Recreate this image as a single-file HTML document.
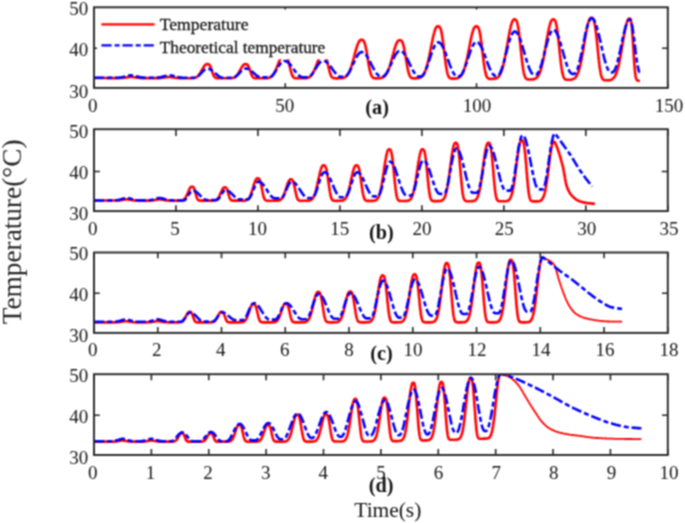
<!DOCTYPE html>
<html><head><meta charset="utf-8"><title>Temperature</title>
<style>html,body{margin:0;padding:0;background:#fff;}svg{display:block;will-change:transform;}text.lg{stroke:#151515;stroke-width:0.3px;}</style>
</head><body>
<svg width="685" height="523" viewBox="0 0 685 523">
<defs><filter id="soft" x="0" y="0" width="685" height="523" filterUnits="userSpaceOnUse" color-interpolation-filters="sRGB"><feConvolveMatrix order="3" kernelMatrix="1 2 1 2 4 2 1 2 1" edgeMode="duplicate"/></filter></defs>
<g filter="url(#soft)">
<rect width="685" height="523" fill="#fff"/>
<clipPath id="clipa"><rect x="94.0" y="7.3" width="573.8" height="80.60000000000001"/></clipPath>
<g clip-path="url(#clipa)" fill="none" stroke-linejoin="round">
<path d="M94.0 78.0 L94.7 78.0 L95.4 78.0 L96.0 78.0 L96.7 78.0 L97.4 78.0 L98.1 78.0 L98.8 78.0 L99.5 78.0 L100.1 78.0 L100.8 78.0 L101.5 78.0 L102.2 78.0 L102.9 78.0 L103.6 78.0 L104.2 78.0 L104.9 78.0 L105.6 78.0 L106.3 78.0 L107.0 78.1 L107.7 78.1 L108.3 78.1 L109.0 78.1 L109.7 78.1 L110.4 78.1 L111.1 78.1 L111.7 78.1 L112.4 78.1 L113.1 78.1 L113.8 78.1 L114.5 78.1 L115.2 78.1 L115.8 78.1 L116.5 78.1 L117.2 78.1 L117.9 78.1 L118.6 78.1 L119.3 78.0 L119.9 78.0 L120.6 78.0 L121.3 78.0 L122.0 77.9 L122.7 77.9 L123.3 77.8 L124.0 77.8 L124.7 77.7 L125.4 77.6 L126.1 77.5 L126.8 77.4 L127.4 77.2 L128.1 77.1 L128.8 77.0 L129.5 77.0 L130.2 76.9 L130.9 76.9 L131.5 76.9 L132.2 76.9 L132.9 77.0 L133.6 77.1 L134.3 77.2 L135.0 77.3 L135.6 77.4 L136.3 77.5 L137.0 77.6 L137.7 77.7 L138.4 77.8 L139.0 77.9 L139.7 77.9 L140.4 78.0 L141.1 78.0 L141.8 78.1 L142.5 78.1 L143.1 78.1 L143.8 78.1 L144.5 78.1 L145.2 78.1 L145.9 78.1 L146.6 78.1 L147.2 78.1 L147.9 78.1 L148.6 78.1 L149.3 78.1 L150.0 78.1 L150.6 78.1 L151.3 78.1 L152.0 78.1 L152.7 78.1 L153.4 78.1 L154.1 78.1 L154.7 78.1 L155.4 78.1 L156.1 78.1 L156.8 78.1 L157.5 78.1 L158.2 78.1 L158.8 78.1 L159.5 78.1 L160.2 78.0 L160.9 78.0 L161.6 77.9 L162.3 77.8 L162.9 77.8 L163.6 77.7 L164.3 77.5 L165.0 77.4 L165.7 77.3 L166.3 77.2 L167.0 77.1 L167.7 77.0 L168.4 77.0 L169.1 77.0 L169.8 77.0 L170.4 77.0 L171.1 77.1 L171.8 77.1 L172.5 77.2 L173.2 77.4 L173.9 77.5 L174.5 77.6 L175.2 77.7 L175.9 77.8 L176.6 77.9 L177.3 78.0 L177.9 78.0 L178.6 78.1 L179.3 78.1 L180.0 78.1 L180.7 78.1 L181.4 78.2 L182.0 78.2 L182.7 78.2 L183.4 78.2 L184.1 78.2 L184.8 78.2 L185.5 78.2 L186.1 78.2 L186.8 78.2 L187.5 78.2 L188.2 78.2 L188.9 78.2 L189.6 78.2 L190.2 78.2 L190.9 78.2 L191.6 78.2 L192.3 78.1 L193.0 78.1 L193.6 78.0 L194.3 77.9 L195.0 77.7 L195.7 77.5 L196.4 77.2 L196.9 76.9 L197.5 76.5 L198.0 76.0 L198.6 75.4 L199.0 74.9 L199.4 74.3 L199.8 73.7 L200.2 73.1 L200.6 72.4 L201.0 71.7 L201.4 70.9 L201.8 70.2 L202.2 69.4 L202.7 68.7 L203.1 68.0 L203.5 67.3 L203.9 66.6 L204.3 66.1 L204.7 65.5 L205.1 65.1 L205.7 64.6 L206.2 64.3 L206.9 64.1 L207.6 64.1 L208.3 64.2 L208.9 64.6 L209.5 65.1 L209.9 65.7 L210.3 66.4 L210.6 67.0 L210.8 67.7 L211.1 68.4 L211.4 69.2 L211.7 70.0 L211.9 70.8 L212.2 71.7 L212.5 72.5 L212.8 73.3 L213.0 74.0 L213.3 74.7 L213.6 75.3 L213.8 75.9 L214.3 76.6 L214.7 77.1 L215.2 77.6 L215.8 77.9 L216.4 78.1 L217.1 78.2 L217.8 78.2 L218.5 78.3 L219.2 78.3 L219.9 78.3 L220.5 78.3 L221.2 78.3 L221.9 78.3 L222.6 78.3 L223.3 78.3 L224.0 78.3 L224.6 78.3 L225.3 78.3 L226.0 78.3 L226.7 78.3 L227.4 78.3 L228.0 78.3 L228.7 78.3 L229.4 78.2 L230.1 78.2 L230.8 78.2 L231.5 78.1 L232.1 78.1 L232.8 77.9 L233.5 77.7 L234.2 77.5 L234.7 77.2 L235.3 76.9 L235.8 76.4 L236.4 75.9 L236.8 75.5 L237.2 75.0 L237.6 74.4 L238.0 73.8 L238.4 73.2 L238.8 72.5 L239.2 71.8 L239.6 71.0 L240.1 70.3 L240.5 69.5 L240.9 68.8 L241.3 68.0 L241.7 67.4 L242.1 66.7 L242.5 66.1 L242.9 65.6 L243.3 65.1 L243.9 64.7 L244.4 64.3 L245.1 64.1 L245.8 64.1 L246.5 64.2 L247.2 64.5 L247.7 65.1 L248.1 65.6 L248.5 66.4 L248.8 67.0 L249.1 67.6 L249.3 68.4 L249.6 69.1 L249.9 69.9 L250.2 70.8 L250.4 71.6 L250.7 72.4 L251.0 73.2 L251.3 74.0 L251.5 74.7 L251.8 75.3 L252.1 75.9 L252.5 76.6 L252.9 77.2 L253.4 77.7 L254.0 78.0 L254.7 78.2 L255.3 78.3 L256.0 78.3 L256.7 78.3 L257.4 78.3 L258.1 78.3 L258.8 78.3 L259.4 78.3 L260.1 78.3 L260.8 78.3 L261.5 78.3 L262.2 78.3 L262.9 78.3 L263.5 78.3 L264.2 78.3 L264.9 78.3 L265.6 78.3 L266.3 78.2 L266.9 78.2 L267.6 78.1 L268.3 78.0 L269.0 77.8 L269.7 77.6 L270.4 77.3 L270.9 77.0 L271.5 76.6 L272.0 76.1 L272.5 75.5 L273.0 75.0 L273.4 74.5 L273.8 73.9 L274.2 73.2 L274.6 72.5 L275.0 71.7 L275.3 71.1 L275.5 70.5 L275.8 69.9 L276.1 69.2 L276.4 68.6 L276.6 67.9 L276.9 67.2 L277.2 66.5 L277.5 65.8 L277.7 65.1 L278.0 64.4 L278.3 63.7 L278.6 63.0 L278.8 62.3 L279.1 61.6 L279.4 60.9 L279.6 60.3 L279.9 59.7 L280.2 59.1 L280.5 58.5 L280.9 57.7 L281.3 57.0 L281.7 56.4 L282.1 55.9 L282.6 55.4 L283.2 55.0 L283.9 54.9 L284.6 54.9 L285.2 55.0 L285.8 55.3 L286.3 55.8 L286.7 56.4 L287.2 57.2 L287.4 57.9 L287.7 58.6 L288.0 59.5 L288.2 60.4 L288.5 61.4 L288.8 62.4 L289.1 63.5 L289.3 64.7 L289.6 65.9 L289.7 66.5 L289.9 67.0 L290.0 67.6 L290.3 68.8 L290.6 69.9 L290.8 71.0 L291.1 72.0 L291.4 72.9 L291.7 73.8 L291.9 74.5 L292.2 75.2 L292.5 75.8 L292.9 76.6 L293.3 77.1 L293.8 77.6 L294.4 78.0 L295.1 78.2 L295.8 78.3 L296.4 78.3 L297.1 78.3 L297.8 78.3 L298.5 78.3 L299.2 78.3 L299.8 78.3 L300.5 78.3 L301.2 78.3 L301.9 78.3 L302.6 78.3 L303.3 78.3 L303.9 78.3 L304.6 78.3 L305.3 78.2 L306.0 78.2 L306.7 78.1 L307.4 77.9 L308.0 77.7 L308.7 77.4 L309.3 77.2 L309.8 76.8 L310.4 76.4 L310.9 75.9 L311.3 75.4 L311.7 74.9 L312.1 74.3 L312.5 73.7 L313.0 73.0 L313.4 72.2 L313.6 71.7 L313.9 71.1 L314.2 70.5 L314.5 69.9 L314.7 69.3 L315.0 68.6 L315.3 67.9 L315.5 67.3 L315.8 66.6 L316.1 65.9 L316.4 65.1 L316.6 64.4 L316.9 63.7 L317.2 63.0 L317.5 62.3 L317.7 61.6 L318.0 60.9 L318.3 60.3 L318.5 59.7 L318.8 59.1 L319.1 58.5 L319.5 57.7 L319.9 57.0 L320.3 56.4 L320.7 55.9 L321.3 55.4 L321.8 55.0 L322.5 54.9 L323.2 54.9 L323.9 55.0 L324.4 55.3 L325.0 55.8 L325.4 56.4 L325.8 57.2 L326.1 57.9 L326.3 58.6 L326.6 59.5 L326.9 60.4 L327.1 61.4 L327.4 62.4 L327.7 63.5 L328.0 64.7 L328.1 65.3 L328.2 65.8 L328.4 66.4 L328.5 67.0 L328.6 67.6 L328.9 68.8 L329.2 69.9 L329.5 71.0 L329.7 72.0 L330.0 72.9 L330.3 73.8 L330.6 74.5 L330.8 75.2 L331.1 75.8 L331.5 76.6 L331.9 77.1 L332.5 77.7 L333.0 78.0 L333.7 78.2 L334.4 78.3 L335.1 78.3 L335.7 78.4 L336.4 78.4 L337.1 78.4 L337.8 78.4 L338.5 78.3 L339.2 78.3 L339.8 78.3 L340.5 78.3 L341.2 78.2 L341.9 78.1 L342.6 78.0 L343.3 77.9 L343.9 77.6 L344.6 77.4 L345.2 77.1 L345.7 76.7 L346.3 76.2 L346.8 75.7 L347.2 75.2 L347.6 74.7 L348.0 74.1 L348.4 73.4 L348.9 72.7 L349.1 72.1 L349.4 71.6 L349.7 71.0 L349.9 70.3 L350.2 69.6 L350.5 68.9 L350.8 68.2 L351.0 67.4 L351.3 66.6 L351.6 65.7 L351.9 64.8 L352.1 63.9 L352.4 63.0 L352.7 62.0 L352.9 61.1 L353.2 60.1 L353.5 59.0 L353.8 58.0 L354.0 57.0 L354.3 56.0 L354.6 54.9 L354.9 53.9 L355.1 52.9 L355.4 51.9 L355.7 50.9 L355.9 49.9 L356.2 49.0 L356.5 48.0 L356.8 47.2 L357.0 46.3 L357.3 45.5 L357.6 44.7 L357.9 44.0 L358.1 43.4 L358.4 42.8 L358.7 42.2 L359.1 41.5 L359.5 40.9 L359.9 40.4 L360.5 40.0 L361.1 39.8 L361.8 39.7 L362.5 39.9 L363.0 40.2 L363.6 40.8 L364.0 41.5 L364.3 42.1 L364.5 42.8 L364.8 43.6 L365.1 44.5 L365.4 45.6 L365.6 46.7 L365.8 47.4 L365.9 48.0 L366.1 48.7 L366.2 49.4 L366.3 50.1 L366.5 50.9 L366.6 51.6 L366.7 52.4 L366.9 53.2 L367.0 54.0 L367.1 54.8 L367.3 55.7 L367.4 56.5 L367.6 57.4 L367.7 58.2 L367.8 59.1 L368.0 59.9 L368.1 60.8 L368.2 61.6 L368.4 62.5 L368.5 63.3 L368.6 64.1 L368.8 64.9 L368.9 65.7 L369.1 66.4 L369.2 67.2 L369.3 67.9 L369.5 68.6 L369.6 69.2 L369.7 69.9 L369.9 70.5 L370.0 71.1 L370.3 72.2 L370.6 73.2 L370.8 74.1 L371.1 74.8 L371.4 75.5 L371.6 76.1 L372.1 76.8 L372.5 77.3 L373.0 77.7 L373.6 78.0 L374.2 78.2 L374.9 78.3 L375.6 78.4 L376.3 78.4 L377.0 78.4 L377.7 78.3 L378.3 78.3 L379.0 78.3 L379.7 78.2 L380.4 78.1 L381.1 78.0 L381.7 77.8 L382.4 77.6 L383.1 77.3 L383.7 76.9 L384.2 76.5 L384.8 76.1 L385.3 75.5 L385.7 75.0 L386.1 74.4 L386.5 73.8 L386.9 73.1 L387.3 72.3 L387.6 71.7 L387.9 71.1 L388.2 70.5 L388.4 69.8 L388.7 69.1 L389.0 68.4 L389.3 67.6 L389.5 66.8 L389.8 66.0 L390.1 65.1 L390.3 64.2 L390.6 63.3 L390.9 62.3 L391.2 61.4 L391.4 60.4 L391.7 59.4 L392.0 58.4 L392.3 57.4 L392.5 56.3 L392.8 55.3 L393.1 54.3 L393.4 53.3 L393.6 52.3 L393.9 51.3 L394.2 50.3 L394.4 49.4 L394.7 48.5 L395.0 47.6 L395.3 46.7 L395.5 45.9 L395.8 45.2 L396.1 44.5 L396.4 43.8 L396.6 43.2 L396.9 42.6 L397.3 41.9 L397.7 41.3 L398.1 40.8 L398.7 40.4 L399.4 40.2 L400.0 40.2 L400.7 40.3 L401.3 40.6 L401.8 41.2 L402.2 41.8 L402.5 42.4 L402.8 43.1 L403.0 43.9 L403.3 44.8 L403.6 45.8 L403.9 46.9 L404.0 47.6 L404.1 48.2 L404.3 48.9 L404.4 49.5 L404.5 50.2 L404.7 51.0 L404.8 51.7 L405.0 52.5 L405.1 53.3 L405.2 54.1 L405.4 54.9 L405.5 55.7 L405.6 56.6 L405.8 57.4 L405.9 58.2 L406.0 59.1 L406.2 59.9 L406.3 60.8 L406.5 61.6 L406.6 62.4 L406.7 63.3 L406.9 64.1 L407.0 64.9 L407.1 65.6 L407.3 66.4 L407.4 67.1 L407.5 67.8 L407.7 68.5 L407.8 69.2 L408.0 69.8 L408.1 70.5 L408.2 71.1 L408.5 72.2 L408.8 73.2 L409.0 74.0 L409.3 74.8 L409.6 75.5 L409.9 76.1 L410.3 76.8 L410.7 77.3 L411.2 77.8 L411.8 78.1 L412.5 78.3 L413.1 78.4 L413.8 78.4 L414.5 78.4 L415.2 78.4 L415.9 78.4 L416.6 78.3 L417.2 78.3 L417.9 78.2 L418.6 78.1 L419.3 77.9 L420.0 77.7 L420.7 77.3 L421.2 77.0 L421.7 76.6 L422.3 76.1 L422.7 75.6 L423.1 75.1 L423.5 74.5 L423.9 73.9 L424.3 73.1 L424.6 72.5 L424.9 71.9 L425.2 71.3 L425.4 70.6 L425.7 69.8 L426.0 69.0 L426.2 68.2 L426.5 67.3 L426.8 66.4 L427.1 65.4 L427.3 64.4 L427.6 63.3 L427.9 62.2 L428.2 61.0 L428.3 60.4 L428.4 59.8 L428.6 59.2 L428.7 58.6 L428.8 58.0 L429.0 57.3 L429.1 56.7 L429.3 56.0 L429.4 55.4 L429.5 54.7 L429.7 54.0 L429.8 53.3 L429.9 52.7 L430.1 52.0 L430.2 51.3 L430.3 50.6 L430.5 49.9 L430.6 49.2 L430.8 48.5 L430.9 47.8 L431.0 47.1 L431.2 46.4 L431.3 45.7 L431.4 45.0 L431.6 44.3 L431.7 43.6 L431.8 42.9 L432.0 42.3 L432.1 41.6 L432.3 40.9 L432.4 40.3 L432.5 39.6 L432.7 39.0 L432.8 38.4 L432.9 37.7 L433.1 37.1 L433.2 36.5 L433.5 35.4 L433.8 34.3 L434.0 33.2 L434.3 32.3 L434.6 31.3 L434.8 30.5 L435.1 29.7 L435.4 29.0 L435.7 28.4 L435.9 27.9 L436.3 27.2 L436.8 26.7 L437.3 26.4 L438.0 26.2 L438.7 26.3 L439.2 26.6 L439.8 27.1 L440.2 27.8 L440.4 28.5 L440.7 29.2 L441.0 30.1 L441.3 31.2 L441.4 31.8 L441.5 32.4 L441.7 33.1 L441.8 33.8 L441.9 34.6 L442.1 35.4 L442.2 36.2 L442.4 37.1 L442.5 38.0 L442.6 38.9 L442.8 39.9 L442.9 40.8 L443.0 41.9 L443.2 42.9 L443.3 44.0 L443.4 45.1 L443.6 46.2 L443.7 47.3 L443.9 48.5 L444.0 49.6 L444.1 50.8 L444.3 51.9 L444.4 53.1 L444.5 54.2 L444.7 55.4 L444.8 56.5 L444.9 57.6 L445.1 58.7 L445.2 59.8 L445.4 60.9 L445.5 61.9 L445.6 62.9 L445.8 63.9 L445.9 64.9 L446.0 65.8 L446.2 66.7 L446.3 67.6 L446.5 68.4 L446.6 69.2 L446.7 69.9 L446.9 70.6 L447.0 71.3 L447.1 71.9 L447.3 72.5 L447.5 73.6 L447.8 74.5 L448.1 75.3 L448.4 76.0 L448.6 76.6 L449.0 77.2 L449.5 77.7 L450.0 78.1 L450.5 78.4 L451.2 78.5 L451.9 78.6 L452.6 78.6 L453.3 78.6 L454.0 78.6 L454.6 78.6 L455.3 78.5 L456.0 78.5 L456.7 78.4 L457.4 78.2 L458.1 78.0 L458.7 77.7 L459.3 77.4 L459.8 77.0 L460.4 76.5 L460.9 76.0 L461.3 75.4 L461.7 74.8 L462.1 74.2 L462.6 73.4 L462.8 72.8 L463.1 72.2 L463.4 71.6 L463.6 70.9 L463.9 70.2 L464.2 69.4 L464.5 68.5 L464.7 67.7 L465.0 66.7 L465.3 65.8 L465.6 64.7 L465.8 63.7 L466.1 62.5 L466.4 61.4 L466.5 60.8 L466.7 60.2 L466.8 59.6 L466.9 58.9 L467.1 58.3 L467.2 57.7 L467.3 57.0 L467.5 56.3 L467.6 55.7 L467.7 55.0 L467.9 54.3 L468.0 53.7 L468.2 53.0 L468.3 52.3 L468.4 51.6 L468.6 50.9 L468.7 50.2 L468.8 49.5 L469.0 48.8 L469.1 48.1 L469.2 47.4 L469.4 46.7 L469.5 46.0 L469.7 45.3 L469.8 44.6 L469.9 43.9 L470.1 43.2 L470.2 42.5 L470.3 41.8 L470.5 41.2 L470.6 40.5 L470.7 39.8 L470.9 39.2 L471.0 38.6 L471.2 37.9 L471.3 37.3 L471.4 36.7 L471.6 36.1 L471.8 35.0 L472.1 33.9 L472.4 32.9 L472.7 31.9 L472.9 31.0 L473.2 30.2 L473.5 29.5 L473.8 28.8 L474.0 28.2 L474.4 27.5 L474.8 26.9 L475.4 26.4 L476.1 26.2 L476.8 26.3 L477.4 26.5 L478.0 27.1 L478.4 27.8 L478.7 28.4 L478.9 29.2 L479.2 30.1 L479.5 31.1 L479.6 31.7 L479.8 32.3 L479.9 33.0 L480.0 33.7 L480.2 34.4 L480.3 35.2 L480.4 36.1 L480.6 36.9 L480.7 37.8 L480.8 38.7 L481.0 39.7 L481.1 40.7 L481.3 41.7 L481.4 42.8 L481.5 43.8 L481.7 44.9 L481.8 46.0 L481.9 47.2 L482.1 48.3 L482.2 49.5 L482.4 50.6 L482.5 51.8 L482.6 53.0 L482.8 54.1 L482.9 55.3 L483.0 56.4 L483.2 57.5 L483.3 58.7 L483.4 59.8 L483.6 60.8 L483.7 61.9 L483.9 62.9 L484.0 63.9 L484.1 64.9 L484.3 65.8 L484.4 66.7 L484.5 67.6 L484.7 68.4 L484.8 69.2 L484.9 70.0 L485.1 70.7 L485.2 71.4 L485.4 72.0 L485.5 72.6 L485.8 73.7 L486.0 74.7 L486.3 75.5 L486.6 76.2 L486.9 76.8 L487.3 77.5 L487.7 78.0 L488.2 78.4 L488.8 78.7 L489.4 78.9 L490.1 78.9 L490.8 79.0 L491.5 79.0 L492.2 78.9 L492.9 78.9 L493.5 78.8 L494.2 78.8 L494.9 78.6 L495.6 78.5 L496.3 78.2 L496.8 78.0 L497.4 77.7 L497.9 77.3 L498.5 76.8 L498.9 76.3 L499.3 75.8 L499.7 75.2 L500.1 74.5 L500.5 73.7 L500.8 73.1 L501.1 72.5 L501.3 71.8 L501.6 71.1 L501.9 70.3 L502.1 69.4 L502.4 68.6 L502.7 67.6 L503.0 66.6 L503.2 65.6 L503.5 64.5 L503.8 63.3 L503.9 62.7 L504.1 62.1 L504.2 61.5 L504.3 60.8 L504.5 60.2 L504.6 59.5 L504.7 58.8 L504.9 58.1 L505.0 57.4 L505.1 56.7 L505.3 56.0 L505.4 55.3 L505.6 54.6 L505.7 53.8 L505.8 53.1 L506.0 52.3 L506.1 51.5 L506.2 50.7 L506.4 50.0 L506.5 49.2 L506.6 48.4 L506.8 47.6 L506.9 46.8 L507.1 46.0 L507.2 45.2 L507.3 44.4 L507.5 43.6 L507.6 42.8 L507.7 42.0 L507.9 41.2 L508.0 40.4 L508.1 39.6 L508.3 38.8 L508.4 38.1 L508.6 37.3 L508.7 36.5 L508.8 35.8 L509.0 35.0 L509.1 34.3 L509.2 33.6 L509.4 32.9 L509.5 32.2 L509.7 31.5 L509.8 30.8 L509.9 30.1 L510.1 29.5 L510.2 28.9 L510.3 28.2 L510.5 27.6 L510.7 26.5 L511.0 25.4 L511.3 24.5 L511.6 23.6 L511.8 22.8 L512.1 22.0 L512.4 21.4 L512.7 20.9 L513.1 20.2 L513.5 19.7 L514.0 19.4 L514.7 19.4 L515.4 19.6 L515.9 20.0 L516.3 20.5 L516.6 21.1 L516.9 21.8 L517.2 22.6 L517.4 23.6 L517.7 24.8 L517.8 25.5 L518.0 26.2 L518.1 26.9 L518.3 27.7 L518.4 28.6 L518.5 29.4 L518.7 30.4 L518.8 31.3 L518.9 32.3 L519.1 33.4 L519.2 34.5 L519.3 35.6 L519.5 36.8 L519.6 38.0 L519.8 39.2 L519.9 40.4 L520.0 41.7 L520.2 43.0 L520.3 44.3 L520.4 45.6 L520.6 46.9 L520.7 48.2 L520.8 49.5 L521.0 50.9 L521.1 52.2 L521.3 53.5 L521.4 54.8 L521.5 56.1 L521.7 57.3 L521.8 58.5 L521.9 59.8 L522.1 60.9 L522.2 62.1 L522.3 63.2 L522.5 64.3 L522.6 65.3 L522.8 66.3 L522.9 67.3 L523.0 68.2 L523.2 69.1 L523.3 69.9 L523.4 70.7 L523.6 71.4 L523.7 72.1 L523.8 72.8 L524.0 73.4 L524.3 74.5 L524.5 75.5 L524.8 76.3 L525.1 77.0 L525.3 77.5 L525.8 78.2 L526.2 78.7 L526.7 79.1 L527.4 79.3 L528.1 79.5 L528.8 79.5 L529.4 79.5 L530.1 79.5 L530.8 79.5 L531.5 79.5 L532.2 79.4 L532.9 79.4 L533.5 79.2 L534.2 79.1 L534.9 78.8 L535.5 78.6 L536.0 78.2 L536.5 77.8 L537.1 77.3 L537.5 76.9 L537.9 76.3 L538.3 75.7 L538.7 75.0 L539.1 74.2 L539.4 73.6 L539.7 73.0 L540.0 72.3 L540.2 71.6 L540.5 70.8 L540.8 69.9 L541.0 69.0 L541.3 68.1 L541.6 67.1 L541.9 66.0 L542.1 64.9 L542.4 63.7 L542.5 63.1 L542.7 62.5 L542.8 61.9 L543.0 61.2 L543.1 60.6 L543.2 59.9 L543.4 59.2 L543.5 58.5 L543.6 57.8 L543.8 57.1 L543.9 56.4 L544.1 55.7 L544.2 54.9 L544.3 54.2 L544.5 53.4 L544.6 52.6 L544.7 51.9 L544.9 51.1 L545.0 50.3 L545.1 49.5 L545.3 48.7 L545.4 47.9 L545.6 47.1 L545.7 46.3 L545.8 45.5 L546.0 44.7 L546.1 43.9 L546.2 43.1 L546.4 42.3 L546.5 41.5 L546.6 40.7 L546.8 39.9 L546.9 39.1 L547.1 38.3 L547.2 37.5 L547.3 36.7 L547.5 36.0 L547.6 35.2 L547.7 34.5 L547.9 33.8 L548.0 33.0 L548.1 32.3 L548.3 31.6 L548.4 30.9 L548.6 30.3 L548.7 29.6 L548.8 29.0 L549.0 28.4 L549.1 27.8 L549.4 26.6 L549.6 25.5 L549.9 24.6 L550.2 23.6 L550.5 22.8 L550.7 22.1 L551.0 21.4 L551.3 20.9 L551.7 20.2 L552.1 19.8 L552.6 19.4 L553.3 19.4 L554.0 19.5 L554.6 20.0 L555.0 20.5 L555.2 21.1 L555.5 21.7 L555.8 22.6 L556.1 23.6 L556.3 24.8 L556.5 25.4 L556.6 26.2 L556.7 26.9 L556.9 27.7 L557.0 28.6 L557.2 29.4 L557.3 30.4 L557.4 31.3 L557.6 32.4 L557.7 33.4 L557.8 34.5 L558.0 35.6 L558.1 36.8 L558.2 38.0 L558.4 39.2 L558.5 40.5 L558.7 41.7 L558.8 43.0 L558.9 44.3 L559.1 45.7 L559.2 47.0 L559.3 48.3 L559.5 49.7 L559.6 51.0 L559.7 52.3 L559.9 53.6 L560.0 54.9 L560.2 56.2 L560.3 57.5 L560.4 58.7 L560.6 59.9 L560.7 61.1 L560.8 62.3 L561.0 63.4 L561.1 64.5 L561.2 65.5 L561.4 66.6 L561.5 67.5 L561.7 68.4 L561.8 69.3 L561.9 70.2 L562.1 71.0 L562.2 71.7 L562.3 72.4 L562.5 73.1 L562.6 73.7 L562.9 74.8 L563.2 75.8 L563.4 76.6 L563.7 77.3 L564.0 77.9 L564.4 78.5 L564.8 79.0 L565.3 79.4 L566.0 79.7 L566.7 79.8 L567.4 79.8 L568.1 79.8 L568.8 79.8 L569.4 79.8 L570.1 79.8 L570.8 79.7 L571.5 79.6 L572.2 79.4 L572.9 79.2 L573.5 78.9 L574.1 78.6 L574.6 78.2 L575.2 77.7 L575.6 77.3 L576.0 76.8 L576.4 76.2 L576.8 75.5 L577.2 74.7 L577.5 74.1 L577.8 73.5 L578.0 72.8 L578.3 72.1 L578.6 71.3 L578.9 70.5 L579.1 69.6 L579.4 68.7 L579.7 67.6 L580.0 66.6 L580.2 65.5 L580.5 64.3 L580.6 63.7 L580.8 63.1 L580.9 62.4 L581.0 61.8 L581.2 61.1 L581.3 60.4 L581.5 59.8 L581.6 59.1 L581.7 58.3 L581.9 57.6 L582.0 56.9 L582.1 56.1 L582.3 55.4 L582.4 54.6 L582.5 53.9 L582.7 53.1 L582.8 52.3 L583.0 51.5 L583.1 50.7 L583.2 49.9 L583.4 49.0 L583.5 48.2 L583.6 47.4 L583.8 46.6 L583.9 45.7 L584.0 44.9 L584.2 44.1 L584.3 43.2 L584.5 42.4 L584.6 41.6 L584.7 40.7 L584.9 39.9 L585.0 39.1 L585.1 38.3 L585.3 37.5 L585.4 36.7 L585.5 35.9 L585.7 35.1 L585.8 34.3 L586.0 33.5 L586.1 32.8 L586.2 32.0 L586.4 31.3 L586.5 30.6 L586.6 29.9 L586.8 29.2 L586.9 28.5 L587.0 27.8 L587.2 27.2 L587.3 26.6 L587.5 26.0 L587.6 25.4 L587.9 24.2 L588.1 23.2 L588.4 22.3 L588.7 21.4 L589.0 20.6 L589.2 20.0 L589.5 19.4 L589.9 18.7 L590.3 18.2 L590.9 17.8 L591.6 17.8 L592.2 17.9 L592.8 18.3 L593.2 18.9 L593.5 19.4 L593.7 20.1 L594.0 21.0 L594.3 22.0 L594.6 23.2 L594.7 23.9 L594.8 24.6 L595.0 25.4 L595.1 26.2 L595.2 27.1 L595.4 28.0 L595.5 28.9 L595.6 29.9 L595.8 31.0 L595.9 32.0 L596.1 33.2 L596.2 34.3 L596.3 35.5 L596.5 36.7 L596.6 38.0 L596.7 39.3 L596.9 40.6 L597.0 41.9 L597.1 43.3 L597.3 44.6 L597.4 46.0 L597.6 47.4 L597.7 48.8 L597.8 50.1 L598.0 51.5 L598.1 52.9 L598.2 54.2 L598.4 55.6 L598.5 56.9 L598.7 58.2 L598.8 59.4 L598.9 60.7 L599.1 61.9 L599.2 63.0 L599.3 64.2 L599.5 65.3 L599.6 66.3 L599.7 67.3 L599.9 68.3 L600.0 69.2 L600.2 70.1 L600.3 70.9 L600.4 71.7 L600.6 72.5 L600.7 73.2 L600.8 73.8 L601.0 74.4 L601.2 75.5 L601.5 76.5 L601.8 77.3 L602.1 77.9 L602.3 78.5 L602.7 79.1 L603.2 79.5 L603.7 79.9 L604.4 80.2 L605.1 80.3 L605.7 80.3 L606.4 80.3 L607.1 80.3 L607.8 80.3 L608.5 80.3 L609.2 80.2 L609.8 80.1 L610.5 79.9 L611.2 79.7 L611.9 79.4 L612.4 79.1 L613.0 78.6 L613.5 78.1 L613.9 77.7 L614.3 77.1 L614.8 76.5 L615.2 75.8 L615.6 75.0 L615.9 74.4 L616.1 73.8 L616.4 73.1 L616.7 72.3 L616.9 71.5 L617.2 70.7 L617.5 69.8 L617.8 68.8 L618.0 67.8 L618.3 66.7 L618.6 65.6 L618.7 65.0 L618.9 64.4 L619.0 63.8 L619.1 63.2 L619.3 62.5 L619.4 61.9 L619.5 61.2 L619.7 60.5 L619.8 59.8 L619.9 59.1 L620.1 58.4 L620.2 57.7 L620.4 56.9 L620.5 56.2 L620.6 55.4 L620.8 54.7 L620.9 53.9 L621.0 53.1 L621.2 52.3 L621.3 51.5 L621.4 50.7 L621.6 49.9 L621.7 49.1 L621.9 48.3 L622.0 47.4 L622.1 46.6 L622.3 45.8 L622.4 44.9 L622.5 44.1 L622.7 43.3 L622.8 42.5 L622.9 41.6 L623.1 40.8 L623.2 40.0 L623.4 39.2 L623.5 38.4 L623.6 37.6 L623.8 36.8 L623.9 36.0 L624.0 35.2 L624.2 34.4 L624.3 33.7 L624.5 32.9 L624.6 32.2 L624.7 31.5 L624.9 30.8 L625.0 30.1 L625.1 29.4 L625.3 28.7 L625.4 28.1 L625.5 27.5 L625.7 26.9 L625.8 26.3 L626.1 25.2 L626.4 24.1 L626.6 23.2 L626.9 22.3 L627.2 21.5 L627.5 20.8 L627.7 20.2 L628.1 19.5 L628.5 19.0 L629.1 18.7 L629.8 18.6 L630.3 18.9 L630.7 19.8 L631.0 20.8 L631.1 21.5 L631.3 22.2 L631.4 23.1 L631.5 24.2 L631.7 25.3 L631.8 26.6 L632.0 28.0 L632.1 29.5 L632.2 31.2 L632.4 33.0 L632.5 34.8 L632.6 36.8 L632.8 38.9 L632.9 41.0 L633.0 43.2 L633.2 45.4 L633.3 47.7 L633.5 49.9 L633.6 52.2 L633.7 54.4 L633.9 56.6 L634.0 58.7 L634.1 60.8 L634.3 62.7 L634.4 64.6 L634.6 66.4 L634.7 68.0 L634.8 69.6 L635.0 71.0 L635.1 72.3 L635.2 73.5 L635.4 74.5 L635.5 75.5 L635.6 76.3 L635.8 77.0 L635.9 77.6 L636.2 78.6 L636.5 79.4 L636.9 80.0 L637.4 80.4 L638.1 80.6 L638.8 80.7 L639.5 80.7 L639.9 80.7" stroke="#ff0000" stroke-width="2.6"/>
<path d="M94.0 77.8 L94.7 77.8 L95.4 77.8 L96.0 77.8 L96.7 77.8 L97.4 77.8 L98.1 77.8 L98.8 77.8 L99.5 77.8 L100.1 77.8 L100.8 77.8 L101.5 77.8 L102.2 77.8 L102.9 77.8 L103.6 77.8 L104.2 77.8 L104.9 77.8 L105.6 77.8 L106.3 77.8 L107.0 77.8 L107.7 77.8 L108.3 77.8 L109.0 77.8 L109.7 77.8 L110.4 77.8 L111.1 77.8 L111.7 77.8 L112.4 77.8 L113.1 77.8 L113.8 77.8 L114.5 77.8 L115.2 77.8 L115.8 77.8 L116.5 77.8 L117.2 77.7 L117.9 77.7 L118.6 77.7 L119.3 77.6 L119.9 77.5 L120.6 77.5 L121.3 77.4 L122.0 77.2 L122.7 77.1 L123.3 77.0 L124.0 76.8 L124.7 76.6 L125.4 76.4 L126.1 76.3 L126.8 76.1 L127.4 75.9 L128.1 75.7 L128.8 75.6 L129.5 75.5 L130.2 75.4 L130.9 75.4 L131.5 75.4 L132.2 75.5 L132.9 75.5 L133.6 75.6 L134.3 75.8 L135.0 75.9 L135.6 76.1 L136.3 76.3 L137.0 76.5 L137.7 76.7 L138.4 76.8 L139.0 77.0 L139.7 77.1 L140.4 77.3 L141.1 77.4 L141.8 77.5 L142.5 77.6 L143.1 77.6 L143.8 77.7 L144.5 77.7 L145.2 77.7 L145.9 77.8 L146.6 77.8 L147.2 77.8 L147.9 77.8 L148.6 77.8 L149.3 77.8 L150.0 77.8 L150.6 77.8 L151.3 77.8 L152.0 77.8 L152.7 77.8 L153.4 77.8 L154.1 77.8 L154.7 77.8 L155.4 77.7 L156.1 77.7 L156.8 77.7 L157.5 77.6 L158.2 77.5 L158.8 77.5 L159.5 77.4 L160.2 77.2 L160.9 77.1 L161.6 77.0 L162.3 76.8 L162.9 76.6 L163.6 76.4 L164.3 76.3 L165.0 76.1 L165.7 75.9 L166.3 75.8 L167.0 75.6 L167.7 75.5 L168.4 75.4 L169.1 75.4 L169.8 75.4 L170.4 75.5 L171.1 75.5 L171.8 75.6 L172.5 75.8 L173.2 75.9 L173.9 76.1 L174.5 76.3 L175.2 76.5 L175.9 76.7 L176.6 76.8 L177.3 77.0 L177.9 77.1 L178.6 77.3 L179.3 77.4 L180.0 77.5 L180.7 77.6 L181.4 77.6 L182.0 77.7 L182.7 77.7 L183.4 77.7 L184.1 77.8 L184.8 77.8 L185.5 77.8 L186.1 77.8 L186.8 77.8 L187.5 77.8 L188.2 77.8 L188.9 77.8 L189.6 77.8 L190.2 77.8 L190.9 77.8 L191.6 77.8 L192.3 77.8 L193.0 77.8 L193.6 77.8 L194.3 77.8 L195.0 77.8 L195.7 77.6 L196.4 77.3 L196.9 77.0 L197.5 76.7 L198.0 76.3 L198.6 75.8 L199.1 75.3 L199.7 74.7 L200.2 74.2 L200.7 73.6 L201.2 73.1 L201.6 72.7 L202.1 72.1 L202.7 71.6 L203.2 71.0 L203.7 70.5 L204.3 70.1 L204.8 69.7 L205.4 69.4 L205.9 69.1 L206.6 68.9 L207.3 68.8 L208.0 68.8 L208.7 68.9 L209.3 69.0 L210.0 69.3 L210.6 69.6 L211.1 69.9 L211.7 70.2 L212.2 70.6 L212.8 71.0 L213.3 71.5 L213.8 71.9 L214.4 72.4 L214.9 72.9 L215.5 73.4 L216.0 73.9 L216.6 74.4 L217.1 74.9 L217.7 75.3 L218.2 75.8 L218.8 76.2 L219.3 76.5 L219.9 76.9 L220.4 77.2 L221.1 77.4 L221.8 77.7 L222.4 77.8 L223.1 77.8 L223.8 77.8 L224.5 77.8 L225.2 77.8 L225.9 77.8 L226.5 77.8 L227.2 77.8 L227.9 77.8 L228.6 77.8 L229.3 77.8 L230.0 77.8 L230.6 77.8 L231.3 77.8 L232.0 77.8 L232.7 77.8 L233.4 77.8 L234.1 77.6 L234.7 77.3 L235.3 77.0 L235.8 76.6 L236.4 76.1 L236.9 75.6 L237.5 75.1 L238.0 74.6 L238.6 74.0 L239.0 73.5 L239.4 73.1 L239.8 72.6 L240.2 72.2 L240.7 71.6 L241.3 71.0 L241.8 70.5 L242.4 70.1 L242.9 69.6 L243.5 69.3 L244.0 69.0 L244.7 68.7 L245.4 68.6 L246.1 68.6 L246.7 68.6 L247.4 68.8 L248.1 69.0 L248.8 69.3 L249.3 69.6 L249.9 69.9 L250.4 70.3 L251.0 70.7 L251.5 71.2 L252.1 71.6 L252.6 72.1 L253.2 72.6 L253.7 73.1 L254.3 73.6 L254.8 74.0 L255.3 74.5 L255.9 75.0 L256.4 75.4 L257.0 75.8 L257.5 76.2 L258.1 76.5 L258.6 76.8 L259.3 77.0 L260.0 77.3 L260.7 77.4 L261.4 77.4 L262.0 77.4 L262.7 77.4 L263.4 77.4 L264.1 77.4 L264.8 77.4 L265.4 77.4 L266.1 77.4 L266.8 77.4 L267.5 77.4 L268.2 77.4 L268.9 77.4 L269.5 77.4 L270.2 77.2 L270.8 76.9 L271.3 76.5 L271.9 76.1 L272.4 75.6 L272.8 75.1 L273.2 74.6 L273.6 74.1 L274.0 73.5 L274.5 72.9 L274.9 72.3 L275.3 71.6 L275.7 71.0 L276.1 70.3 L276.5 69.6 L276.9 68.9 L277.3 68.3 L277.7 67.6 L278.1 66.9 L278.6 66.3 L279.0 65.6 L279.4 65.0 L279.8 64.5 L280.2 63.9 L280.6 63.4 L281.0 63.0 L281.6 62.4 L282.1 61.9 L282.6 61.6 L283.2 61.3 L283.9 61.0 L284.6 61.0 L285.2 61.0 L285.9 61.2 L286.6 61.5 L287.2 61.8 L287.7 62.2 L288.2 62.6 L288.8 63.1 L289.3 63.7 L289.7 64.1 L290.2 64.6 L290.6 65.0 L291.0 65.6 L291.4 66.1 L291.8 66.6 L292.2 67.2 L292.6 67.7 L293.0 68.3 L293.4 68.9 L293.8 69.5 L294.2 70.0 L294.7 70.6 L295.1 71.2 L295.5 71.7 L295.9 72.2 L296.3 72.8 L296.7 73.3 L297.1 73.7 L297.5 74.2 L298.1 74.8 L298.6 75.3 L299.2 75.8 L299.7 76.2 L300.3 76.5 L300.8 76.8 L301.5 77.0 L302.2 77.2 L302.8 77.2 L303.5 77.2 L304.2 77.2 L304.9 77.2 L305.6 77.2 L306.3 77.2 L306.9 77.2 L307.6 77.2 L308.3 77.1 L309.0 76.9 L309.5 76.6 L310.1 76.2 L310.6 75.8 L311.2 75.2 L311.6 74.7 L312.0 74.2 L312.4 73.7 L312.8 73.1 L313.2 72.5 L313.6 71.9 L314.0 71.2 L314.5 70.6 L314.9 69.9 L315.3 69.2 L315.7 68.5 L316.1 67.9 L316.5 67.2 L316.9 66.5 L317.3 65.9 L317.7 65.3 L318.1 64.7 L318.5 64.1 L319.0 63.6 L319.4 63.1 L319.8 62.7 L320.3 62.1 L320.9 61.7 L321.4 61.3 L322.0 61.1 L322.6 60.9 L323.3 60.8 L324.0 60.9 L324.7 61.1 L325.4 61.4 L325.9 61.7 L326.5 62.1 L327.0 62.5 L327.6 63.0 L328.1 63.6 L328.5 64.0 L328.9 64.5 L329.3 65.0 L329.7 65.5 L330.2 66.0 L330.6 66.5 L331.0 67.1 L331.4 67.6 L331.8 68.2 L332.2 68.8 L332.6 69.3 L333.0 69.9 L333.4 70.5 L333.8 71.0 L334.2 71.6 L334.7 72.1 L335.1 72.6 L335.5 73.1 L335.9 73.5 L336.3 74.0 L336.8 74.5 L337.4 75.0 L337.9 75.5 L338.5 75.9 L339.0 76.2 L339.6 76.5 L340.3 76.7 L340.9 76.8 L341.6 76.8 L342.3 76.8 L343.0 76.8 L343.7 76.8 L344.3 76.8 L345.0 76.7 L345.7 76.4 L346.3 76.0 L346.8 75.5 L347.2 75.0 L347.6 74.5 L348.0 74.0 L348.4 73.4 L348.9 72.7 L349.3 72.1 L349.7 71.3 L350.1 70.6 L350.5 69.7 L350.8 69.2 L351.0 68.6 L351.3 68.1 L351.6 67.5 L351.9 66.9 L352.1 66.3 L352.4 65.7 L352.7 65.1 L352.9 64.5 L353.2 63.9 L353.5 63.3 L353.8 62.7 L354.0 62.1 L354.3 61.5 L354.6 60.9 L354.9 60.3 L355.1 59.8 L355.4 59.2 L355.7 58.7 L356.1 57.9 L356.5 57.1 L356.9 56.4 L357.3 55.8 L357.7 55.1 L358.1 54.6 L358.5 54.0 L359.0 53.6 L359.5 53.0 L360.0 52.6 L360.6 52.3 L361.3 52.1 L362.0 52.0 L362.6 52.2 L363.3 52.4 L363.9 52.7 L364.4 53.2 L365.0 53.7 L365.5 54.3 L365.9 54.7 L366.3 55.3 L366.7 55.9 L367.1 56.5 L367.6 57.1 L368.0 57.8 L368.4 58.5 L368.8 59.3 L369.2 60.0 L369.6 60.8 L370.0 61.6 L370.3 62.1 L370.6 62.7 L370.8 63.2 L371.1 63.8 L371.4 64.3 L371.6 64.8 L371.9 65.4 L372.2 65.9 L372.5 66.5 L372.7 67.0 L373.1 67.8 L373.6 68.6 L374.0 69.3 L374.4 70.1 L374.8 70.8 L375.2 71.4 L375.6 72.1 L376.0 72.7 L376.4 73.3 L376.8 73.8 L377.2 74.3 L377.7 74.7 L378.2 75.2 L378.7 75.7 L379.3 76.0 L380.0 76.3 L380.7 76.4 L381.3 76.4 L382.0 76.4 L382.7 76.4 L383.4 76.2 L383.9 76.0 L384.5 75.6 L385.0 75.1 L385.4 74.6 L385.8 74.1 L386.3 73.5 L386.7 72.9 L387.1 72.3 L387.5 71.6 L387.9 70.8 L388.3 70.0 L388.6 69.5 L388.8 68.9 L389.1 68.3 L389.4 67.7 L389.7 67.1 L389.9 66.5 L390.2 65.9 L390.5 65.3 L390.8 64.7 L391.0 64.1 L391.3 63.4 L391.6 62.8 L391.8 62.2 L392.1 61.6 L392.4 61.0 L392.7 60.4 L392.9 59.8 L393.2 59.2 L393.5 58.6 L393.8 58.0 L394.0 57.5 L394.3 56.9 L394.7 56.2 L395.1 55.4 L395.5 54.7 L395.9 54.1 L396.4 53.5 L396.8 52.9 L397.2 52.4 L397.7 51.9 L398.3 51.5 L398.8 51.1 L399.5 50.9 L400.2 50.8 L400.9 50.9 L401.5 51.2 L402.1 51.6 L402.6 52.0 L403.2 52.5 L403.6 53.0 L404.0 53.5 L404.4 54.0 L404.8 54.6 L405.2 55.2 L405.6 55.9 L406.0 56.6 L406.5 57.4 L406.9 58.1 L407.3 58.9 L407.5 59.5 L407.8 60.0 L408.1 60.6 L408.4 61.1 L408.6 61.7 L408.9 62.3 L409.2 62.9 L409.5 63.4 L409.7 64.0 L410.0 64.6 L410.3 65.2 L410.6 65.7 L410.8 66.3 L411.1 66.9 L411.4 67.4 L411.6 68.0 L411.9 68.5 L412.3 69.3 L412.7 70.1 L413.1 70.8 L413.6 71.5 L414.0 72.2 L414.4 72.8 L414.8 73.4 L415.2 74.0 L415.6 74.5 L416.0 74.9 L416.6 75.5 L417.1 75.9 L417.6 76.2 L418.3 76.5 L419.0 76.6 L419.7 76.6 L420.4 76.6 L421.1 76.6 L421.7 76.3 L422.3 75.9 L422.8 75.4 L423.2 74.9 L423.7 74.3 L424.1 73.6 L424.5 72.8 L424.7 72.3 L425.0 71.7 L425.3 71.1 L425.6 70.5 L425.8 69.9 L426.1 69.2 L426.4 68.5 L426.7 67.8 L426.9 67.0 L427.2 66.3 L427.5 65.5 L427.7 64.7 L428.0 63.9 L428.3 63.1 L428.6 62.3 L428.8 61.4 L429.1 60.6 L429.4 59.8 L429.7 58.9 L429.9 58.1 L430.2 57.3 L430.5 56.5 L430.8 55.6 L431.0 54.8 L431.3 54.0 L431.6 53.2 L431.8 52.5 L432.1 51.7 L432.4 51.0 L432.7 50.3 L432.9 49.6 L433.2 48.9 L433.5 48.3 L433.8 47.7 L434.0 47.1 L434.3 46.5 L434.7 45.7 L435.1 45.0 L435.5 44.4 L435.9 43.8 L436.3 43.4 L436.9 42.9 L437.4 42.6 L438.1 42.4 L438.8 42.4 L439.5 42.7 L440.0 43.1 L440.6 43.6 L441.0 44.0 L441.4 44.5 L441.8 45.1 L442.2 45.8 L442.6 46.5 L443.0 47.3 L443.3 47.9 L443.6 48.4 L443.9 49.0 L444.1 49.6 L444.4 50.3 L444.7 50.9 L444.9 51.6 L445.2 52.3 L445.5 53.0 L445.8 53.7 L446.0 54.4 L446.3 55.2 L446.6 55.9 L446.9 56.6 L447.1 57.4 L447.4 58.2 L447.7 58.9 L448.0 59.7 L448.2 60.5 L448.5 61.2 L448.8 62.0 L449.0 62.7 L449.3 63.5 L449.6 64.2 L449.9 64.9 L450.1 65.6 L450.4 66.4 L450.7 67.0 L451.0 67.7 L451.2 68.4 L451.5 69.0 L451.8 69.6 L452.0 70.2 L452.3 70.8 L452.6 71.4 L453.0 72.2 L453.4 72.9 L453.8 73.5 L454.2 74.2 L454.6 74.7 L455.1 75.2 L455.6 75.7 L456.1 76.0 L456.7 76.3 L457.4 76.4 L458.1 76.4 L458.7 76.4 L459.4 76.4 L460.1 76.0 L460.6 75.6 L461.2 75.0 L461.6 74.5 L462.0 73.9 L462.4 73.2 L462.8 72.4 L463.1 71.9 L463.4 71.3 L463.6 70.7 L463.9 70.0 L464.2 69.4 L464.5 68.7 L464.7 68.0 L465.0 67.2 L465.3 66.5 L465.6 65.7 L465.8 64.9 L466.1 64.1 L466.4 63.3 L466.7 62.5 L466.9 61.7 L467.2 60.8 L467.5 60.0 L467.7 59.2 L468.0 58.3 L468.3 57.5 L468.6 56.6 L468.8 55.8 L469.1 55.0 L469.4 54.2 L469.7 53.4 L469.9 52.6 L470.2 51.8 L470.5 51.1 L470.7 50.4 L471.0 49.6 L471.3 49.0 L471.6 48.3 L471.8 47.7 L472.1 47.1 L472.4 46.5 L472.7 45.9 L473.1 45.2 L473.5 44.5 L473.9 43.8 L474.3 43.3 L474.7 42.9 L475.3 42.4 L475.8 42.1 L476.5 42.0 L477.2 42.0 L477.8 42.3 L478.4 42.7 L478.9 43.3 L479.3 43.7 L479.8 44.3 L480.2 44.9 L480.6 45.6 L481.0 46.3 L481.4 47.1 L481.7 47.6 L481.9 48.2 L482.2 48.8 L482.5 49.4 L482.8 50.1 L483.0 50.7 L483.3 51.4 L483.6 52.1 L483.9 52.8 L484.1 53.5 L484.4 54.2 L484.7 55.0 L484.9 55.7 L485.2 56.4 L485.5 57.2 L485.8 58.0 L486.0 58.7 L486.3 59.5 L486.6 60.2 L486.9 61.0 L487.1 61.7 L487.4 62.5 L487.7 63.2 L487.9 64.0 L488.2 64.7 L488.5 65.4 L488.8 66.1 L489.0 66.8 L489.3 67.4 L489.6 68.1 L489.9 68.7 L490.1 69.3 L490.4 69.9 L490.7 70.5 L491.0 71.0 L491.4 71.8 L491.8 72.5 L492.2 73.1 L492.6 73.7 L493.0 74.2 L493.4 74.7 L494.0 75.1 L494.5 75.5 L495.2 75.8 L495.9 75.8 L496.5 75.8 L497.2 75.8 L497.9 75.6 L498.5 75.2 L499.0 74.7 L499.4 74.1 L499.8 73.4 L500.2 72.6 L500.5 72.0 L500.8 71.4 L501.1 70.7 L501.3 70.0 L501.6 69.3 L501.9 68.5 L502.1 67.7 L502.4 66.8 L502.7 66.0 L503.0 65.0 L503.2 64.1 L503.5 63.1 L503.8 62.2 L504.1 61.1 L504.3 60.1 L504.6 59.1 L504.9 58.0 L505.1 57.0 L505.4 55.9 L505.7 54.8 L506.0 53.7 L506.2 52.7 L506.5 51.6 L506.8 50.5 L507.1 49.4 L507.3 48.4 L507.6 47.3 L507.9 46.3 L508.1 45.3 L508.4 44.3 L508.7 43.3 L509.0 42.4 L509.2 41.5 L509.5 40.6 L509.8 39.7 L510.1 38.9 L510.3 38.1 L510.6 37.4 L510.9 36.7 L511.2 36.0 L511.4 35.4 L511.7 34.8 L512.0 34.2 L512.4 33.5 L512.8 32.9 L513.2 32.4 L513.7 31.9 L514.3 31.6 L515.0 31.5 L515.7 31.7 L516.2 32.0 L516.7 32.6 L517.2 33.1 L517.6 33.6 L518.0 34.3 L518.4 35.1 L518.7 35.6 L518.9 36.2 L519.2 36.8 L519.5 37.5 L519.8 38.1 L520.0 38.8 L520.3 39.6 L520.6 40.3 L520.8 41.1 L521.1 41.9 L521.4 42.8 L521.7 43.6 L521.9 44.5 L522.2 45.4 L522.5 46.3 L522.8 47.2 L523.0 48.1 L523.3 49.1 L523.6 50.0 L523.8 50.9 L524.1 51.9 L524.4 52.9 L524.7 53.8 L524.9 54.8 L525.2 55.7 L525.5 56.7 L525.8 57.6 L526.0 58.5 L526.3 59.5 L526.6 60.4 L526.9 61.3 L527.1 62.1 L527.4 63.0 L527.7 63.8 L527.9 64.7 L528.2 65.4 L528.5 66.2 L528.8 67.0 L529.0 67.7 L529.3 68.4 L529.6 69.0 L529.9 69.7 L530.1 70.2 L530.4 70.8 L530.8 71.6 L531.2 72.3 L531.6 72.9 L532.0 73.4 L532.6 73.9 L533.1 74.3 L533.8 74.6 L534.5 74.6 L535.2 74.6 L535.9 74.6 L536.5 74.4 L537.1 74.0 L537.6 73.4 L538.0 72.9 L538.5 72.2 L538.9 71.4 L539.1 70.8 L539.4 70.2 L539.7 69.5 L540.0 68.8 L540.2 68.0 L540.5 67.3 L540.8 66.4 L541.0 65.6 L541.3 64.7 L541.6 63.8 L541.9 62.8 L542.1 61.8 L542.4 60.8 L542.7 59.8 L543.0 58.8 L543.2 57.7 L543.5 56.7 L543.8 55.6 L544.1 54.5 L544.3 53.4 L544.6 52.3 L544.9 51.3 L545.1 50.2 L545.4 49.1 L545.7 48.0 L546.0 46.9 L546.2 45.9 L546.5 44.9 L546.8 43.8 L547.1 42.8 L547.3 41.9 L547.6 40.9 L547.9 40.0 L548.1 39.1 L548.4 38.2 L548.7 37.4 L549.0 36.6 L549.2 35.8 L549.5 35.1 L549.8 34.4 L550.1 33.8 L550.3 33.2 L550.6 32.6 L551.0 31.9 L551.4 31.3 L551.8 30.8 L552.4 30.3 L552.9 30.0 L553.6 29.9 L554.3 30.1 L554.8 30.5 L555.4 31.0 L555.8 31.5 L556.2 32.1 L556.6 32.8 L557.0 33.6 L557.3 34.2 L557.6 34.8 L557.8 35.4 L558.1 36.1 L558.4 36.8 L558.7 37.5 L558.9 38.3 L559.2 39.1 L559.5 39.9 L559.7 40.7 L560.0 41.6 L560.3 42.5 L560.6 43.4 L560.8 44.3 L561.1 45.2 L561.4 46.2 L561.7 47.1 L561.9 48.1 L562.2 49.1 L562.5 50.1 L562.8 51.0 L563.0 52.0 L563.3 53.0 L563.6 54.0 L563.8 55.0 L564.1 56.0 L564.4 56.9 L564.7 57.9 L564.9 58.8 L565.2 59.8 L565.5 60.7 L565.8 61.6 L566.0 62.4 L566.3 63.3 L566.6 64.1 L566.8 64.9 L567.1 65.7 L567.4 66.5 L567.7 67.2 L567.9 67.9 L568.2 68.6 L568.5 69.2 L568.8 69.8 L569.0 70.3 L569.4 71.1 L569.8 71.8 L570.3 72.4 L570.7 72.9 L571.2 73.4 L571.8 73.7 L572.4 73.9 L573.1 73.9 L573.8 73.9 L574.5 73.8 L575.0 73.5 L575.6 72.9 L576.0 72.3 L576.4 71.6 L576.7 71.0 L576.9 70.3 L577.2 69.6 L577.5 68.9 L577.8 68.1 L578.0 67.2 L578.3 66.3 L578.6 65.4 L578.9 64.4 L579.1 63.3 L579.4 62.2 L579.7 61.1 L580.0 60.0 L580.1 59.4 L580.2 58.8 L580.4 58.2 L580.5 57.5 L580.6 56.9 L580.8 56.3 L580.9 55.7 L581.0 55.0 L581.2 54.4 L581.3 53.7 L581.5 53.1 L581.6 52.4 L581.7 51.7 L581.9 51.1 L582.0 50.4 L582.1 49.7 L582.3 49.1 L582.4 48.4 L582.5 47.7 L582.7 47.0 L582.8 46.4 L583.0 45.7 L583.1 45.0 L583.2 44.3 L583.4 43.6 L583.5 43.0 L583.6 42.3 L583.8 41.6 L583.9 40.9 L584.0 40.3 L584.2 39.6 L584.3 39.0 L584.5 38.3 L584.6 37.7 L584.7 37.0 L584.9 36.4 L585.0 35.7 L585.1 35.1 L585.3 34.5 L585.4 33.9 L585.5 33.3 L585.7 32.7 L585.8 32.1 L586.1 30.9 L586.4 29.8 L586.6 28.7 L586.9 27.7 L587.2 26.7 L587.5 25.7 L587.7 24.8 L588.0 24.0 L588.3 23.2 L588.5 22.4 L588.8 21.7 L589.1 21.1 L589.4 20.5 L589.8 19.8 L590.2 19.2 L590.6 18.7 L591.1 18.3 L591.8 18.2 L592.5 18.4 L593.1 18.9 L593.5 19.3 L593.9 19.9 L594.3 20.6 L594.7 21.4 L595.0 22.0 L595.2 22.7 L595.5 23.4 L595.8 24.1 L596.1 24.9 L596.3 25.7 L596.6 26.6 L596.9 27.5 L597.1 28.4 L597.4 29.4 L597.7 30.4 L598.0 31.4 L598.2 32.5 L598.5 33.6 L598.8 34.7 L599.1 35.8 L599.3 36.9 L599.6 38.1 L599.7 38.7 L599.9 39.3 L600.0 39.9 L600.2 40.5 L600.3 41.1 L600.4 41.7 L600.6 42.3 L600.7 42.9 L600.8 43.5 L601.0 44.1 L601.1 44.7 L601.2 45.3 L601.4 45.9 L601.5 46.5 L601.7 47.1 L601.8 47.7 L601.9 48.3 L602.1 48.9 L602.2 49.5 L602.3 50.1 L602.5 50.7 L602.6 51.3 L602.7 51.9 L602.9 52.5 L603.2 53.7 L603.4 54.8 L603.7 55.9 L604.0 57.1 L604.2 58.1 L604.5 59.2 L604.8 60.2 L605.1 61.2 L605.3 62.2 L605.6 63.1 L605.9 64.0 L606.2 64.9 L606.4 65.7 L606.7 66.5 L607.0 67.2 L607.3 67.9 L607.5 68.5 L607.8 69.1 L608.1 69.7 L608.5 70.4 L608.9 71.1 L609.3 71.6 L609.8 72.0 L610.4 72.3 L611.1 72.4 L611.8 72.4 L612.4 72.4 L613.1 72.1 L613.7 71.6 L614.1 71.1 L614.5 70.5 L614.9 69.7 L615.2 69.1 L615.4 68.4 L615.7 67.7 L616.0 66.9 L616.3 66.1 L616.5 65.3 L616.8 64.4 L617.1 63.4 L617.4 62.4 L617.6 61.4 L617.9 60.3 L618.2 59.2 L618.4 58.1 L618.7 57.0 L618.9 56.4 L619.0 55.8 L619.1 55.2 L619.3 54.6 L619.4 53.9 L619.5 53.3 L619.7 52.7 L619.8 52.1 L619.9 51.5 L620.1 50.8 L620.2 50.2 L620.4 49.5 L620.5 48.9 L620.6 48.3 L620.8 47.6 L620.9 47.0 L621.0 46.3 L621.2 45.7 L621.3 45.0 L621.4 44.4 L621.6 43.7 L621.7 43.1 L621.9 42.5 L622.0 41.8 L622.1 41.2 L622.3 40.6 L622.4 39.9 L622.5 39.3 L622.7 38.7 L622.8 38.1 L622.9 37.4 L623.1 36.8 L623.2 36.2 L623.4 35.6 L623.5 35.0 L623.6 34.4 L623.9 33.3 L624.2 32.2 L624.5 31.1 L624.7 30.0 L625.0 29.0 L625.3 28.0 L625.5 27.1 L625.8 26.2 L626.1 25.4 L626.4 24.6 L626.6 23.8 L626.9 23.2 L627.2 22.5 L627.5 21.9 L627.9 21.2 L628.3 20.5 L628.7 20.0 L629.2 19.6 L629.9 19.4 L630.5 19.8 L630.9 20.5 L631.1 21.3 L631.4 22.2 L631.7 23.3 L631.8 24.0 L632.0 24.6 L632.1 25.3 L632.2 26.1 L632.4 26.8 L632.5 27.6 L632.6 28.5 L632.8 29.4 L632.9 30.3 L633.0 31.2 L633.2 32.2 L633.3 33.2 L633.5 34.2 L633.6 35.2 L633.7 36.3 L633.9 37.3 L634.0 38.4 L634.1 39.5 L634.3 40.6 L634.4 41.7 L634.6 42.9 L634.7 44.0 L634.8 45.1 L635.0 46.3 L635.1 47.4 L635.2 48.5 L635.4 49.7 L635.5 50.8 L635.6 51.9 L635.8 53.0 L635.9 54.1 L636.1 55.2 L636.2 56.2 L636.3 57.3 L636.5 58.3 L636.6 59.3 L636.7 60.2 L636.9 61.2 L637.0 62.1 L637.1 63.0 L637.3 63.8 L637.4 64.6 L637.6 65.4 L637.7 66.1 L637.8 66.9 L638.0 67.5 L638.1 68.1 L638.4 69.3 L638.6 70.2 L638.9 71.0 L639.2 71.6 L639.6 72.1 L639.9 72.2" stroke="#0000ff" stroke-width="2.6" stroke-dasharray="10.2 3.0 5.0 2.9"/>
</g>
<rect x="97" y="10" width="243" height="49.3" fill="#fff"/>
<line x1="101.4" y1="24.3" x2="154.6" y2="24.3" stroke="#ff0000" stroke-width="2.2"/>
<line x1="101.4" y1="45.4" x2="154.6" y2="45.4" stroke="#0000ff" stroke-width="2.2" stroke-dasharray="10.2 3.0 5.0 2.9"/>
<text class="lg" x="159.8" y="30.4" font-family="'Liberation Serif', serif" font-size="17.6" fill="#151515">Temperature</text>
<text class="lg" x="159.8" y="52.6" font-family="'Liberation Serif', serif" font-size="17.6" fill="#151515" textLength="165.5" lengthAdjust="spacingAndGlyphs">Theoretical temperature</text>
<rect x="94.0" y="7.3" width="573.8" height="80.60000000000001" fill="none" stroke="#262626" stroke-width="1.9"/>
<path d="M94.00 87.9 V83.30 M94.00 7.3 V9.50 M285.27 87.9 V83.30 M285.27 7.3 V9.50 M476.53 87.9 V83.30 M476.53 7.3 V9.50 M667.80 87.9 V83.30 M667.80 7.3 V9.50 M94.0 48.20 H97.00 M667.8 48.20 H662.00" stroke="#262626" stroke-width="1.6" fill="none"/>
<text x="92.80" y="112.30" font-family="'Liberation Serif', serif" font-size="19.0" fill="#151515" text-anchor="middle">0</text>
<text x="284.87" y="112.30" font-family="'Liberation Serif', serif" font-size="19.0" fill="#151515" text-anchor="middle">50</text>
<text x="476.93" y="112.30" font-family="'Liberation Serif', serif" font-size="19.0" fill="#151515" text-anchor="middle">100</text>
<text x="669.00" y="112.30" font-family="'Liberation Serif', serif" font-size="19.0" fill="#151515" text-anchor="middle">150</text>
<text x="88.30" y="97.95" font-family="'Liberation Serif', serif" font-size="19.0" fill="#151515" text-anchor="end">30</text>
<text x="88.30" y="55.60" font-family="'Liberation Serif', serif" font-size="19.0" fill="#151515" text-anchor="end">40</text>
<text x="88.30" y="14.90" font-family="'Liberation Serif', serif" font-size="19.0" fill="#151515" text-anchor="end">50</text>
<clipPath id="clipb"><rect x="94.0" y="129.2" width="573.8" height="81.9"/></clipPath>
<g clip-path="url(#clipb)" fill="none" stroke-linejoin="round">
<path d="M94.0 200.5 L94.7 200.5 L95.4 200.5 L96.1 200.5 L96.8 200.5 L97.5 200.5 L98.1 200.5 L98.8 200.5 L99.5 200.5 L100.2 200.5 L100.9 200.5 L101.6 200.5 L102.3 200.5 L103.0 200.5 L103.7 200.5 L104.4 200.5 L105.0 200.5 L105.7 200.5 L106.4 200.5 L107.1 200.5 L107.8 200.5 L108.5 200.5 L109.2 200.5 L109.9 200.5 L110.6 200.5 L111.3 200.5 L111.9 200.5 L112.6 200.5 L113.3 200.5 L114.0 200.5 L114.7 200.5 L115.4 200.5 L116.1 200.5 L116.8 200.5 L117.5 200.5 L118.2 200.5 L118.8 200.4 L119.5 200.4 L120.2 200.3 L120.9 200.2 L121.6 200.1 L122.3 200.0 L123.0 199.8 L123.7 199.7 L124.4 199.6 L125.1 199.5 L125.7 199.4 L126.4 199.3 L127.1 199.3 L127.8 199.4 L128.5 199.5 L129.2 199.6 L129.9 199.7 L130.6 199.8 L131.3 200.0 L132.0 200.1 L132.7 200.2 L133.3 200.3 L134.0 200.4 L134.7 200.4 L135.4 200.5 L136.1 200.5 L136.8 200.5 L137.5 200.5 L138.2 200.6 L138.9 200.6 L139.6 200.6 L140.2 200.6 L140.9 200.6 L141.6 200.6 L142.3 200.6 L143.0 200.6 L143.7 200.6 L144.4 200.6 L145.1 200.6 L145.8 200.6 L146.5 200.6 L147.1 200.6 L147.8 200.6 L148.5 200.6 L149.2 200.6 L149.9 200.5 L150.6 200.5 L151.3 200.5 L152.0 200.4 L152.7 200.4 L153.4 200.3 L154.0 200.2 L154.7 200.1 L155.4 199.9 L156.1 199.8 L156.8 199.7 L157.5 199.5 L158.2 199.4 L158.9 199.4 L159.6 199.4 L160.3 199.4 L161.0 199.4 L161.6 199.5 L162.3 199.7 L163.0 199.8 L163.7 199.9 L164.4 200.1 L165.1 200.2 L165.8 200.3 L166.5 200.4 L167.2 200.4 L167.9 200.5 L168.5 200.5 L169.2 200.5 L169.9 200.6 L170.6 200.6 L171.3 200.6 L172.0 200.6 L172.7 200.6 L173.4 200.6 L174.1 200.6 L174.8 200.6 L175.4 200.6 L176.1 200.6 L176.8 200.6 L177.5 200.6 L178.2 200.6 L178.9 200.6 L179.6 200.6 L180.3 200.6 L181.0 200.5 L181.7 200.4 L182.3 200.3 L182.9 200.1 L183.5 199.8 L184.1 199.4 L184.5 199.0 L185.0 198.5 L185.5 197.8 L185.8 197.3 L186.1 196.6 L186.5 195.9 L186.8 195.2 L187.2 194.4 L187.5 193.6 L187.8 193.0 L188.0 192.4 L188.2 191.9 L188.4 191.3 L188.8 190.5 L189.1 189.7 L189.5 189.0 L189.8 188.4 L190.2 187.8 L190.6 187.2 L191.2 186.8 L191.9 186.7 L192.6 186.7 L193.2 187.0 L193.6 187.6 L194.0 188.2 L194.3 189.0 L194.5 189.6 L194.8 190.3 L195.0 191.1 L195.2 191.9 L195.5 192.8 L195.7 193.7 L195.9 194.5 L196.2 195.4 L196.4 196.2 L196.6 196.9 L196.8 197.6 L197.1 198.2 L197.4 199.0 L197.8 199.5 L198.2 200.0 L198.8 200.4 L199.5 200.6 L200.2 200.6 L200.9 200.6 L201.6 200.6 L202.2 200.6 L202.9 200.6 L203.6 200.6 L204.3 200.6 L205.0 200.6 L205.7 200.6 L206.4 200.6 L207.1 200.6 L207.8 200.6 L208.5 200.6 L209.1 200.6 L209.8 200.6 L210.5 200.6 L211.2 200.6 L211.9 200.6 L212.6 200.6 L213.3 200.6 L214.0 200.5 L214.7 200.4 L215.4 200.3 L215.9 200.1 L216.5 199.8 L217.1 199.3 L217.5 198.9 L218.0 198.3 L218.4 197.8 L218.7 197.3 L219.0 196.6 L219.4 196.0 L219.7 195.2 L220.1 194.5 L220.4 193.7 L220.8 192.9 L221.1 192.1 L221.5 191.3 L221.8 190.5 L222.1 189.8 L222.5 189.2 L222.8 188.6 L223.3 188.0 L223.8 187.6 L224.3 187.4 L225.0 187.4 L225.7 187.5 L226.3 188.0 L226.6 188.6 L227.0 189.3 L227.2 189.8 L227.4 190.5 L227.7 191.2 L227.9 192.0 L228.1 192.8 L228.4 193.6 L228.6 194.4 L228.8 195.2 L229.1 196.0 L229.3 196.8 L229.5 197.5 L229.7 198.1 L230.1 198.8 L230.4 199.4 L230.9 200.0 L231.5 200.4 L232.0 200.6 L232.7 200.6 L233.4 200.6 L234.1 200.6 L234.8 200.6 L235.5 200.6 L236.2 200.6 L236.9 200.6 L237.6 200.6 L238.3 200.6 L238.9 200.6 L239.6 200.6 L240.3 200.6 L241.0 200.6 L241.7 200.6 L242.4 200.6 L243.1 200.6 L243.8 200.6 L244.5 200.6 L245.2 200.5 L245.8 200.3 L246.4 200.2 L247.0 199.9 L247.6 199.6 L248.1 199.1 L248.6 198.6 L249.1 198.0 L249.4 197.5 L249.8 196.9 L250.1 196.2 L250.4 195.4 L250.8 194.6 L251.0 194.0 L251.3 193.3 L251.5 192.7 L251.7 192.0 L251.9 191.3 L252.2 190.5 L252.4 189.8 L252.6 189.0 L252.9 188.2 L253.1 187.5 L253.3 186.7 L253.6 185.9 L253.8 185.2 L254.0 184.4 L254.2 183.7 L254.5 183.0 L254.7 182.4 L254.9 181.8 L255.2 181.2 L255.5 180.4 L255.9 179.8 L256.2 179.2 L256.7 178.7 L257.2 178.4 L257.9 178.3 L258.6 178.5 L259.2 179.0 L259.5 179.5 L259.9 180.3 L260.1 180.9 L260.3 181.6 L260.6 182.4 L260.8 183.3 L261.0 184.3 L261.3 185.3 L261.5 186.5 L261.7 187.6 L261.8 188.2 L262.0 188.8 L262.1 189.4 L262.2 190.0 L262.3 190.6 L262.5 191.8 L262.8 192.9 L263.0 194.0 L263.2 195.0 L263.4 195.9 L263.7 196.7 L263.9 197.4 L264.1 198.1 L264.5 198.9 L264.8 199.5 L265.3 200.0 L265.9 200.4 L266.4 200.6 L267.1 200.7 L267.8 200.7 L268.5 200.7 L269.2 200.7 L269.9 200.7 L270.6 200.7 L271.3 200.7 L272.0 200.7 L272.6 200.7 L273.3 200.7 L274.0 200.7 L274.7 200.7 L275.4 200.7 L276.1 200.7 L276.8 200.7 L277.5 200.6 L278.2 200.6 L278.9 200.4 L279.6 200.3 L280.1 200.0 L280.7 199.7 L281.3 199.2 L281.7 198.7 L282.2 198.2 L282.5 197.6 L282.9 197.1 L283.2 196.4 L283.6 195.7 L283.9 194.9 L284.2 194.3 L284.4 193.7 L284.6 193.0 L284.8 192.4 L285.1 191.7 L285.3 191.0 L285.5 190.3 L285.8 189.5 L286.0 188.8 L286.2 188.0 L286.5 187.3 L286.7 186.6 L286.9 185.8 L287.1 185.1 L287.4 184.5 L287.6 183.8 L287.8 183.2 L288.1 182.6 L288.4 181.8 L288.8 181.1 L289.1 180.5 L289.6 179.9 L290.1 179.5 L290.8 179.4 L291.5 179.4 L292.1 179.8 L292.5 180.3 L292.9 181.0 L293.2 181.8 L293.5 182.5 L293.7 183.3 L293.9 184.2 L294.2 185.1 L294.4 186.1 L294.6 187.2 L294.9 188.3 L295.1 189.5 L295.3 190.6 L295.5 191.7 L295.8 192.8 L296.0 193.9 L296.2 194.9 L296.5 195.8 L296.7 196.6 L296.9 197.4 L297.2 198.0 L297.4 198.6 L297.7 199.3 L298.1 199.8 L298.5 200.2 L299.1 200.5 L299.8 200.7 L300.5 200.7 L301.2 200.8 L301.9 200.8 L302.6 200.8 L303.2 200.8 L303.9 200.8 L304.6 200.8 L305.3 200.8 L306.0 200.8 L306.7 200.8 L307.4 200.7 L308.1 200.7 L308.8 200.6 L309.5 200.5 L310.2 200.3 L310.7 200.1 L311.3 199.8 L311.9 199.3 L312.3 198.8 L312.8 198.3 L313.1 197.8 L313.5 197.2 L313.8 196.5 L314.2 195.8 L314.5 194.9 L314.8 194.3 L315.0 193.7 L315.2 193.0 L315.4 192.2 L315.7 191.4 L315.9 190.6 L316.1 189.7 L316.4 188.8 L316.6 187.9 L316.8 186.9 L317.1 185.9 L317.3 184.9 L317.5 183.8 L317.7 182.8 L318.0 181.7 L318.2 180.6 L318.4 179.5 L318.7 178.4 L318.9 177.4 L319.1 176.3 L319.4 175.3 L319.6 174.2 L319.8 173.3 L320.0 172.3 L320.3 171.4 L320.5 170.6 L320.7 169.8 L321.0 169.0 L321.2 168.4 L321.4 167.7 L321.8 166.9 L322.1 166.3 L322.6 165.7 L323.1 165.3 L323.8 165.2 L324.5 165.4 L325.0 165.8 L325.3 166.3 L325.7 167.1 L325.9 167.7 L326.1 168.5 L326.4 169.3 L326.6 170.3 L326.8 171.5 L326.9 172.1 L327.1 172.7 L327.2 173.4 L327.3 174.0 L327.4 174.7 L327.5 175.5 L327.6 176.2 L327.8 177.0 L327.9 177.8 L328.0 178.6 L328.1 179.4 L328.2 180.2 L328.3 181.1 L328.4 181.9 L328.6 182.7 L328.7 183.6 L328.8 184.4 L328.9 185.2 L329.0 186.1 L329.1 186.9 L329.2 187.7 L329.4 188.4 L329.5 189.2 L329.6 190.0 L329.7 190.7 L329.8 191.4 L329.9 192.0 L330.1 192.7 L330.2 193.3 L330.3 193.9 L330.5 195.0 L330.7 196.0 L331.0 196.9 L331.2 197.6 L331.4 198.3 L331.8 199.0 L332.1 199.6 L332.6 200.2 L333.2 200.5 L333.7 200.7 L334.4 200.8 L335.1 200.8 L335.8 200.8 L336.5 200.9 L337.2 200.9 L337.9 200.9 L338.6 200.8 L339.3 200.8 L339.9 200.8 L340.6 200.8 L341.3 200.7 L342.0 200.6 L342.7 200.5 L343.3 200.3 L343.9 200.0 L344.4 199.6 L344.9 199.2 L345.4 198.7 L345.8 198.0 L346.2 197.5 L346.5 196.8 L346.8 196.1 L347.2 195.3 L347.4 194.7 L347.7 194.1 L347.9 193.4 L348.1 192.7 L348.3 191.9 L348.6 191.1 L348.8 190.2 L349.0 189.4 L349.3 188.4 L349.5 187.5 L349.7 186.5 L350.0 185.5 L350.2 184.4 L350.4 183.4 L350.6 182.3 L350.9 181.2 L351.1 180.1 L351.3 179.0 L351.6 177.9 L351.8 176.9 L352.0 175.8 L352.3 174.8 L352.5 173.8 L352.7 172.8 L352.9 171.9 L353.2 171.0 L353.4 170.2 L353.6 169.4 L353.9 168.7 L354.1 168.1 L354.3 167.5 L354.7 166.7 L355.0 166.1 L355.5 165.6 L356.0 165.3 L356.7 165.3 L357.3 165.4 L357.8 165.8 L358.1 166.3 L358.5 167.1 L358.7 167.7 L358.9 168.5 L359.2 169.3 L359.4 170.3 L359.6 171.5 L359.7 172.1 L359.8 172.7 L360.0 173.3 L360.1 174.0 L360.2 174.7 L360.3 175.5 L360.4 176.2 L360.5 177.0 L360.7 177.8 L360.8 178.6 L360.9 179.4 L361.0 180.2 L361.1 181.1 L361.2 181.9 L361.3 182.7 L361.5 183.6 L361.6 184.4 L361.7 185.3 L361.8 186.1 L361.9 186.9 L362.0 187.7 L362.1 188.5 L362.3 189.2 L362.4 190.0 L362.5 190.7 L362.6 191.4 L362.7 192.1 L362.8 192.7 L363.0 193.4 L363.1 194.0 L363.3 195.1 L363.5 196.0 L363.8 196.9 L364.0 197.7 L364.2 198.3 L364.6 199.1 L364.9 199.7 L365.4 200.2 L365.9 200.6 L366.5 200.8 L367.2 200.9 L367.9 200.9 L368.6 200.9 L369.3 200.9 L370.0 200.9 L370.7 200.9 L371.3 200.9 L372.0 200.9 L372.7 200.9 L373.4 200.8 L374.1 200.7 L374.8 200.6 L375.4 200.4 L375.9 200.1 L376.5 199.8 L377.0 199.3 L377.4 198.8 L377.9 198.1 L378.3 197.5 L378.6 196.8 L378.9 196.0 L379.2 195.4 L379.4 194.8 L379.6 194.1 L379.9 193.3 L380.1 192.5 L380.3 191.6 L380.6 190.6 L380.8 189.6 L381.0 188.5 L381.2 187.4 L381.4 186.8 L381.5 186.2 L381.6 185.6 L381.7 184.9 L381.8 184.3 L381.9 183.6 L382.0 182.9 L382.2 182.2 L382.3 181.5 L382.4 180.8 L382.5 180.1 L382.6 179.4 L382.7 178.6 L382.9 177.9 L383.0 177.1 L383.1 176.4 L383.2 175.6 L383.3 174.8 L383.4 174.0 L383.5 173.2 L383.7 172.5 L383.8 171.7 L383.9 170.9 L384.0 170.1 L384.1 169.3 L384.2 168.5 L384.3 167.7 L384.5 166.9 L384.6 166.2 L384.7 165.4 L384.8 164.6 L384.9 163.9 L385.0 163.1 L385.2 162.4 L385.3 161.7 L385.4 161.0 L385.5 160.3 L385.6 159.6 L385.7 159.0 L385.8 158.3 L386.0 157.7 L386.1 157.1 L386.2 156.5 L386.4 155.4 L386.6 154.3 L386.9 153.4 L387.1 152.5 L387.3 151.8 L387.6 151.1 L387.9 150.3 L388.3 149.8 L388.7 149.4 L389.4 149.3 L390.0 149.5 L390.4 149.9 L390.8 150.6 L391.0 151.2 L391.2 151.9 L391.5 152.8 L391.7 153.9 L391.8 154.5 L391.9 155.2 L392.1 155.9 L392.2 156.6 L392.3 157.4 L392.4 158.3 L392.5 159.1 L392.6 160.0 L392.7 161.0 L392.9 162.0 L393.0 163.0 L393.1 164.1 L393.2 165.2 L393.3 166.3 L393.4 167.4 L393.6 168.6 L393.7 169.8 L393.8 171.0 L393.9 172.2 L394.0 173.4 L394.1 174.6 L394.2 175.8 L394.4 177.0 L394.5 178.2 L394.6 179.4 L394.7 180.6 L394.8 181.8 L394.9 182.9 L395.0 184.0 L395.2 185.1 L395.3 186.2 L395.4 187.2 L395.5 188.2 L395.6 189.1 L395.7 190.0 L395.9 190.9 L396.0 191.7 L396.1 192.5 L396.2 193.2 L396.3 193.9 L396.4 194.6 L396.5 195.2 L396.8 196.3 L397.0 197.2 L397.2 198.0 L397.5 198.7 L397.8 199.4 L398.2 200.0 L398.6 200.5 L399.2 200.8 L399.9 200.9 L400.6 201.0 L401.3 201.0 L401.9 201.0 L402.6 201.0 L403.3 201.0 L404.0 201.0 L404.7 201.0 L405.4 201.0 L406.1 201.0 L406.8 200.9 L407.5 200.8 L408.2 200.7 L408.7 200.5 L409.3 200.2 L409.9 199.8 L410.3 199.3 L410.8 198.8 L411.2 198.3 L411.5 197.7 L411.8 197.0 L412.2 196.2 L412.4 195.6 L412.6 195.0 L412.9 194.2 L413.1 193.5 L413.3 192.7 L413.6 191.8 L413.8 190.8 L414.0 189.8 L414.3 188.7 L414.5 187.6 L414.7 186.4 L414.8 185.8 L414.9 185.2 L415.1 184.5 L415.2 183.9 L415.3 183.2 L415.4 182.5 L415.5 181.8 L415.6 181.1 L415.8 180.4 L415.9 179.7 L416.0 178.9 L416.1 178.2 L416.2 177.4 L416.3 176.6 L416.4 175.9 L416.6 175.1 L416.7 174.3 L416.8 173.5 L416.9 172.7 L417.0 171.9 L417.1 171.2 L417.2 170.4 L417.4 169.6 L417.5 168.8 L417.6 168.0 L417.7 167.2 L417.8 166.4 L417.9 165.7 L418.1 164.9 L418.2 164.1 L418.3 163.4 L418.4 162.7 L418.5 161.9 L418.6 161.2 L418.7 160.5 L418.9 159.8 L419.0 159.2 L419.1 158.5 L419.2 157.9 L419.3 157.3 L419.4 156.7 L419.7 155.5 L419.9 154.5 L420.1 153.5 L420.4 152.6 L420.6 151.9 L420.8 151.2 L421.0 150.6 L421.4 150.0 L421.8 149.4 L422.4 149.3 L423.1 149.4 L423.7 149.9 L424.0 150.5 L424.3 151.1 L424.5 151.8 L424.7 152.7 L425.0 153.8 L425.1 154.4 L425.2 155.0 L425.3 155.7 L425.4 156.4 L425.5 157.2 L425.6 158.0 L425.8 158.9 L425.9 159.8 L426.0 160.7 L426.1 161.7 L426.2 162.7 L426.3 163.8 L426.5 164.9 L426.6 166.0 L426.7 167.1 L426.8 168.3 L426.9 169.4 L427.0 170.6 L427.1 171.8 L427.3 173.1 L427.4 174.3 L427.5 175.5 L427.6 176.7 L427.7 177.9 L427.8 179.1 L427.9 180.3 L428.1 181.5 L428.2 182.6 L428.3 183.7 L428.4 184.8 L428.5 185.9 L428.6 186.9 L428.8 187.9 L428.9 188.9 L429.0 189.8 L429.1 190.7 L429.2 191.5 L429.3 192.3 L429.4 193.1 L429.6 193.8 L429.7 194.4 L429.8 195.1 L430.0 196.2 L430.2 197.2 L430.5 198.0 L430.7 198.7 L430.9 199.2 L431.3 199.9 L431.7 200.4 L432.3 200.8 L432.9 201.0 L433.6 201.1 L434.3 201.1 L435.0 201.1 L435.7 201.1 L436.3 201.1 L437.0 201.1 L437.7 201.1 L438.4 201.1 L439.1 201.1 L439.8 201.0 L440.5 200.9 L441.2 200.7 L441.7 200.5 L442.3 200.2 L442.9 199.8 L443.4 199.3 L443.8 198.7 L444.2 198.2 L444.5 197.6 L444.9 196.8 L445.1 196.3 L445.3 195.6 L445.5 195.0 L445.8 194.2 L446.0 193.4 L446.2 192.6 L446.5 191.6 L446.7 190.6 L446.9 189.5 L447.2 188.4 L447.3 187.8 L447.4 187.2 L447.5 186.6 L447.6 185.9 L447.7 185.2 L447.8 184.6 L448.0 183.9 L448.1 183.1 L448.2 182.4 L448.3 181.7 L448.4 180.9 L448.5 180.1 L448.7 179.3 L448.8 178.5 L448.9 177.7 L449.0 176.9 L449.1 176.1 L449.2 175.2 L449.3 174.4 L449.5 173.5 L449.6 172.6 L449.7 171.8 L449.8 170.9 L449.9 170.0 L450.0 169.1 L450.1 168.2 L450.3 167.3 L450.4 166.4 L450.5 165.5 L450.6 164.6 L450.7 163.7 L450.8 162.9 L451.0 162.0 L451.1 161.1 L451.2 160.3 L451.3 159.4 L451.4 158.6 L451.5 157.7 L451.6 156.9 L451.8 156.1 L451.9 155.3 L452.0 154.6 L452.1 153.8 L452.2 153.1 L452.3 152.4 L452.4 151.7 L452.6 151.0 L452.7 150.3 L452.8 149.7 L452.9 149.1 L453.1 148.0 L453.4 146.9 L453.6 146.0 L453.8 145.2 L454.1 144.5 L454.3 144.0 L454.6 143.3 L455.1 142.8 L455.8 142.7 L456.4 142.9 L456.8 143.4 L457.2 144.1 L457.4 144.8 L457.6 145.6 L457.9 146.7 L458.1 147.9 L458.2 148.5 L458.3 149.3 L458.4 150.1 L458.5 150.9 L458.7 151.8 L458.8 152.7 L458.9 153.7 L459.0 154.7 L459.1 155.8 L459.2 156.9 L459.4 158.0 L459.5 159.2 L459.6 160.4 L459.7 161.7 L459.8 163.0 L459.9 164.3 L460.0 165.6 L460.2 167.0 L460.3 168.4 L460.4 169.7 L460.5 171.1 L460.6 172.5 L460.7 173.9 L460.8 175.2 L461.0 176.6 L461.1 177.9 L461.2 179.2 L461.3 180.5 L461.4 181.8 L461.5 183.0 L461.7 184.2 L461.8 185.4 L461.9 186.5 L462.0 187.5 L462.1 188.6 L462.2 189.6 L462.3 190.5 L462.5 191.4 L462.6 192.2 L462.7 193.0 L462.8 193.8 L462.9 194.5 L463.0 195.1 L463.1 195.7 L463.4 196.8 L463.6 197.7 L463.8 198.5 L464.1 199.1 L464.4 199.8 L464.8 200.3 L465.2 200.8 L465.8 201.0 L466.5 201.2 L467.2 201.2 L467.9 201.2 L468.6 201.2 L469.2 201.2 L469.9 201.2 L470.6 201.2 L471.3 201.2 L472.0 201.1 L472.7 201.1 L473.4 201.0 L474.1 200.8 L474.6 200.6 L475.2 200.3 L475.8 199.8 L476.3 199.3 L476.7 198.7 L477.1 198.1 L477.4 197.4 L477.8 196.6 L478.0 196.1 L478.2 195.4 L478.4 194.7 L478.7 193.9 L478.9 193.1 L479.1 192.2 L479.4 191.2 L479.6 190.2 L479.8 189.1 L480.1 187.9 L480.2 187.3 L480.3 186.7 L480.4 186.0 L480.5 185.3 L480.6 184.7 L480.7 184.0 L480.9 183.2 L481.0 182.5 L481.1 181.8 L481.2 181.0 L481.3 180.2 L481.4 179.4 L481.6 178.6 L481.7 177.8 L481.8 177.0 L481.9 176.2 L482.0 175.3 L482.1 174.5 L482.2 173.6 L482.4 172.7 L482.5 171.8 L482.6 171.0 L482.7 170.1 L482.8 169.2 L482.9 168.3 L483.0 167.4 L483.2 166.5 L483.3 165.6 L483.4 164.7 L483.5 163.8 L483.6 162.9 L483.7 162.0 L483.9 161.2 L484.0 160.3 L484.1 159.5 L484.2 158.6 L484.3 157.8 L484.4 157.0 L484.5 156.2 L484.7 155.4 L484.8 154.6 L484.9 153.8 L485.0 153.1 L485.1 152.4 L485.2 151.7 L485.3 151.0 L485.5 150.4 L485.6 149.7 L485.7 149.1 L485.9 148.0 L486.2 147.0 L486.4 146.1 L486.6 145.2 L486.8 144.6 L487.1 144.0 L487.4 143.3 L487.9 142.8 L488.6 142.7 L489.1 142.9 L489.6 143.4 L489.9 144.1 L490.2 144.8 L490.4 145.6 L490.6 146.6 L490.9 147.9 L491.0 148.5 L491.1 149.3 L491.2 150.0 L491.3 150.9 L491.4 151.7 L491.6 152.7 L491.7 153.7 L491.8 154.7 L491.9 155.8 L492.0 156.9 L492.1 158.0 L492.3 159.2 L492.4 160.4 L492.5 161.7 L492.6 163.0 L492.7 164.3 L492.8 165.6 L492.9 167.0 L493.1 168.4 L493.2 169.7 L493.3 171.1 L493.4 172.5 L493.5 173.9 L493.6 175.2 L493.7 176.6 L493.9 177.9 L494.0 179.2 L494.1 180.5 L494.2 181.8 L494.3 183.0 L494.4 184.2 L494.6 185.4 L494.7 186.5 L494.8 187.6 L494.9 188.6 L495.0 189.6 L495.1 190.6 L495.2 191.5 L495.4 192.3 L495.5 193.1 L495.6 193.8 L495.7 194.6 L495.8 195.2 L495.9 195.8 L496.2 196.9 L496.4 197.8 L496.6 198.6 L496.9 199.2 L497.2 199.9 L497.5 200.4 L498.0 200.9 L498.6 201.1 L499.3 201.3 L500.0 201.3 L500.6 201.3 L501.3 201.3 L502.0 201.3 L502.7 201.3 L503.4 201.3 L504.1 201.3 L504.8 201.3 L505.5 201.2 L506.2 201.2 L506.9 201.0 L507.5 200.8 L508.1 200.6 L508.7 200.2 L509.2 199.8 L509.6 199.2 L510.0 198.7 L510.3 198.1 L510.7 197.4 L511.0 196.6 L511.2 196.0 L511.5 195.4 L511.7 194.6 L511.9 193.8 L512.2 193.0 L512.4 192.1 L512.6 191.1 L512.8 190.0 L513.1 188.8 L513.2 188.2 L513.3 187.6 L513.4 187.0 L513.5 186.3 L513.6 185.7 L513.8 185.0 L513.9 184.3 L514.0 183.5 L514.1 182.8 L514.2 182.0 L514.3 181.3 L514.5 180.5 L514.6 179.7 L514.7 178.8 L514.8 178.0 L514.9 177.2 L515.0 176.3 L515.1 175.4 L515.3 174.5 L515.4 173.7 L515.5 172.8 L515.6 171.8 L515.7 170.9 L515.8 170.0 L515.9 169.1 L516.1 168.2 L516.2 167.2 L516.3 166.3 L516.4 165.4 L516.5 164.4 L516.6 163.5 L516.8 162.6 L516.9 161.6 L517.0 160.7 L517.1 159.8 L517.2 158.9 L517.3 158.0 L517.4 157.1 L517.6 156.2 L517.7 155.4 L517.8 154.5 L517.9 153.7 L518.0 152.9 L518.1 152.1 L518.2 151.3 L518.4 150.6 L518.5 149.9 L518.6 149.1 L518.7 148.5 L518.8 147.8 L518.9 147.2 L519.1 146.5 L519.3 145.4 L519.5 144.4 L519.7 143.4 L520.0 142.6 L520.2 142.0 L520.4 141.4 L520.8 140.8 L521.2 140.3 L521.9 140.3 L522.5 140.5 L523.0 141.1 L523.3 142.0 L523.5 142.7 L523.8 143.6 L524.0 144.8 L524.1 145.4 L524.2 146.1 L524.3 146.8 L524.5 147.6 L524.6 148.5 L524.7 149.4 L524.8 150.4 L524.9 151.4 L525.0 152.4 L525.1 153.5 L525.3 154.7 L525.4 155.9 L525.5 157.1 L525.6 158.4 L525.7 159.7 L525.8 161.0 L526.0 162.4 L526.1 163.7 L526.2 165.2 L526.3 166.6 L526.4 168.0 L526.5 169.4 L526.6 170.9 L526.8 172.3 L526.9 173.8 L527.0 175.2 L527.1 176.6 L527.2 178.0 L527.3 179.3 L527.5 180.6 L527.6 181.9 L527.7 183.2 L527.8 184.4 L527.9 185.6 L528.0 186.8 L528.1 187.8 L528.3 188.9 L528.4 189.9 L528.5 190.8 L528.6 191.7 L528.7 192.6 L528.8 193.4 L528.9 194.1 L529.1 194.8 L529.2 195.5 L529.3 196.1 L529.5 197.2 L529.8 198.1 L530.0 198.8 L530.2 199.4 L530.6 200.1 L531.0 200.7 L531.6 201.1 L532.2 201.3 L532.9 201.4 L533.5 201.4 L534.2 201.4 L534.9 201.4 L535.6 201.4 L536.3 201.4 L537.0 201.4 L537.7 201.4 L538.4 201.3 L539.1 201.2 L539.8 201.0 L540.3 200.8 L540.9 200.5 L541.5 200.0 L541.9 199.5 L542.4 198.9 L542.8 198.3 L543.1 197.6 L543.4 196.8 L543.7 196.3 L543.9 195.6 L544.1 194.9 L544.4 194.1 L544.6 193.3 L544.8 192.4 L545.1 191.4 L545.3 190.3 L545.5 189.2 L545.6 188.6 L545.7 188.0 L545.9 187.4 L546.0 186.7 L546.1 186.1 L546.2 185.4 L546.3 184.7 L546.4 184.0 L546.5 183.2 L546.7 182.5 L546.8 181.7 L546.9 181.0 L547.0 180.2 L547.1 179.4 L547.2 178.5 L547.4 177.7 L547.5 176.9 L547.6 176.0 L547.7 175.1 L547.8 174.2 L547.9 173.4 L548.0 172.5 L548.2 171.6 L548.3 170.6 L548.4 169.7 L548.5 168.8 L548.6 167.9 L548.7 167.0 L548.8 166.0 L549.0 165.1 L549.1 164.2 L549.2 163.3 L549.3 162.4 L549.4 161.5 L549.5 160.6 L549.7 159.7 L549.8 158.8 L549.9 157.9 L550.0 157.0 L550.1 156.2 L550.2 155.4 L550.3 154.5 L550.5 153.7 L550.6 152.9 L550.7 152.2 L550.8 151.4 L550.9 150.7 L551.0 150.0 L551.1 149.3 L551.3 148.6 L551.4 148.0 L551.5 147.4 L551.7 146.3 L552.0 145.2 L552.2 144.3 L552.4 143.5 L552.6 142.8 L552.9 142.2 L553.2 141.6 L553.7 141.2 L554.0 141.1" stroke="#ff0000" stroke-width="2.6"/>
<path d="M554.0 141.1 L554.4 141.7 L554.8 142.3 L555.1 142.8 L555.4 143.5 L555.7 144.2 L556.1 144.9 L556.3 145.5 L556.6 146.1 L556.8 146.7 L557.1 147.3 L557.3 148.0 L557.6 148.6 L557.8 149.3 L558.0 150.0 L558.3 150.8 L558.5 151.5 L558.8 152.3 L559.0 153.0 L559.3 153.8 L559.5 154.6 L559.8 155.4 L560.0 156.3 L560.3 157.1 L560.5 158.0 L560.8 158.8 L560.9 159.4 L561.1 160.0 L561.2 160.6 L561.4 161.2 L561.6 161.8 L561.7 162.3 L561.9 163.0 L562.1 163.6 L562.2 164.2 L562.4 164.8 L562.6 165.4 L562.7 166.0 L562.9 166.7 L563.1 167.4 L563.2 168.1 L563.4 168.9 L563.5 169.8 L563.7 170.6 L563.9 171.5 L564.0 172.5 L564.2 173.4 L564.4 174.4 L564.5 175.3 L564.7 176.3 L564.9 177.2 L565.0 178.2 L565.2 179.1 L565.4 180.0 L565.5 180.9 L565.7 181.7 L565.8 182.5 L566.0 183.3 L566.2 184.1 L566.3 184.7 L566.5 185.3 L566.8 186.2 L567.0 186.9 L567.2 187.5 L567.5 188.2 L567.7 188.8 L568.0 189.4 L568.2 189.9 L568.6 190.6 L568.9 191.3 L569.2 191.9 L569.5 192.5 L569.9 193.1 L570.3 193.7 L570.7 194.2 L571.1 194.7 L571.5 195.2 L571.9 195.7 L572.3 196.1 L572.8 196.6 L573.3 197.1 L573.8 197.6 L574.3 198.0 L574.8 198.5 L575.3 198.9 L575.8 199.2 L576.3 199.6 L576.9 199.9 L577.4 200.3 L578.0 200.6 L578.6 200.8 L579.2 201.1 L579.7 201.3 L580.3 201.5 L580.9 201.7 L581.5 201.8 L582.1 202.0 L582.8 202.2 L583.4 202.4 L584.1 202.5 L584.7 202.6 L585.4 202.8 L586.0 202.9 L586.7 203.0 L587.4 203.0 L588.0 203.1 L588.7 203.2 L589.3 203.3 L590.0 203.4 L590.6 203.4 L591.3 203.5 L592.0 203.6 L592.6 203.6 L593.3 203.6 L593.9 203.7 L594.6 203.7 L595.0 203.7" stroke="#ff0000" stroke-width="2.6"/>
<path d="M94.0 200.5 L94.7 200.5 L95.4 200.5 L96.1 200.5 L96.8 200.5 L97.5 200.5 L98.2 200.5 L98.8 200.5 L99.5 200.5 L100.2 200.5 L100.9 200.5 L101.6 200.5 L102.3 200.5 L103.0 200.5 L103.7 200.5 L104.4 200.5 L105.1 200.5 L105.8 200.5 L106.5 200.5 L107.1 200.5 L107.8 200.5 L108.5 200.5 L109.2 200.5 L109.9 200.4 L110.6 200.4 L111.3 200.4 L112.0 200.4 L112.7 200.4 L113.4 200.4 L114.1 200.4 L114.8 200.4 L115.4 200.3 L116.1 200.3 L116.8 200.2 L117.5 200.1 L118.2 200.0 L118.9 199.9 L119.6 199.7 L120.3 199.5 L121.0 199.3 L121.6 199.2 L122.1 199.0 L122.7 198.8 L123.3 198.6 L124.0 198.4 L124.7 198.2 L125.4 198.1 L126.0 198.0 L126.7 198.0 L127.4 198.0 L128.1 198.1 L128.8 198.2 L129.5 198.4 L130.2 198.6 L130.8 198.8 L131.4 198.9 L131.9 199.1 L132.5 199.3 L133.1 199.5 L133.8 199.7 L134.5 199.8 L135.2 200.0 L135.8 200.1 L136.5 200.2 L137.2 200.3 L137.9 200.3 L138.6 200.4 L139.3 200.4 L140.0 200.4 L140.7 200.4 L141.4 200.4 L142.1 200.4 L142.8 200.4 L143.5 200.4 L144.1 200.4 L144.8 200.4 L145.5 200.4 L146.2 200.4 L146.9 200.4 L147.6 200.4 L148.3 200.3 L149.0 200.3 L149.7 200.2 L150.4 200.1 L151.1 200.0 L151.8 199.9 L152.4 199.7 L153.1 199.5 L153.7 199.3 L154.3 199.2 L154.9 199.0 L155.4 198.8 L156.0 198.6 L156.6 198.5 L157.3 198.3 L158.0 198.1 L158.7 198.0 L159.4 198.0 L160.1 198.0 L160.7 198.1 L161.4 198.2 L162.1 198.3 L162.8 198.5 L163.4 198.7 L164.0 198.9 L164.6 199.1 L165.1 199.3 L165.7 199.4 L166.4 199.6 L167.1 199.8 L167.8 199.9 L168.5 200.1 L169.2 200.2 L169.9 200.2 L170.5 200.3 L171.2 200.3 L171.9 200.4 L172.6 200.4 L173.3 200.4 L174.0 200.4 L174.7 200.4 L175.4 200.4 L176.1 200.4 L176.8 200.5 L177.5 200.5 L178.2 200.5 L178.8 200.5 L179.5 200.5 L180.2 200.5 L180.9 200.5 L181.6 200.5 L182.3 200.5 L183.0 200.5 L183.7 200.4 L184.4 200.2 L185.0 199.9 L185.4 199.5 L185.9 199.0 L186.3 198.4 L186.8 197.7 L187.1 197.2 L187.5 196.7 L187.8 196.1 L188.2 195.5 L188.5 195.0 L188.9 194.4 L189.2 193.9 L189.6 193.3 L189.9 192.8 L190.4 192.2 L190.8 191.7 L191.3 191.3 L191.9 190.9 L192.4 190.7 L193.1 190.6 L193.8 190.7 L194.5 190.9 L195.1 191.2 L195.7 191.5 L196.3 191.9 L196.8 192.3 L197.4 192.8 L197.9 193.2 L198.3 193.7 L198.8 194.1 L199.3 194.6 L199.7 195.0 L200.2 195.5 L200.6 196.0 L201.1 196.5 L201.6 196.9 L202.0 197.4 L202.5 197.8 L202.9 198.2 L203.5 198.6 L204.1 199.0 L204.7 199.4 L205.2 199.6 L205.8 199.9 L206.5 200.0 L207.2 200.0 L207.9 200.0 L208.6 200.0 L209.3 200.0 L210.0 200.0 L210.7 200.0 L211.4 200.0 L212.0 200.0 L212.7 200.0 L213.4 200.0 L214.1 200.0 L214.8 200.0 L215.5 200.0 L216.2 200.0 L216.9 199.9 L217.5 199.7 L218.0 199.2 L218.5 198.8 L219.0 198.2 L219.4 197.6 L219.8 197.1 L220.1 196.5 L220.5 196.0 L220.8 195.4 L221.2 194.8 L221.5 194.3 L221.8 193.7 L222.2 193.2 L222.5 192.7 L223.0 192.0 L223.5 191.5 L223.9 191.0 L224.5 190.6 L225.1 190.3 L225.8 190.2 L226.5 190.3 L227.1 190.5 L227.7 190.7 L228.3 191.0 L228.9 191.3 L229.5 191.7 L230.0 192.2 L230.5 192.6 L231.0 193.0 L231.4 193.5 L231.9 193.9 L232.3 194.4 L232.8 194.8 L233.3 195.3 L233.7 195.8 L234.2 196.2 L234.6 196.7 L235.1 197.1 L235.6 197.5 L236.1 197.9 L236.7 198.3 L237.3 198.7 L237.9 199.0 L238.4 199.2 L239.1 199.4 L239.8 199.4 L240.5 199.4 L241.2 199.4 L241.9 199.4 L242.6 199.4 L243.3 199.4 L244.0 199.4 L244.7 199.4 L245.4 199.4 L246.1 199.4 L246.7 199.4 L247.4 199.4 L248.1 199.3 L248.7 199.0 L249.2 198.6 L249.6 198.0 L250.0 197.5 L250.3 196.9 L250.7 196.3 L251.0 195.6 L251.4 194.8 L251.7 194.0 L252.0 193.2 L252.3 192.6 L252.5 192.1 L252.7 191.5 L253.0 190.9 L253.2 190.3 L253.4 189.7 L253.7 189.1 L253.9 188.6 L254.1 188.0 L254.4 187.4 L254.7 186.6 L255.0 185.8 L255.4 185.1 L255.7 184.4 L256.1 183.8 L256.4 183.3 L256.9 182.7 L257.4 182.2 L257.9 181.8 L258.5 181.6 L259.2 181.7 L259.9 181.9 L260.5 182.1 L261.0 182.5 L261.6 183.0 L262.1 183.4 L262.5 183.9 L263.0 184.4 L263.5 184.9 L263.9 185.5 L264.4 186.2 L264.7 186.7 L265.1 187.2 L265.4 187.7 L265.8 188.3 L266.1 188.8 L266.5 189.3 L266.8 189.9 L267.2 190.4 L267.5 191.0 L267.8 191.5 L268.2 192.1 L268.5 192.6 L268.9 193.1 L269.2 193.6 L269.7 194.3 L270.1 194.9 L270.6 195.5 L271.1 196.0 L271.5 196.5 L272.0 196.9 L272.5 197.3 L273.0 197.7 L273.6 198.0 L274.2 198.3 L274.9 198.4 L275.6 198.4 L276.3 198.4 L277.0 198.4 L277.6 198.4 L278.3 198.4 L279.0 198.4 L279.7 198.4 L280.4 198.4 L281.1 198.4 L281.7 198.1 L282.3 197.6 L282.7 197.1 L283.2 196.5 L283.5 195.9 L283.9 195.3 L284.2 194.6 L284.6 193.9 L284.9 193.1 L285.3 192.3 L285.6 191.5 L285.9 190.7 L286.3 189.9 L286.6 189.0 L287.0 188.2 L287.3 187.4 L287.7 186.6 L288.0 185.9 L288.4 185.2 L288.7 184.5 L289.1 183.9 L289.4 183.4 L289.9 182.8 L290.3 182.3 L290.9 181.8 L291.5 181.6 L292.2 181.6 L292.9 181.8 L293.4 182.1 L294.0 182.4 L294.6 182.8 L295.0 183.2 L295.5 183.7 L296.0 184.2 L296.4 184.7 L296.9 185.3 L297.4 186.0 L297.8 186.6 L298.2 187.1 L298.5 187.6 L298.9 188.2 L299.2 188.7 L299.5 189.2 L299.9 189.8 L300.2 190.3 L300.6 190.9 L300.9 191.4 L301.3 191.9 L301.6 192.4 L302.0 192.9 L302.3 193.4 L302.8 194.1 L303.2 194.7 L303.7 195.2 L304.2 195.8 L304.6 196.2 L305.1 196.7 L305.7 197.1 L306.2 197.5 L306.8 197.7 L307.4 197.9 L308.1 198.0 L308.8 198.0 L309.5 198.0 L310.2 198.0 L310.8 198.0 L311.5 198.0 L312.2 198.0 L312.8 197.8 L313.4 197.3 L313.8 196.7 L314.2 196.2 L314.5 195.5 L314.9 194.8 L315.2 194.1 L315.6 193.2 L315.8 192.6 L316.0 192.0 L316.3 191.4 L316.5 190.7 L316.7 190.0 L317.0 189.3 L317.2 188.6 L317.4 187.9 L317.6 187.1 L317.9 186.4 L318.1 185.6 L318.3 184.9 L318.6 184.1 L318.8 183.4 L319.0 182.7 L319.3 181.9 L319.5 181.2 L319.7 180.5 L320.0 179.8 L320.2 179.1 L320.4 178.5 L320.6 177.8 L320.9 177.2 L321.1 176.7 L321.4 175.8 L321.8 175.1 L322.1 174.4 L322.5 173.8 L322.8 173.3 L323.3 172.8 L323.9 172.4 L324.4 172.2 L325.1 172.3 L325.7 172.5 L326.3 172.9 L326.8 173.3 L327.2 173.8 L327.7 174.4 L328.0 174.9 L328.4 175.5 L328.7 176.0 L329.1 176.7 L329.4 177.3 L329.7 178.0 L330.1 178.7 L330.4 179.4 L330.8 180.2 L331.1 181.0 L331.5 181.8 L331.8 182.6 L332.2 183.4 L332.5 184.2 L332.9 185.1 L333.2 185.9 L333.6 186.7 L333.9 187.5 L334.2 188.3 L334.6 189.1 L334.9 189.9 L335.3 190.6 L335.6 191.3 L336.0 192.0 L336.3 192.7 L336.7 193.3 L337.0 193.9 L337.4 194.4 L337.7 194.9 L338.2 195.5 L338.6 196.0 L339.1 196.4 L339.7 196.8 L340.2 197.1 L340.9 197.2 L341.6 197.2 L342.3 197.2 L343.0 197.2 L343.7 197.2 L344.4 197.2 L345.1 197.2 L345.7 196.9 L346.2 196.4 L346.7 195.8 L347.0 195.3 L347.4 194.7 L347.7 194.0 L348.1 193.2 L348.4 192.4 L348.7 191.8 L348.9 191.2 L349.1 190.6 L349.3 189.9 L349.6 189.3 L349.8 188.6 L350.0 187.9 L350.3 187.2 L350.5 186.5 L350.7 185.7 L351.0 185.0 L351.2 184.3 L351.4 183.6 L351.7 182.8 L351.9 182.1 L352.1 181.4 L352.3 180.7 L352.6 180.0 L352.8 179.4 L353.0 178.7 L353.3 178.1 L353.5 177.5 L353.7 176.9 L354.0 176.4 L354.3 175.6 L354.6 174.9 L355.0 174.2 L355.3 173.7 L355.8 173.1 L356.3 172.6 L356.8 172.3 L357.5 172.2 L358.2 172.4 L358.8 172.7 L359.4 173.1 L359.8 173.6 L360.3 174.1 L360.8 174.8 L361.1 175.3 L361.5 175.8 L361.8 176.4 L362.1 177.1 L362.5 177.7 L362.8 178.4 L363.2 179.1 L363.5 179.8 L363.9 180.6 L364.2 181.4 L364.6 182.1 L364.9 182.9 L365.3 183.7 L365.6 184.5 L365.9 185.3 L366.3 186.1 L366.6 186.9 L367.0 187.7 L367.3 188.5 L367.7 189.2 L368.0 189.9 L368.4 190.6 L368.7 191.3 L369.1 191.9 L369.4 192.5 L369.8 193.1 L370.1 193.6 L370.6 194.3 L371.0 194.8 L371.5 195.3 L371.9 195.7 L372.5 196.1 L373.1 196.3 L373.8 196.4 L374.5 196.4 L375.2 196.4 L375.9 196.4 L376.6 196.4 L377.2 196.4 L377.9 196.3 L378.5 195.9 L379.0 195.4 L379.3 194.8 L379.7 194.1 L380.0 193.3 L380.2 192.7 L380.5 192.1 L380.7 191.4 L380.9 190.7 L381.2 189.9 L381.4 189.1 L381.6 188.3 L381.9 187.4 L382.1 186.5 L382.3 185.6 L382.5 184.6 L382.8 183.7 L383.0 182.7 L383.2 181.7 L383.5 180.7 L383.7 179.7 L383.9 178.7 L384.2 177.7 L384.4 176.7 L384.6 175.7 L384.9 174.7 L385.1 173.8 L385.3 172.8 L385.5 171.9 L385.8 171.0 L386.0 170.1 L386.2 169.3 L386.5 168.5 L386.7 167.7 L386.9 166.9 L387.2 166.2 L387.4 165.6 L387.6 165.0 L387.9 164.4 L388.2 163.7 L388.5 163.0 L388.9 162.5 L389.3 162.0 L389.9 161.8 L390.6 161.8 L391.2 162.1 L391.8 162.6 L392.2 163.1 L392.7 163.8 L393.0 164.3 L393.4 164.9 L393.7 165.6 L394.1 166.3 L394.4 167.1 L394.8 167.9 L395.0 168.5 L395.2 169.1 L395.5 169.7 L395.7 170.4 L395.9 171.0 L396.2 171.7 L396.4 172.4 L396.6 173.0 L396.8 173.7 L397.1 174.5 L397.3 175.2 L397.5 175.9 L397.8 176.6 L398.0 177.4 L398.2 178.1 L398.5 178.8 L398.7 179.6 L398.9 180.3 L399.1 181.0 L399.4 181.7 L399.6 182.5 L399.8 183.2 L400.1 183.9 L400.3 184.6 L400.5 185.3 L400.8 185.9 L401.0 186.6 L401.2 187.2 L401.5 187.9 L401.7 188.5 L401.9 189.0 L402.1 189.6 L402.5 190.4 L402.8 191.2 L403.2 191.9 L403.5 192.6 L403.9 193.2 L404.2 193.7 L404.7 194.3 L405.1 194.8 L405.7 195.2 L406.3 195.5 L407.0 195.5 L407.7 195.5 L408.4 195.5 L409.1 195.5 L409.8 195.5 L410.4 195.5 L411.1 195.5 L411.7 195.2 L412.2 194.6 L412.5 194.1 L412.9 193.4 L413.2 192.6 L413.4 192.0 L413.7 191.4 L413.9 190.7 L414.1 190.0 L414.4 189.2 L414.6 188.4 L414.8 187.6 L415.1 186.7 L415.3 185.8 L415.5 184.9 L415.7 183.9 L416.0 183.0 L416.2 182.0 L416.4 181.0 L416.7 180.0 L416.9 179.0 L417.1 177.9 L417.4 176.9 L417.6 175.9 L417.8 174.9 L418.1 173.9 L418.3 172.9 L418.5 171.9 L418.7 171.0 L419.0 170.0 L419.2 169.1 L419.4 168.3 L419.7 167.4 L419.9 166.6 L420.1 165.9 L420.4 165.1 L420.6 164.4 L420.8 163.8 L421.1 163.2 L421.4 162.4 L421.7 161.8 L422.1 161.2 L422.5 160.7 L423.1 160.4 L423.8 160.4 L424.4 160.6 L425.0 161.1 L425.4 161.6 L425.9 162.2 L426.2 162.8 L426.6 163.4 L426.9 164.0 L427.3 164.7 L427.6 165.5 L428.0 166.3 L428.2 166.9 L428.4 167.5 L428.7 168.1 L428.9 168.7 L429.1 169.4 L429.4 170.0 L429.6 170.7 L429.8 171.4 L430.0 172.1 L430.3 172.8 L430.5 173.5 L430.7 174.2 L431.0 175.0 L431.2 175.7 L431.4 176.4 L431.7 177.2 L431.9 177.9 L432.1 178.6 L432.3 179.4 L432.6 180.1 L432.8 180.8 L433.0 181.5 L433.3 182.2 L433.5 182.9 L433.7 183.6 L434.0 184.3 L434.2 184.9 L434.4 185.6 L434.7 186.2 L434.9 186.8 L435.1 187.4 L435.3 188.0 L435.7 188.8 L436.0 189.5 L436.4 190.3 L436.7 190.9 L437.1 191.5 L437.4 192.0 L437.9 192.7 L438.3 193.2 L438.9 193.6 L439.5 193.8 L440.2 193.9 L440.9 193.9 L441.6 193.9 L442.3 193.9 L443.0 193.9 L443.6 193.9 L444.3 193.8 L444.9 193.3 L445.3 192.8 L445.6 192.1 L446.0 191.3 L446.2 190.6 L446.4 189.9 L446.6 189.1 L446.9 188.3 L447.1 187.4 L447.3 186.4 L447.6 185.4 L447.8 184.3 L448.0 183.2 L448.3 182.1 L448.5 180.9 L448.6 180.3 L448.7 179.7 L448.8 179.1 L448.9 178.5 L449.1 177.9 L449.2 177.2 L449.3 176.6 L449.4 175.9 L449.5 175.3 L449.6 174.6 L449.8 174.0 L449.9 173.3 L450.0 172.7 L450.1 172.0 L450.2 171.3 L450.3 170.7 L450.4 170.0 L450.6 169.4 L450.7 168.7 L450.8 168.1 L450.9 167.4 L451.0 166.8 L451.1 166.1 L451.3 165.5 L451.4 164.8 L451.5 164.2 L451.6 163.6 L451.7 163.0 L451.8 162.3 L451.9 161.7 L452.1 161.1 L452.3 160.0 L452.5 158.8 L452.8 157.8 L453.0 156.7 L453.2 155.7 L453.4 154.8 L453.7 153.9 L453.9 153.1 L454.1 152.3 L454.4 151.6 L454.6 151.0 L454.8 150.4 L455.2 149.7 L455.5 149.1 L456.0 148.6 L456.6 148.4 L457.1 148.6 L457.7 149.1 L458.2 149.6 L458.5 150.1 L458.9 150.7 L459.2 151.4 L459.6 152.2 L459.8 152.7 L460.0 153.3 L460.2 154.0 L460.5 154.6 L460.7 155.3 L460.9 156.0 L461.2 156.8 L461.4 157.6 L461.6 158.4 L461.9 159.2 L462.1 160.1 L462.3 160.9 L462.6 161.8 L462.8 162.7 L463.0 163.6 L463.2 164.6 L463.5 165.5 L463.7 166.5 L463.9 167.4 L464.2 168.4 L464.4 169.4 L464.6 170.4 L464.9 171.3 L465.1 172.3 L465.3 173.3 L465.5 174.2 L465.8 175.2 L466.0 176.2 L466.2 177.1 L466.5 178.0 L466.7 178.9 L466.9 179.8 L467.2 180.7 L467.4 181.6 L467.6 182.4 L467.9 183.2 L468.1 184.0 L468.3 184.8 L468.5 185.5 L468.8 186.2 L469.0 186.9 L469.2 187.5 L469.5 188.1 L469.7 188.7 L470.0 189.5 L470.4 190.2 L470.7 190.8 L471.1 191.4 L471.5 192.0 L472.0 192.4 L472.6 192.6 L473.3 192.7 L474.0 192.7 L474.7 192.7 L475.3 192.7 L476.0 192.7 L476.7 192.7 L477.3 192.5 L477.8 192.0 L478.1 191.4 L478.5 190.7 L478.7 190.1 L478.9 189.4 L479.2 188.7 L479.4 187.9 L479.6 187.1 L479.8 186.2 L480.1 185.2 L480.3 184.2 L480.5 183.1 L480.8 182.0 L481.0 180.8 L481.1 180.2 L481.2 179.6 L481.3 179.0 L481.5 178.4 L481.6 177.7 L481.7 177.1 L481.8 176.5 L481.9 175.8 L482.0 175.2 L482.1 174.5 L482.3 173.8 L482.4 173.2 L482.5 172.5 L482.6 171.8 L482.7 171.2 L482.8 170.5 L483.0 169.8 L483.1 169.1 L483.2 168.4 L483.3 167.8 L483.4 167.1 L483.5 166.4 L483.6 165.7 L483.8 165.1 L483.9 164.4 L484.0 163.7 L484.1 163.1 L484.2 162.4 L484.3 161.8 L484.5 161.2 L484.6 160.5 L484.7 159.9 L484.8 159.3 L484.9 158.7 L485.0 158.1 L485.1 157.5 L485.4 156.3 L485.6 155.2 L485.8 154.2 L486.1 153.2 L486.3 152.2 L486.5 151.3 L486.8 150.5 L487.0 149.7 L487.2 149.0 L487.5 148.4 L487.7 147.8 L488.0 147.1 L488.4 146.6 L488.8 146.1 L489.4 146.0 L490.0 146.2 L490.6 146.7 L491.0 147.2 L491.4 147.7 L491.7 148.3 L492.1 149.0 L492.4 149.8 L492.6 150.4 L492.9 151.0 L493.1 151.6 L493.3 152.2 L493.6 152.9 L493.8 153.7 L494.0 154.4 L494.3 155.2 L494.5 156.0 L494.7 156.8 L494.9 157.6 L495.2 158.5 L495.4 159.4 L495.6 160.3 L495.9 161.2 L496.1 162.1 L496.3 163.1 L496.6 164.0 L496.8 165.0 L497.0 165.9 L497.3 166.9 L497.5 167.9 L497.7 168.8 L497.9 169.8 L498.2 170.8 L498.4 171.7 L498.6 172.7 L498.9 173.6 L499.1 174.6 L499.3 175.5 L499.6 176.4 L499.8 177.3 L500.0 178.2 L500.2 179.1 L500.5 179.9 L500.7 180.7 L500.9 181.5 L501.2 182.3 L501.4 183.0 L501.6 183.7 L501.9 184.4 L502.1 185.1 L502.3 185.7 L502.6 186.3 L502.8 186.9 L503.1 187.6 L503.5 188.3 L503.8 188.9 L504.2 189.4 L504.6 190.0 L505.2 190.4 L505.8 190.6 L506.5 190.6 L507.2 190.6 L507.9 190.6 L508.5 190.6 L509.2 190.6 L509.9 190.6 L510.5 190.5 L511.0 189.9 L511.3 189.3 L511.7 188.5 L511.9 187.8 L512.1 187.1 L512.4 186.2 L512.6 185.3 L512.8 184.3 L513.0 183.3 L513.3 182.2 L513.5 181.0 L513.6 180.4 L513.7 179.7 L513.9 179.1 L514.0 178.4 L514.1 177.7 L514.2 177.1 L514.3 176.4 L514.4 175.7 L514.5 174.9 L514.7 174.2 L514.8 173.5 L514.9 172.7 L515.0 172.0 L515.1 171.2 L515.2 170.4 L515.4 169.7 L515.5 168.9 L515.6 168.1 L515.7 167.3 L515.8 166.5 L515.9 165.7 L516.0 164.9 L516.2 164.1 L516.3 163.3 L516.4 162.5 L516.5 161.7 L516.6 160.9 L516.7 160.1 L516.8 159.3 L517.0 158.5 L517.1 157.7 L517.2 156.9 L517.3 156.1 L517.4 155.4 L517.5 154.6 L517.7 153.8 L517.8 153.1 L517.9 152.3 L518.0 151.6 L518.1 150.9 L518.2 150.1 L518.3 149.4 L518.5 148.7 L518.6 148.1 L518.7 147.4 L518.8 146.7 L518.9 146.1 L519.0 145.5 L519.2 144.8 L519.3 144.2 L519.5 143.1 L519.7 142.0 L520.0 141.0 L520.2 140.1 L520.4 139.2 L520.7 138.4 L520.9 137.7 L521.1 137.1 L521.5 136.4 L521.8 135.8 L522.3 135.4 L523.0 135.4 L523.5 135.8 L524.0 136.4 L524.3 137.0 L524.7 137.6 L525.0 138.4 L525.3 139.0 L525.5 139.6 L525.7 140.3 L526.0 141.0 L526.2 141.8 L526.4 142.6 L526.6 143.4 L526.9 144.3 L527.1 145.2 L527.3 146.2 L527.6 147.1 L527.8 148.2 L528.0 149.2 L528.3 150.3 L528.5 151.4 L528.7 152.5 L529.0 153.6 L529.2 154.7 L529.4 155.9 L529.6 157.1 L529.8 157.7 L529.9 158.3 L530.0 158.9 L530.1 159.5 L530.2 160.1 L530.3 160.7 L530.5 161.3 L530.6 161.9 L530.7 162.5 L530.8 163.1 L530.9 163.7 L531.0 164.3 L531.1 164.9 L531.3 165.5 L531.4 166.1 L531.5 166.7 L531.6 167.3 L531.7 167.9 L531.8 168.5 L532.1 169.6 L532.3 170.8 L532.5 171.9 L532.8 173.0 L533.0 174.1 L533.2 175.2 L533.4 176.3 L533.7 177.3 L533.9 178.3 L534.1 179.2 L534.4 180.2 L534.6 181.0 L534.8 181.9 L535.1 182.7 L535.3 183.5 L535.5 184.2 L535.8 184.9 L536.0 185.5 L536.2 186.1 L536.6 187.0 L536.9 187.6 L537.3 188.2 L537.7 188.8 L538.2 189.2 L538.8 189.4 L539.4 189.4 L540.1 189.4 L540.8 189.4 L541.5 189.4 L542.2 189.4 L542.9 189.3 L543.4 188.8 L543.7 188.2 L544.1 187.4 L544.3 186.7 L544.5 186.0 L544.7 185.2 L545.0 184.3 L545.2 183.3 L545.4 182.3 L545.7 181.1 L545.9 180.0 L546.0 179.3 L546.1 178.7 L546.2 178.1 L546.4 177.4 L546.5 176.7 L546.6 176.0 L546.7 175.3 L546.8 174.6 L546.9 173.9 L547.1 173.2 L547.2 172.4 L547.3 171.7 L547.4 170.9 L547.5 170.1 L547.6 169.4 L547.7 168.6 L547.9 167.8 L548.0 167.0 L548.1 166.2 L548.2 165.4 L548.3 164.6 L548.4 163.8 L548.6 162.9 L548.7 162.1 L548.8 161.3 L548.9 160.5 L549.0 159.7 L549.1 158.9 L549.2 158.1 L549.4 157.3 L549.5 156.4 L549.6 155.6 L549.7 154.8 L549.8 154.1 L549.9 153.3 L550.1 152.5 L550.2 151.7 L550.3 151.0 L550.4 150.2 L550.5 149.5 L550.6 148.7 L550.7 148.0 L550.9 147.3 L551.0 146.6 L551.1 145.9 L551.2 145.2 L551.3 144.6 L551.4 143.9 L551.5 143.3 L551.7 142.7 L551.8 142.1 L552.0 140.9 L552.2 139.8 L552.5 138.8 L552.7 137.9 L552.9 137.0 L553.2 136.3 L553.4 135.6 L553.6 135.0 L554.0 134.2 L554.3 133.7 L554.8 133.3 L555.2 133.6 L555.6 134.1 L556.0 134.7 L556.4 135.2 L556.7 135.7 L557.1 136.2 L557.5 136.8 L557.8 137.3 L558.2 137.8 L558.6 138.3 L559.0 138.9 L559.3 139.4 L559.7 139.9 L560.1 140.4 L560.5 141.0 L560.8 141.5 L561.2 142.0 L561.6 142.5 L562.0 143.1 L562.3 143.6 L562.7 144.1 L563.1 144.6 L563.5 145.1 L563.8 145.7 L564.2 146.2 L564.6 146.7 L564.9 147.2 L565.3 147.7 L565.7 148.2 L566.1 148.8 L566.4 149.3 L566.8 149.8 L567.2 150.3 L567.6 150.9 L567.9 151.4 L568.3 151.9 L568.7 152.5 L569.1 153.0 L569.4 153.5 L569.8 154.1 L570.2 154.6 L570.6 155.2 L570.9 155.7 L571.3 156.3 L571.7 156.9 L572.0 157.5 L572.4 158.1 L572.8 158.7 L573.2 159.3 L573.5 159.9 L573.9 160.5 L574.3 161.1 L574.7 161.7 L575.0 162.3 L575.4 163.0 L575.8 163.6 L576.2 164.2 L576.5 164.8 L576.9 165.5 L577.3 166.1 L577.7 166.7 L578.0 167.3 L578.4 167.9 L578.8 168.5 L579.1 169.1 L579.5 169.7 L579.9 170.2 L580.3 170.8 L580.6 171.3 L581.0 171.9 L581.4 172.4 L581.8 172.9 L582.1 173.5 L582.5 174.0 L582.9 174.5 L583.3 175.0 L583.6 175.5 L584.0 176.0 L584.4 176.5 L584.8 177.0 L585.1 177.5 L585.5 178.0 L585.9 178.5 L586.2 179.0 L586.6 179.5 L587.0 180.0 L587.4 180.4 L587.7 180.9 L588.2 181.5 L588.6 182.0 L589.1 182.6 L589.5 183.1 L590.0 183.6 L590.4 184.2 L590.9 184.7 L591.3 185.2 L591.8 185.7 L592.2 186.2 L592.3 186.3" stroke="#0000ff" stroke-width="2.6" stroke-dasharray="10.2 3.0 5.0 2.9"/>
</g>
<rect x="94.0" y="129.2" width="573.8" height="81.9" fill="none" stroke="#262626" stroke-width="1.9"/>
<path d="M94.00 211.1 V205.30 M94.00 129.2 V136.00 M175.97 211.1 V205.30 M175.97 129.2 V136.00 M257.94 211.1 V205.30 M257.94 129.2 V136.00 M339.91 211.1 V205.30 M339.91 129.2 V136.00 M421.89 211.1 V205.30 M421.89 129.2 V136.00 M503.86 211.1 V205.30 M503.86 129.2 V136.00 M585.83 211.1 V205.30 M585.83 129.2 V136.00 M667.80 211.1 V205.30 M667.80 129.2 V136.00 M94.0 171.50 H99.90 M667.8 171.50 H661.70" stroke="#262626" stroke-width="1.6" fill="none"/>
<text x="92.80" y="234.50" font-family="'Liberation Serif', serif" font-size="19.0" fill="#151515" text-anchor="middle">0</text>
<text x="175.11" y="234.50" font-family="'Liberation Serif', serif" font-size="19.0" fill="#151515" text-anchor="middle">5</text>
<text x="257.43" y="234.50" font-family="'Liberation Serif', serif" font-size="19.0" fill="#151515" text-anchor="middle">10</text>
<text x="339.74" y="234.50" font-family="'Liberation Serif', serif" font-size="19.0" fill="#151515" text-anchor="middle">15</text>
<text x="422.06" y="234.50" font-family="'Liberation Serif', serif" font-size="19.0" fill="#151515" text-anchor="middle">20</text>
<text x="504.37" y="234.50" font-family="'Liberation Serif', serif" font-size="19.0" fill="#151515" text-anchor="middle">25</text>
<text x="586.69" y="234.50" font-family="'Liberation Serif', serif" font-size="19.0" fill="#151515" text-anchor="middle">30</text>
<text x="669.00" y="234.50" font-family="'Liberation Serif', serif" font-size="19.0" fill="#151515" text-anchor="middle">35</text>
<text x="88.30" y="220.45" font-family="'Liberation Serif', serif" font-size="19.0" fill="#151515" text-anchor="end">30</text>
<text x="88.30" y="178.95" font-family="'Liberation Serif', serif" font-size="19.0" fill="#151515" text-anchor="end">40</text>
<text x="88.30" y="138.05" font-family="'Liberation Serif', serif" font-size="19.0" fill="#151515" text-anchor="end">50</text>
<clipPath id="clipc"><rect x="94.0" y="252.5" width="573.8" height="80.39999999999998"/></clipPath>
<g clip-path="url(#clipc)" fill="none" stroke-linejoin="round">
<path d="M94.0 322.4 L94.7 322.4 L95.3 322.4 L96.0 322.4 L96.7 322.4 L97.4 322.4 L98.0 322.4 L98.7 322.4 L99.4 322.4 L100.1 322.4 L100.7 322.4 L101.4 322.4 L102.1 322.4 L102.7 322.4 L103.4 322.4 L104.1 322.4 L104.8 322.4 L105.4 322.4 L106.1 322.4 L106.8 322.4 L107.4 322.4 L108.1 322.4 L108.8 322.4 L109.5 322.4 L110.1 322.4 L110.8 322.4 L111.5 322.4 L112.2 322.4 L112.8 322.4 L113.5 322.4 L114.2 322.4 L114.8 322.4 L115.5 322.3 L116.2 322.3 L116.9 322.3 L117.5 322.3 L118.2 322.2 L118.9 322.2 L119.6 322.1 L120.2 322.0 L120.9 321.9 L121.6 321.8 L122.2 321.6 L122.9 321.5 L123.6 321.4 L124.3 321.3 L124.9 321.2 L125.6 321.2 L126.3 321.2 L127.0 321.2 L127.6 321.3 L128.3 321.4 L129.0 321.5 L129.6 321.7 L130.3 321.8 L131.0 321.9 L131.7 322.0 L132.3 322.1 L133.0 322.2 L133.7 322.3 L134.3 322.3 L135.0 322.3 L135.7 322.3 L136.4 322.4 L137.0 322.4 L137.7 322.4 L138.4 322.4 L139.1 322.4 L139.7 322.4 L140.4 322.4 L141.1 322.4 L141.7 322.4 L142.4 322.4 L143.1 322.4 L143.8 322.4 L144.4 322.4 L145.1 322.4 L145.8 322.4 L146.5 322.4 L147.1 322.4 L147.8 322.3 L148.5 322.3 L149.1 322.3 L149.8 322.3 L150.5 322.2 L151.2 322.1 L151.8 322.1 L152.5 321.9 L153.2 321.8 L153.8 321.7 L154.5 321.6 L155.2 321.4 L155.9 321.3 L156.5 321.2 L157.2 321.2 L157.9 321.2 L158.6 321.2 L159.2 321.3 L159.9 321.4 L160.6 321.5 L161.2 321.6 L161.9 321.7 L162.6 321.9 L163.3 322.0 L163.9 322.1 L164.6 322.2 L165.3 322.2 L166.0 322.3 L166.6 322.3 L167.3 322.3 L168.0 322.3 L168.6 322.4 L169.3 322.4 L170.0 322.4 L170.7 322.4 L171.3 322.4 L172.0 322.4 L172.7 322.4 L173.4 322.4 L174.0 322.4 L174.7 322.4 L175.4 322.4 L176.0 322.4 L176.7 322.4 L177.4 322.4 L178.1 322.4 L178.7 322.3 L179.4 322.3 L180.1 322.3 L180.7 322.2 L181.4 322.0 L182.0 321.7 L182.5 321.4 L183.1 320.9 L183.6 320.4 L184.0 319.8 L184.3 319.3 L184.7 318.8 L185.0 318.2 L185.3 317.6 L185.7 316.9 L186.0 316.2 L186.4 315.5 L186.7 314.9 L187.0 314.2 L187.4 313.7 L187.7 313.1 L188.1 312.6 L188.6 312.2 L189.2 311.9 L189.8 311.8 L190.5 311.9 L191.1 312.2 L191.5 312.8 L191.8 313.4 L192.2 314.1 L192.4 314.7 L192.6 315.3 L192.9 315.9 L193.1 316.6 L193.3 317.3 L193.5 318.0 L193.7 318.6 L194.0 319.2 L194.2 319.8 L194.5 320.5 L194.9 321.1 L195.3 321.7 L195.9 322.1 L196.6 322.3 L197.2 322.4 L197.9 322.4 L198.6 322.4 L199.2 322.4 L199.9 322.4 L200.6 322.4 L201.3 322.4 L201.9 322.4 L202.6 322.4 L203.3 322.4 L203.9 322.4 L204.6 322.4 L205.3 322.4 L206.0 322.4 L206.6 322.4 L207.3 322.4 L208.0 322.4 L208.7 322.4 L209.3 322.4 L210.0 322.4 L210.7 322.3 L211.3 322.3 L212.0 322.3 L212.7 322.1 L213.4 321.9 L213.9 321.7 L214.5 321.3 L215.0 320.9 L215.5 320.4 L215.9 319.8 L216.3 319.2 L216.6 318.7 L217.0 318.1 L217.3 317.4 L217.6 316.8 L218.0 316.1 L218.3 315.4 L218.6 314.7 L219.0 314.1 L219.3 313.6 L219.6 313.1 L220.1 312.5 L220.6 312.0 L221.2 311.8 L221.9 311.8 L222.6 312.0 L223.1 312.4 L223.6 313.1 L223.9 313.7 L224.2 314.5 L224.5 315.1 L224.7 315.8 L224.9 316.5 L225.1 317.2 L225.4 317.8 L225.6 318.5 L225.8 319.1 L226.0 319.7 L226.4 320.4 L226.7 321.0 L227.1 321.6 L227.7 322.1 L228.4 322.3 L229.1 322.3 L229.7 322.4 L230.4 322.4 L231.1 322.4 L231.7 322.4 L232.4 322.4 L233.1 322.4 L233.8 322.4 L234.4 322.4 L235.1 322.4 L235.8 322.4 L236.5 322.4 L237.1 322.4 L237.8 322.4 L238.5 322.4 L239.1 322.4 L239.8 322.4 L240.5 322.3 L241.2 322.3 L241.8 322.2 L242.5 322.1 L243.2 321.9 L243.7 321.7 L244.3 321.3 L244.9 320.9 L245.3 320.4 L245.8 319.8 L246.1 319.3 L246.4 318.7 L246.8 318.0 L247.1 317.3 L247.4 316.5 L247.7 315.9 L247.9 315.3 L248.1 314.7 L248.3 314.1 L248.6 313.4 L248.8 312.7 L249.0 312.1 L249.2 311.4 L249.5 310.7 L249.7 310.1 L249.9 309.4 L250.1 308.8 L250.3 308.2 L250.6 307.6 L250.9 306.8 L251.2 306.0 L251.6 305.4 L251.9 304.9 L252.4 304.4 L252.9 304.0 L253.6 304.0 L254.3 304.1 L254.8 304.5 L255.3 305.1 L255.6 305.7 L256.0 306.6 L256.2 307.3 L256.4 308.1 L256.6 308.9 L256.8 309.8 L257.1 310.8 L257.3 311.8 L257.5 312.8 L257.7 313.8 L258.0 314.8 L258.2 315.8 L258.4 316.7 L258.6 317.5 L258.9 318.3 L259.1 319.0 L259.3 319.7 L259.7 320.5 L260.0 321.1 L260.4 321.6 L261.0 322.1 L261.7 322.3 L262.3 322.3 L263.0 322.4 L263.7 322.4 L264.4 322.4 L265.0 322.4 L265.7 322.4 L266.4 322.4 L267.0 322.4 L267.7 322.4 L268.4 322.4 L269.1 322.4 L269.7 322.4 L270.4 322.4 L271.1 322.4 L271.8 322.4 L272.4 322.3 L273.1 322.3 L273.8 322.3 L274.4 322.2 L275.1 322.0 L275.8 321.7 L276.4 321.4 L276.9 321.0 L277.4 320.5 L277.8 319.9 L278.1 319.4 L278.5 318.9 L278.8 318.2 L279.2 317.5 L279.5 316.7 L279.7 316.1 L279.9 315.5 L280.2 314.9 L280.4 314.3 L280.6 313.6 L280.8 313.0 L281.1 312.3 L281.3 311.6 L281.5 310.9 L281.7 310.2 L282.0 309.5 L282.2 308.9 L282.4 308.2 L282.6 307.6 L282.9 307.0 L283.2 306.2 L283.5 305.5 L283.9 304.9 L284.2 304.4 L284.6 303.9 L285.2 303.6 L285.9 303.6 L286.6 303.7 L287.1 304.2 L287.6 304.8 L287.9 305.6 L288.1 306.2 L288.3 306.9 L288.6 307.6 L288.8 308.5 L289.0 309.4 L289.2 310.4 L289.5 311.4 L289.7 312.4 L289.9 313.5 L290.1 314.5 L290.4 315.5 L290.6 316.4 L290.8 317.3 L291.0 318.1 L291.3 318.9 L291.5 319.5 L291.7 320.1 L292.0 320.8 L292.4 321.3 L292.8 321.8 L293.4 322.1 L294.1 322.3 L294.7 322.4 L295.4 322.4 L296.1 322.4 L296.7 322.4 L297.4 322.4 L298.1 322.4 L298.8 322.4 L299.4 322.4 L300.1 322.4 L300.8 322.4 L301.5 322.4 L302.1 322.4 L302.8 322.3 L303.5 322.3 L304.1 322.3 L304.8 322.2 L305.5 322.0 L306.2 321.8 L306.7 321.5 L307.3 321.1 L307.7 320.7 L308.2 320.2 L308.6 319.6 L309.0 319.0 L309.3 318.4 L309.6 317.6 L310.0 316.8 L310.2 316.2 L310.4 315.6 L310.6 314.9 L310.9 314.2 L311.1 313.5 L311.3 312.7 L311.5 311.8 L311.8 311.0 L312.0 310.1 L312.2 309.2 L312.4 308.3 L312.7 307.3 L312.9 306.3 L313.1 305.4 L313.3 304.4 L313.6 303.4 L313.8 302.4 L314.0 301.5 L314.2 300.5 L314.5 299.6 L314.7 298.7 L314.9 297.9 L315.1 297.1 L315.4 296.3 L315.6 295.6 L315.8 295.0 L316.0 294.4 L316.4 293.6 L316.7 293.0 L317.1 292.4 L317.7 292.0 L318.4 291.9 L319.1 292.1 L319.6 292.6 L320.0 293.1 L320.3 293.8 L320.5 294.5 L320.7 295.2 L321.0 296.1 L321.2 297.0 L321.4 298.1 L321.6 299.3 L321.7 299.9 L321.9 300.5 L322.0 301.2 L322.1 301.9 L322.2 302.5 L322.3 303.3 L322.4 304.0 L322.5 304.7 L322.6 305.4 L322.8 306.2 L322.9 306.9 L323.0 307.7 L323.1 308.4 L323.2 309.1 L323.3 309.8 L323.4 310.6 L323.5 311.3 L323.6 311.9 L323.8 312.6 L323.9 313.3 L324.0 313.9 L324.1 314.5 L324.3 315.7 L324.5 316.7 L324.8 317.6 L325.0 318.5 L325.2 319.2 L325.4 319.8 L325.8 320.6 L326.1 321.2 L326.6 321.7 L327.1 322.1 L327.8 322.3 L328.5 322.3 L329.1 322.4 L329.8 322.4 L330.5 322.4 L331.2 322.4 L331.8 322.4 L332.5 322.4 L333.2 322.4 L333.8 322.4 L334.5 322.3 L335.2 322.3 L335.9 322.3 L336.5 322.2 L337.2 322.1 L337.9 321.9 L338.4 321.6 L339.0 321.2 L339.6 320.7 L340.0 320.2 L340.5 319.6 L340.8 319.1 L341.1 318.4 L341.5 317.7 L341.8 316.9 L342.0 316.3 L342.3 315.7 L342.5 315.0 L342.7 314.3 L342.9 313.5 L343.2 312.7 L343.4 311.9 L343.6 311.0 L343.8 310.1 L344.0 309.2 L344.3 308.3 L344.5 307.3 L344.7 306.3 L344.9 305.3 L345.2 304.3 L345.4 303.4 L345.6 302.4 L345.8 301.4 L346.1 300.4 L346.3 299.5 L346.5 298.6 L346.7 297.7 L347.0 296.9 L347.2 296.1 L347.4 295.4 L347.6 294.7 L347.9 294.1 L348.2 293.3 L348.5 292.7 L348.9 292.1 L349.3 291.7 L349.9 291.5 L350.5 291.5 L351.1 291.8 L351.6 292.2 L351.9 292.8 L352.2 293.6 L352.5 294.3 L352.7 295.1 L352.9 296.0 L353.1 297.0 L353.3 298.1 L353.5 298.7 L353.6 299.3 L353.7 300.0 L353.8 300.6 L353.9 301.3 L354.0 302.0 L354.1 302.7 L354.2 303.4 L354.4 304.2 L354.5 304.9 L354.6 305.6 L354.7 306.4 L354.8 307.1 L354.9 307.9 L355.0 308.6 L355.1 309.4 L355.3 310.1 L355.4 310.8 L355.5 311.5 L355.6 312.2 L355.7 312.9 L355.8 313.5 L355.9 314.1 L356.0 314.7 L356.3 315.9 L356.5 316.9 L356.7 317.8 L356.9 318.6 L357.2 319.4 L357.4 320.0 L357.7 320.7 L358.1 321.2 L358.5 321.7 L359.1 322.1 L359.7 322.3 L360.4 322.3 L361.1 322.4 L361.8 322.4 L362.4 322.4 L363.1 322.4 L363.8 322.4 L364.4 322.4 L365.1 322.4 L365.8 322.4 L366.5 322.3 L367.1 322.3 L367.8 322.3 L368.5 322.2 L369.2 322.1 L369.8 321.9 L370.4 321.6 L370.9 321.2 L371.4 320.8 L371.8 320.2 L372.2 319.7 L372.5 319.1 L372.9 318.5 L373.2 317.7 L373.4 317.1 L373.6 316.4 L373.9 315.7 L374.1 314.9 L374.3 314.1 L374.5 313.2 L374.8 312.2 L375.0 311.2 L375.2 310.1 L375.4 309.0 L375.5 308.4 L375.7 307.8 L375.8 307.1 L375.9 306.5 L376.0 305.9 L376.1 305.2 L376.2 304.5 L376.3 303.8 L376.4 303.1 L376.5 302.4 L376.7 301.7 L376.8 301.0 L376.9 300.3 L377.0 299.5 L377.1 298.8 L377.2 298.1 L377.3 297.3 L377.4 296.6 L377.6 295.8 L377.7 295.0 L377.8 294.3 L377.9 293.5 L378.0 292.8 L378.1 292.0 L378.2 291.3 L378.3 290.5 L378.5 289.8 L378.6 289.1 L378.7 288.4 L378.8 287.7 L378.9 287.0 L379.0 286.3 L379.1 285.6 L379.2 285.0 L379.4 284.3 L379.5 283.7 L379.6 283.1 L379.8 282.0 L380.0 280.9 L380.2 279.9 L380.5 279.0 L380.7 278.2 L380.9 277.5 L381.1 276.9 L381.5 276.2 L381.9 275.6 L382.5 275.4 L383.2 275.5 L383.7 276.0 L384.1 276.5 L384.4 277.4 L384.6 278.2 L384.8 279.1 L385.1 280.2 L385.2 280.8 L385.3 281.5 L385.4 282.1 L385.5 282.9 L385.6 283.7 L385.7 284.5 L385.9 285.4 L386.0 286.3 L386.1 287.2 L386.2 288.2 L386.3 289.2 L386.4 290.2 L386.5 291.3 L386.6 292.3 L386.7 293.4 L386.9 294.5 L387.0 295.7 L387.1 296.8 L387.2 297.9 L387.3 299.1 L387.4 300.2 L387.5 301.4 L387.6 302.5 L387.8 303.6 L387.9 304.7 L388.0 305.7 L388.1 306.8 L388.2 307.8 L388.3 308.8 L388.4 309.8 L388.5 310.7 L388.7 311.6 L388.8 312.4 L388.9 313.2 L389.0 314.0 L389.1 314.7 L389.2 315.4 L389.3 316.0 L389.4 316.6 L389.7 317.7 L389.9 318.7 L390.1 319.4 L390.3 320.1 L390.7 320.9 L391.0 321.4 L391.5 321.9 L392.0 322.2 L392.7 322.3 L393.4 322.4 L394.0 322.4 L394.7 322.4 L395.4 322.4 L396.1 322.4 L396.7 322.4 L397.4 322.4 L398.1 322.3 L398.7 322.3 L399.4 322.3 L400.1 322.2 L400.8 322.1 L401.4 321.9 L402.0 321.7 L402.6 321.4 L403.1 320.9 L403.6 320.4 L404.0 319.7 L404.3 319.2 L404.7 318.5 L405.0 317.7 L405.2 317.0 L405.5 316.4 L405.7 315.7 L405.9 314.9 L406.1 314.0 L406.4 313.1 L406.6 312.2 L406.8 311.1 L407.0 310.0 L407.3 308.9 L407.4 308.3 L407.5 307.7 L407.6 307.0 L407.7 306.4 L407.8 305.7 L407.9 305.0 L408.0 304.4 L408.2 303.7 L408.3 303.0 L408.4 302.2 L408.5 301.5 L408.6 300.8 L408.7 300.0 L408.8 299.3 L408.9 298.5 L409.1 297.8 L409.2 297.0 L409.3 296.2 L409.4 295.4 L409.5 294.7 L409.6 293.9 L409.7 293.1 L409.8 292.3 L409.9 291.6 L410.1 290.8 L410.2 290.0 L410.3 289.3 L410.4 288.6 L410.5 287.8 L410.6 287.1 L410.7 286.4 L410.8 285.7 L411.0 285.0 L411.1 284.3 L411.2 283.6 L411.3 283.0 L411.4 282.4 L411.5 281.8 L411.7 280.6 L412.0 279.5 L412.2 278.5 L412.4 277.7 L412.6 276.9 L412.9 276.2 L413.1 275.6 L413.4 274.9 L413.9 274.4 L414.4 274.2 L415.1 274.3 L415.7 274.9 L416.0 275.5 L416.2 276.1 L416.4 276.8 L416.7 277.8 L416.9 278.8 L417.0 279.5 L417.1 280.1 L417.2 280.8 L417.3 281.5 L417.5 282.3 L417.6 283.2 L417.7 284.0 L417.8 284.9 L417.9 285.9 L418.0 286.9 L418.1 287.9 L418.2 288.9 L418.4 290.0 L418.5 291.1 L418.6 292.2 L418.7 293.3 L418.8 294.5 L418.9 295.7 L419.0 296.8 L419.1 298.0 L419.3 299.2 L419.4 300.3 L419.5 301.5 L419.6 302.6 L419.7 303.8 L419.8 304.9 L419.9 305.9 L420.0 307.0 L420.1 308.0 L420.3 309.0 L420.4 310.0 L420.5 310.9 L420.6 311.8 L420.7 312.6 L420.8 313.4 L420.9 314.2 L421.0 314.9 L421.2 315.6 L421.3 316.2 L421.4 316.8 L421.6 317.9 L421.8 318.8 L422.1 319.6 L422.3 320.2 L422.6 320.9 L423.0 321.5 L423.4 321.9 L424.0 322.2 L424.6 322.3 L425.3 322.4 L426.0 322.4 L426.6 322.4 L427.3 322.4 L428.0 322.4 L428.7 322.4 L429.3 322.4 L430.0 322.4 L430.7 322.3 L431.4 322.3 L432.0 322.2 L432.7 322.1 L433.4 321.9 L433.9 321.7 L434.5 321.4 L435.1 320.9 L435.5 320.3 L435.8 319.8 L436.2 319.2 L436.5 318.5 L436.8 317.6 L437.1 317.0 L437.3 316.3 L437.5 315.5 L437.7 314.7 L438.0 313.8 L438.2 312.8 L438.4 311.7 L438.6 310.5 L438.8 309.9 L438.9 309.3 L439.0 308.7 L439.1 308.0 L439.2 307.3 L439.3 306.6 L439.4 305.9 L439.5 305.2 L439.6 304.4 L439.8 303.6 L439.9 302.9 L440.0 302.0 L440.1 301.2 L440.2 300.4 L440.3 299.5 L440.4 298.7 L440.5 297.8 L440.7 296.9 L440.8 296.0 L440.9 295.1 L441.0 294.1 L441.1 293.2 L441.2 292.3 L441.3 291.3 L441.4 290.4 L441.6 289.4 L441.7 288.5 L441.8 287.5 L441.9 286.5 L442.0 285.6 L442.1 284.6 L442.2 283.7 L442.3 282.7 L442.5 281.8 L442.6 280.9 L442.7 280.0 L442.8 279.1 L442.9 278.2 L443.0 277.3 L443.1 276.5 L443.2 275.6 L443.3 274.8 L443.5 274.0 L443.6 273.2 L443.7 272.5 L443.8 271.7 L443.9 271.0 L444.0 270.3 L444.1 269.7 L444.2 269.1 L444.4 268.5 L444.6 267.4 L444.8 266.4 L445.0 265.5 L445.3 264.8 L445.5 264.2 L445.8 263.5 L446.3 263.0 L446.9 263.0 L447.5 263.2 L447.9 263.9 L448.3 264.8 L448.5 265.6 L448.7 266.6 L449.0 267.8 L449.1 268.5 L449.2 269.2 L449.3 270.0 L449.4 270.9 L449.5 271.8 L449.6 272.7 L449.7 273.7 L449.8 274.8 L450.0 275.9 L450.1 277.0 L450.2 278.2 L450.3 279.5 L450.4 280.8 L450.5 282.1 L450.6 283.4 L450.7 284.8 L450.9 286.2 L451.0 287.6 L451.1 289.0 L451.2 290.5 L451.3 291.9 L451.4 293.4 L451.5 294.8 L451.6 296.2 L451.8 297.6 L451.9 299.0 L452.0 300.4 L452.1 301.7 L452.2 303.1 L452.3 304.3 L452.4 305.6 L452.5 306.8 L452.7 307.9 L452.8 309.0 L452.9 310.1 L453.0 311.1 L453.1 312.0 L453.2 313.0 L453.3 313.8 L453.4 314.6 L453.5 315.3 L453.7 316.0 L453.8 316.7 L453.9 317.3 L454.1 318.3 L454.3 319.2 L454.6 320.0 L454.8 320.5 L455.1 321.2 L455.6 321.8 L456.1 322.1 L456.8 322.3 L457.5 322.4 L458.1 322.4 L458.8 322.4 L459.5 322.4 L460.2 322.4 L460.8 322.4 L461.5 322.4 L462.2 322.3 L462.9 322.3 L463.5 322.3 L464.2 322.2 L464.9 322.1 L465.5 321.8 L466.1 321.5 L466.7 321.1 L467.1 320.6 L467.6 320.0 L467.9 319.5 L468.2 318.8 L468.6 318.0 L468.8 317.4 L469.0 316.8 L469.2 316.0 L469.5 315.2 L469.7 314.4 L469.9 313.4 L470.1 312.4 L470.4 311.3 L470.6 310.1 L470.7 309.5 L470.8 308.9 L470.9 308.2 L471.0 307.5 L471.1 306.8 L471.3 306.1 L471.4 305.4 L471.5 304.6 L471.6 303.8 L471.7 303.1 L471.8 302.3 L471.9 301.4 L472.0 300.6 L472.2 299.7 L472.3 298.9 L472.4 298.0 L472.5 297.1 L472.6 296.2 L472.7 295.3 L472.8 294.3 L472.9 293.4 L473.0 292.5 L473.2 291.5 L473.3 290.6 L473.4 289.6 L473.5 288.6 L473.6 287.7 L473.7 286.7 L473.8 285.7 L473.9 284.8 L474.1 283.8 L474.2 282.9 L474.3 281.9 L474.4 281.0 L474.5 280.1 L474.6 279.2 L474.7 278.3 L474.8 277.4 L475.0 276.5 L475.1 275.7 L475.2 274.8 L475.3 274.0 L475.4 273.2 L475.5 272.5 L475.6 271.7 L475.7 271.0 L475.9 270.3 L476.0 269.6 L476.1 269.0 L476.2 268.3 L476.4 267.2 L476.6 266.2 L476.9 265.3 L477.1 264.5 L477.3 263.9 L477.6 263.2 L478.1 262.7 L478.8 262.6 L479.3 262.8 L479.8 263.4 L480.1 264.3 L480.3 265.0 L480.6 266.0 L480.8 267.2 L480.9 267.8 L481.0 268.5 L481.1 269.3 L481.2 270.1 L481.3 271.0 L481.5 272.0 L481.6 273.0 L481.7 274.0 L481.8 275.1 L481.9 276.2 L482.0 277.4 L482.1 278.6 L482.2 279.9 L482.4 281.2 L482.5 282.6 L482.6 283.9 L482.7 285.3 L482.8 286.8 L482.9 288.2 L483.0 289.6 L483.1 291.1 L483.2 292.5 L483.4 294.0 L483.5 295.4 L483.6 296.9 L483.7 298.3 L483.8 299.7 L483.9 301.0 L484.0 302.4 L484.1 303.7 L484.3 304.9 L484.4 306.2 L484.5 307.3 L484.6 308.5 L484.7 309.6 L484.8 310.6 L484.9 311.6 L485.0 312.5 L485.2 313.4 L485.3 314.2 L485.4 315.0 L485.5 315.7 L485.6 316.4 L485.7 317.0 L485.9 318.1 L486.2 319.0 L486.4 319.8 L486.6 320.4 L486.9 321.1 L487.4 321.7 L488.0 322.1 L488.6 322.3 L489.3 322.3 L490.0 322.4 L490.6 322.4 L491.3 322.4 L492.0 322.4 L492.7 322.4 L493.3 322.4 L494.0 322.4 L494.7 322.3 L495.4 322.3 L496.0 322.2 L496.7 322.1 L497.4 322.0 L497.9 321.7 L498.5 321.4 L499.1 320.9 L499.5 320.3 L499.8 319.8 L500.2 319.2 L500.5 318.5 L500.7 317.9 L501.0 317.3 L501.2 316.6 L501.4 315.8 L501.6 315.0 L501.9 314.1 L502.1 313.1 L502.3 312.1 L502.5 310.9 L502.6 310.3 L502.7 309.7 L502.9 309.1 L503.0 308.4 L503.1 307.7 L503.2 307.0 L503.3 306.3 L503.4 305.5 L503.5 304.8 L503.6 304.0 L503.8 303.2 L503.9 302.4 L504.0 301.5 L504.1 300.7 L504.2 299.8 L504.3 298.9 L504.4 298.0 L504.5 297.1 L504.7 296.2 L504.8 295.2 L504.9 294.2 L505.0 293.3 L505.1 292.3 L505.2 291.3 L505.3 290.3 L505.4 289.3 L505.6 288.3 L505.7 287.3 L505.8 286.3 L505.9 285.3 L506.0 284.3 L506.1 283.3 L506.2 282.3 L506.3 281.3 L506.4 280.3 L506.6 279.3 L506.7 278.3 L506.8 277.4 L506.9 276.4 L507.0 275.5 L507.1 274.6 L507.2 273.7 L507.3 272.8 L507.5 272.0 L507.6 271.1 L507.7 270.3 L507.8 269.5 L507.9 268.8 L508.0 268.0 L508.1 267.3 L508.2 266.6 L508.4 266.0 L508.5 265.4 L508.6 264.8 L508.8 263.7 L509.0 262.7 L509.3 261.9 L509.5 261.2 L509.8 260.4 L510.3 259.9 L510.9 259.7 L511.5 260.0 L511.9 260.6 L512.3 261.4 L512.5 262.2 L512.7 263.2 L512.9 264.4 L513.1 265.1 L513.2 265.8 L513.3 266.6 L513.4 267.4 L513.5 268.4 L513.6 269.3 L513.7 270.3 L513.8 271.4 L514.0 272.6 L514.1 273.7 L514.2 275.0 L514.3 276.2 L514.4 277.6 L514.5 278.9 L514.6 280.3 L514.7 281.7 L514.9 283.2 L515.0 284.7 L515.1 286.2 L515.2 287.7 L515.3 289.2 L515.4 290.7 L515.5 292.3 L515.6 293.8 L515.8 295.3 L515.9 296.8 L516.0 298.2 L516.1 299.7 L516.2 301.1 L516.3 302.4 L516.4 303.8 L516.5 305.1 L516.6 306.3 L516.8 307.5 L516.9 308.7 L517.0 309.8 L517.1 310.8 L517.2 311.8 L517.3 312.7 L517.4 313.6 L517.5 314.4 L517.7 315.2 L517.8 315.9 L517.9 316.6 L518.0 317.2 L518.2 318.3 L518.4 319.2 L518.7 319.9 L518.9 320.5 L519.2 321.2 L519.7 321.8 L520.2 322.1 L520.9 322.3 L521.6 322.4 L522.3 322.4 L522.9 322.4 L523.6 322.4 L524.3 322.4 L524.9 322.4 L525.6 322.3 L526.3 322.3 L527.0 322.3 L527.6 322.2 L528.3 322.1 L529.0 321.9 L529.5 321.7 L530.1 321.3 L530.5 320.9 L531.0 320.3 L531.3 319.8 L531.7 319.2 L532.0 318.5 L532.3 317.7 L532.6 317.0 L532.8 316.3 L533.0 315.5 L533.2 314.6 L533.5 313.7 L533.7 312.7 L533.9 311.6 L534.1 310.4 L534.2 309.8 L534.4 309.1 L534.5 308.4 L534.6 307.8 L534.7 307.0 L534.8 306.3 L534.9 305.6 L535.0 304.8 L535.1 304.0 L535.3 303.2 L535.4 302.4 L535.5 301.5 L535.6 300.6 L535.7 299.7 L535.8 298.8 L535.9 297.9 L536.0 297.0 L536.1 296.0 L536.3 295.1 L536.4 294.1 L536.5 293.1 L536.6 292.1 L536.7 291.1 L536.8 290.1 L536.9 289.1 L537.0 288.0 L537.2 287.0 L537.3 286.0 L537.4 284.9 L537.5 283.9 L537.6 282.9 L537.7 281.8 L537.8 280.8 L537.9 279.8 L538.1 278.8 L538.2 277.8 L538.3 276.8 L538.4 275.8 L538.5 274.9 L538.6 273.9 L538.7 273.0 L538.8 272.1 L539.0 271.2 L539.1 270.3 L539.2 269.5 L539.3 268.6 L539.4 267.8 L539.5 267.1 L539.6 266.3 L539.7 265.6 L539.8 264.9 L540.0 264.3 L540.1 263.6 L540.2 263.0 L540.4 262.0 L540.6 261.0 L540.9 260.2 L541.1 259.5 L541.4 258.8 L541.9 258.2 L542.2 258.1" stroke="#ff0000" stroke-width="2.6"/>
<path d="M542.2 258.1 L542.8 258.2 L543.5 258.2 L544.1 258.4 L544.8 258.5 L545.4 258.8 L546.0 259.0 L546.7 259.3 L547.3 259.6 L548.0 259.9 L548.6 260.3 L549.2 260.6 L549.9 261.0 L550.5 261.4 L551.2 261.8 L551.6 262.1 L552.1 262.6 L552.6 263.0 L553.1 263.5 L553.6 264.1 L554.0 264.7 L554.5 265.4 L554.8 266.0 L555.2 266.7 L555.5 267.6 L555.8 268.6 L556.1 269.7 L556.4 270.8 L556.6 271.4 L556.8 272.0 L556.9 272.6 L557.1 273.2 L557.2 273.8 L557.4 274.4 L557.6 275.0 L557.7 275.6 L557.9 276.2 L558.2 277.4 L558.5 278.4 L558.8 279.4 L559.2 280.4 L559.5 281.4 L559.8 282.4 L560.1 283.4 L560.4 284.3 L560.8 285.3 L561.1 286.3 L561.4 287.2 L561.7 288.1 L562.0 289.0 L562.4 289.9 L562.7 290.8 L563.0 291.7 L563.3 292.6 L563.6 293.4 L564.0 294.3 L564.3 295.1 L564.6 295.9 L564.9 296.7 L565.2 297.5 L565.5 298.3 L565.9 299.1 L566.2 299.8 L566.5 300.5 L566.8 301.2 L567.1 301.8 L567.5 302.4 L567.8 303.1 L568.1 303.7 L568.4 304.3 L568.7 304.9 L569.1 305.4 L569.4 306.0 L569.7 306.5 L570.0 307.0 L570.5 307.7 L571.0 308.4 L571.5 309.1 L571.9 309.7 L572.4 310.3 L572.9 310.9 L573.4 311.5 L573.9 312.0 L574.3 312.4 L574.8 312.9 L575.3 313.2 L575.9 313.7 L576.6 314.2 L577.2 314.6 L577.9 315.0 L578.5 315.4 L579.1 315.7 L579.8 316.1 L580.4 316.4 L581.1 316.7 L581.7 317.0 L582.3 317.2 L583.0 317.5 L583.6 317.7 L584.3 317.9 L584.9 318.1 L585.5 318.2 L586.2 318.4 L586.8 318.6 L587.5 318.7 L588.1 318.9 L588.7 319.0 L589.4 319.1 L590.0 319.3 L590.7 319.4 L591.3 319.5 L591.9 319.6 L592.6 319.7 L593.2 319.8 L593.9 320.0 L594.5 320.1 L595.1 320.2 L595.8 320.3 L596.4 320.4 L597.1 320.5 L597.7 320.6 L598.3 320.7 L599.0 320.7 L599.6 320.8 L600.3 320.9 L600.9 320.9 L601.5 321.0 L602.2 321.1 L602.8 321.1 L603.4 321.2 L604.1 321.2 L604.7 321.3 L605.4 321.3 L606.0 321.4 L606.6 321.4 L607.3 321.5 L607.9 321.5 L608.6 321.5 L609.2 321.5 L609.8 321.6 L610.5 321.6 L611.1 321.6 L611.8 321.6 L612.4 321.6 L613.0 321.6 L613.7 321.6 L614.3 321.6 L615.0 321.6 L615.6 321.6 L616.2 321.6 L616.9 321.6 L617.5 321.6 L618.2 321.6 L618.8 321.6 L619.4 321.6 L620.1 321.6 L620.7 321.6 L621.4 321.6 L622.0 321.6" stroke="#ff0000" stroke-width="1.8"/>
<path d="M94.0 321.8 L94.7 321.8 L95.3 321.8 L96.0 321.8 L96.7 321.8 L97.4 321.8 L98.0 321.8 L98.7 321.8 L99.4 321.8 L100.1 321.8 L100.7 321.8 L101.4 321.8 L102.1 321.8 L102.8 321.8 L103.4 321.8 L104.1 321.8 L104.8 321.8 L105.4 321.8 L106.1 321.8 L106.8 321.8 L107.5 321.8 L108.1 321.8 L108.8 321.8 L109.5 321.8 L110.2 321.8 L110.8 321.8 L111.5 321.8 L112.2 321.8 L112.9 321.8 L113.5 321.8 L114.2 321.8 L114.9 321.7 L115.5 321.7 L116.2 321.6 L116.9 321.5 L117.6 321.4 L118.2 321.3 L118.9 321.1 L119.6 320.9 L120.3 320.7 L120.9 320.5 L121.6 320.3 L122.3 320.1 L123.0 319.9 L123.6 319.7 L124.3 319.6 L125.0 319.5 L125.7 319.4 L126.3 319.4 L127.0 319.5 L127.7 319.6 L128.3 319.8 L129.0 320.0 L129.7 320.2 L130.4 320.4 L131.0 320.6 L131.7 320.8 L132.4 321.0 L133.1 321.2 L133.7 321.3 L134.4 321.4 L135.1 321.5 L135.8 321.6 L136.4 321.7 L137.1 321.7 L137.8 321.8 L138.4 321.8 L139.1 321.8 L139.8 321.8 L140.5 321.8 L141.1 321.8 L141.8 321.8 L142.5 321.8 L143.2 321.8 L143.8 321.8 L144.5 321.8 L145.2 321.8 L145.9 321.8 L146.5 321.7 L147.2 321.7 L147.9 321.6 L148.5 321.5 L149.2 321.4 L149.9 321.3 L150.6 321.2 L151.2 321.0 L151.9 320.8 L152.6 320.6 L153.3 320.4 L153.9 320.2 L154.6 320.0 L155.3 319.8 L156.0 319.6 L156.6 319.5 L157.3 319.4 L158.0 319.4 L158.6 319.5 L159.3 319.6 L160.0 319.7 L160.7 319.9 L161.3 320.1 L162.0 320.3 L162.7 320.5 L163.4 320.7 L164.0 320.9 L164.7 321.1 L165.4 321.3 L166.1 321.4 L166.7 321.5 L167.4 321.6 L168.1 321.7 L168.8 321.7 L169.4 321.8 L170.1 321.8 L170.8 321.8 L171.4 321.8 L172.1 321.8 L172.8 321.8 L173.5 321.8 L174.1 321.8 L174.8 321.8 L175.5 321.8 L176.2 321.8 L176.8 321.8 L177.5 321.8 L178.2 321.8 L178.9 321.8 L179.5 321.8 L180.2 321.8 L180.9 321.8 L181.5 321.7 L182.1 321.4 L182.7 320.9 L183.1 320.4 L183.6 319.9 L184.0 319.3 L184.5 318.7 L184.8 318.2 L185.1 317.7 L185.5 317.1 L185.8 316.6 L186.1 316.1 L186.5 315.6 L186.9 315.0 L187.4 314.4 L187.8 313.8 L188.3 313.4 L188.8 312.9 L189.4 312.6 L190.1 312.4 L190.7 312.4 L191.4 312.6 L192.1 312.8 L192.7 313.1 L193.2 313.5 L193.8 313.9 L194.3 314.4 L194.8 314.8 L195.2 315.2 L195.7 315.7 L196.1 316.1 L196.6 316.6 L197.0 317.1 L197.5 317.6 L197.9 318.1 L198.4 318.5 L198.8 319.0 L199.3 319.4 L199.7 319.8 L200.3 320.3 L200.9 320.7 L201.4 321.0 L202.0 321.3 L202.6 321.5 L203.3 321.6 L204.0 321.6 L204.7 321.6 L205.3 321.6 L206.0 321.6 L206.7 321.6 L207.4 321.6 L208.0 321.6 L208.7 321.6 L209.4 321.6 L210.1 321.6 L210.7 321.6 L211.4 321.6 L212.1 321.6 L212.7 321.6 L213.4 321.5 L214.0 321.2 L214.5 320.7 L215.0 320.3 L215.4 319.8 L215.9 319.2 L216.3 318.6 L216.8 317.9 L217.1 317.4 L217.5 316.9 L217.8 316.4 L218.1 315.9 L218.6 315.2 L219.0 314.6 L219.5 314.1 L219.9 313.6 L220.4 313.2 L220.9 312.8 L221.5 312.5 L222.2 312.4 L222.8 312.4 L223.5 312.6 L224.2 312.8 L224.8 313.1 L225.3 313.4 L225.9 313.8 L226.4 314.2 L227.0 314.6 L227.6 315.1 L228.1 315.6 L228.6 316.0 L229.0 316.4 L229.5 316.8 L230.0 317.3 L230.6 317.7 L231.2 318.2 L231.7 318.6 L232.3 319.0 L232.8 319.3 L233.4 319.6 L234.0 319.8 L234.6 320.0 L235.3 320.0 L236.0 320.0 L236.7 320.0 L237.3 320.0 L238.0 320.0 L238.7 320.0 L239.3 320.0 L240.0 320.0 L240.7 320.0 L241.4 320.0 L242.0 320.0 L242.7 320.0 L243.4 319.9 L243.9 319.6 L244.5 319.1 L245.0 318.5 L245.4 317.9 L245.7 317.3 L246.1 316.7 L246.4 316.1 L246.8 315.4 L247.1 314.7 L247.4 313.9 L247.8 313.1 L248.1 312.3 L248.4 311.5 L248.8 310.7 L249.1 310.0 L249.4 309.2 L249.8 308.4 L250.1 307.7 L250.5 307.0 L250.8 306.4 L251.1 305.8 L251.5 305.2 L251.9 304.6 L252.4 304.0 L252.8 303.6 L253.4 303.3 L254.1 303.2 L254.7 303.2 L255.4 303.5 L256.0 303.8 L256.5 304.2 L257.1 304.6 L257.5 305.1 L258.0 305.6 L258.4 306.1 L258.9 306.7 L259.3 307.4 L259.8 308.0 L260.1 308.5 L260.4 309.1 L260.8 309.6 L261.1 310.1 L261.5 310.7 L261.8 311.3 L262.1 311.8 L262.5 312.4 L262.8 312.9 L263.1 313.4 L263.5 314.0 L263.8 314.5 L264.2 315.0 L264.6 315.7 L265.1 316.3 L265.5 316.8 L265.9 317.4 L266.4 317.9 L266.8 318.3 L267.4 318.8 L268.0 319.1 L268.5 319.4 L269.2 319.6 L269.9 319.6 L270.6 319.6 L271.2 319.6 L271.9 319.6 L272.6 319.6 L273.2 319.6 L273.9 319.6 L274.6 319.6 L275.3 319.6 L275.9 319.4 L276.5 318.9 L276.9 318.4 L277.4 317.9 L277.7 317.3 L278.1 316.8 L278.4 316.2 L278.7 315.5 L279.1 314.8 L279.4 314.1 L279.8 313.4 L280.1 312.6 L280.4 311.8 L280.8 311.0 L281.1 310.3 L281.4 309.5 L281.8 308.8 L282.1 308.0 L282.4 307.3 L282.8 306.7 L283.1 306.1 L283.5 305.5 L283.8 305.0 L284.2 304.4 L284.7 303.9 L285.3 303.5 L285.8 303.2 L286.5 303.2 L287.2 303.3 L287.7 303.5 L288.3 303.8 L288.8 304.2 L289.4 304.7 L289.9 305.2 L290.3 305.7 L290.8 306.2 L291.2 306.8 L291.7 307.4 L292.1 308.1 L292.4 308.6 L292.8 309.1 L293.1 309.6 L293.4 310.2 L293.8 310.7 L294.1 311.3 L294.5 311.8 L294.8 312.3 L295.1 312.9 L295.5 313.4 L295.8 313.9 L296.1 314.4 L296.6 315.1 L297.0 315.7 L297.5 316.3 L297.9 316.8 L298.4 317.3 L298.8 317.7 L299.4 318.2 L300.0 318.6 L300.5 318.9 L301.2 319.1 L301.9 319.2 L302.5 319.2 L303.2 319.2 L303.9 319.2 L304.6 319.2 L305.2 319.2 L305.9 319.2 L306.6 319.1 L307.1 318.7 L307.6 318.3 L308.0 317.7 L308.4 317.1 L308.7 316.5 L309.0 315.8 L309.4 315.0 L309.7 314.2 L309.9 313.7 L310.2 313.1 L310.4 312.5 L310.6 311.8 L310.8 311.2 L311.1 310.5 L311.3 309.9 L311.5 309.2 L311.7 308.5 L312.0 307.8 L312.2 307.1 L312.4 306.4 L312.6 305.7 L312.9 305.0 L313.1 304.3 L313.3 303.6 L313.5 303.0 L313.8 302.3 L314.0 301.6 L314.2 301.0 L314.4 300.4 L314.7 299.8 L314.9 299.2 L315.1 298.6 L315.4 297.9 L315.8 297.1 L316.1 296.5 L316.5 295.9 L316.8 295.3 L317.2 294.8 L317.7 294.3 L318.3 294.0 L318.9 293.9 L319.6 294.1 L320.2 294.4 L320.7 294.8 L321.2 295.3 L321.6 295.9 L322.1 296.5 L322.4 297.0 L322.7 297.6 L323.1 298.2 L323.4 298.8 L323.8 299.5 L324.1 300.2 L324.4 300.9 L324.8 301.7 L325.1 302.5 L325.4 303.3 L325.8 304.1 L326.1 304.9 L326.4 305.7 L326.8 306.5 L327.1 307.4 L327.5 308.2 L327.8 309.0 L328.1 309.8 L328.5 310.6 L328.8 311.4 L329.1 312.1 L329.5 312.8 L329.8 313.5 L330.1 314.2 L330.5 314.8 L330.8 315.4 L331.2 316.0 L331.5 316.5 L331.9 317.1 L332.4 317.6 L332.8 318.0 L333.4 318.4 L334.0 318.7 L334.6 318.8 L335.3 318.8 L336.0 318.8 L336.7 318.8 L337.3 318.8 L338.0 318.8 L338.7 318.6 L339.2 318.1 L339.7 317.6 L340.0 317.1 L340.4 316.5 L340.7 315.8 L341.0 315.1 L341.4 314.3 L341.7 313.5 L341.9 312.9 L342.2 312.3 L342.4 311.7 L342.6 311.0 L342.8 310.3 L343.1 309.7 L343.3 309.0 L343.5 308.3 L343.7 307.6 L344.0 306.9 L344.2 306.2 L344.4 305.5 L344.6 304.7 L344.9 304.0 L345.1 303.3 L345.3 302.6 L345.5 302.0 L345.7 301.3 L346.0 300.6 L346.2 300.0 L346.4 299.4 L346.6 298.8 L346.9 298.2 L347.2 297.4 L347.5 296.6 L347.9 295.9 L348.2 295.3 L348.6 294.7 L349.0 294.1 L349.5 293.6 L350.0 293.2 L350.7 293.1 L351.4 293.2 L351.9 293.5 L352.5 293.9 L352.9 294.3 L353.4 294.9 L353.8 295.5 L354.2 296.0 L354.5 296.5 L354.8 297.1 L355.2 297.7 L355.5 298.4 L355.9 299.0 L356.2 299.8 L356.5 300.5 L356.9 301.3 L357.2 302.0 L357.5 302.8 L357.9 303.6 L358.2 304.5 L358.5 305.3 L358.9 306.1 L359.2 306.9 L359.6 307.7 L359.9 308.5 L360.2 309.3 L360.6 310.1 L360.9 310.9 L361.2 311.6 L361.6 312.4 L361.9 313.0 L362.2 313.7 L362.6 314.3 L362.9 314.9 L363.3 315.5 L363.6 316.0 L364.0 316.6 L364.5 317.1 L364.9 317.6 L365.5 318.0 L366.1 318.3 L366.7 318.4 L367.4 318.4 L368.1 318.4 L368.8 318.4 L369.4 318.4 L370.1 318.4 L370.8 318.3 L371.3 317.9 L371.8 317.3 L372.1 316.7 L372.5 316.0 L372.8 315.2 L373.0 314.6 L373.2 313.9 L373.5 313.2 L373.7 312.5 L373.9 311.7 L374.1 310.9 L374.4 310.0 L374.6 309.1 L374.8 308.2 L375.0 307.3 L375.3 306.3 L375.5 305.3 L375.7 304.3 L375.9 303.3 L376.2 302.3 L376.4 301.2 L376.6 300.2 L376.8 299.1 L377.1 298.1 L377.3 297.1 L377.5 296.0 L377.7 295.0 L378.0 294.0 L378.2 293.0 L378.4 292.0 L378.6 291.1 L378.9 290.2 L379.1 289.3 L379.3 288.4 L379.5 287.6 L379.8 286.8 L380.0 286.0 L380.2 285.3 L380.4 284.7 L380.7 284.0 L380.9 283.5 L381.2 282.7 L381.6 282.1 L381.9 281.5 L382.3 281.0 L382.9 280.7 L383.6 280.7 L384.1 281.0 L384.7 281.5 L385.1 282.1 L385.5 282.6 L385.8 283.2 L386.2 283.8 L386.5 284.5 L386.8 285.3 L387.1 285.9 L387.3 286.5 L387.5 287.1 L387.7 287.7 L388.0 288.4 L388.2 289.1 L388.4 289.7 L388.6 290.5 L388.8 291.2 L389.1 291.9 L389.3 292.7 L389.5 293.5 L389.7 294.3 L390.0 295.0 L390.2 295.9 L390.4 296.7 L390.6 297.5 L390.9 298.3 L391.1 299.1 L391.3 299.9 L391.5 300.7 L391.8 301.6 L392.0 302.4 L392.2 303.2 L392.4 304.0 L392.7 304.7 L392.9 305.5 L393.1 306.3 L393.3 307.0 L393.6 307.8 L393.8 308.5 L394.0 309.2 L394.2 309.8 L394.5 310.5 L394.7 311.1 L394.9 311.7 L395.1 312.3 L395.4 312.9 L395.7 313.7 L396.0 314.4 L396.4 315.1 L396.7 315.7 L397.0 316.2 L397.5 316.7 L397.9 317.2 L398.5 317.5 L399.2 317.6 L399.8 317.6 L400.5 317.6 L401.2 317.6 L401.9 317.6 L402.5 317.6 L403.1 317.2 L403.6 316.7 L403.9 316.1 L404.2 315.4 L404.6 314.6 L404.8 314.0 L405.0 313.4 L405.2 312.7 L405.5 312.0 L405.7 311.2 L405.9 310.4 L406.1 309.6 L406.4 308.7 L406.6 307.8 L406.8 306.8 L407.0 305.9 L407.3 304.9 L407.5 303.9 L407.7 302.9 L407.9 301.8 L408.2 300.8 L408.4 299.7 L408.6 298.7 L408.8 297.6 L409.1 296.6 L409.3 295.5 L409.5 294.5 L409.7 293.5 L409.9 292.4 L410.2 291.5 L410.4 290.5 L410.6 289.5 L410.8 288.6 L411.1 287.7 L411.3 286.9 L411.5 286.1 L411.7 285.3 L412.0 284.5 L412.2 283.8 L412.4 283.2 L412.6 282.6 L412.9 282.0 L413.2 281.3 L413.5 280.7 L413.9 280.2 L414.3 279.7 L414.9 279.4 L415.6 279.5 L416.1 279.9 L416.6 280.3 L417.0 280.8 L417.5 281.5 L417.8 282.1 L418.1 282.7 L418.5 283.4 L418.8 284.2 L419.2 285.0 L419.4 285.6 L419.6 286.2 L419.8 286.9 L420.1 287.5 L420.3 288.2 L420.5 288.9 L420.7 289.6 L420.9 290.3 L421.2 291.0 L421.4 291.8 L421.6 292.5 L421.8 293.3 L422.1 294.1 L422.3 294.8 L422.5 295.6 L422.7 296.4 L423.0 297.2 L423.2 298.0 L423.4 298.8 L423.6 299.6 L423.9 300.4 L424.1 301.1 L424.3 301.9 L424.5 302.7 L424.8 303.4 L425.0 304.2 L425.2 304.9 L425.4 305.6 L425.7 306.3 L425.9 307.0 L426.1 307.7 L426.3 308.3 L426.6 308.9 L426.8 309.6 L427.0 310.1 L427.3 311.0 L427.7 311.7 L428.0 312.4 L428.4 313.1 L428.7 313.6 L429.0 314.1 L429.5 314.7 L429.9 315.1 L430.5 315.5 L431.2 315.6 L431.8 315.6 L432.5 315.6 L433.2 315.6 L433.9 315.6 L434.5 315.6 L435.1 315.3 L435.5 314.8 L435.9 314.2 L436.2 313.4 L436.4 312.9 L436.7 312.2 L436.9 311.5 L437.1 310.8 L437.3 309.9 L437.6 309.1 L437.8 308.1 L438.0 307.2 L438.2 306.1 L438.5 305.1 L438.7 304.0 L438.9 302.8 L439.1 301.7 L439.2 301.1 L439.4 300.5 L439.5 299.8 L439.6 299.2 L439.7 298.6 L439.8 298.0 L439.9 297.3 L440.0 296.7 L440.1 296.1 L440.3 295.4 L440.4 294.8 L440.5 294.1 L440.6 293.5 L440.7 292.8 L440.8 292.2 L440.9 291.5 L441.0 290.9 L441.2 290.2 L441.3 289.6 L441.4 288.9 L441.5 288.3 L441.6 287.7 L441.7 287.0 L441.8 286.4 L441.9 285.8 L442.0 285.1 L442.2 284.5 L442.3 283.9 L442.4 283.3 L442.5 282.7 L442.6 282.1 L442.8 280.9 L443.1 279.8 L443.3 278.7 L443.5 277.7 L443.7 276.7 L444.0 275.7 L444.2 274.8 L444.4 274.0 L444.6 273.2 L444.9 272.4 L445.1 271.7 L445.3 271.1 L445.6 270.3 L446.0 269.6 L446.3 269.1 L446.8 268.7 L447.4 268.6 L448.0 268.9 L448.4 269.3 L448.9 269.8 L449.2 270.4 L449.6 271.0 L449.9 271.7 L450.2 272.5 L450.5 273.1 L450.7 273.7 L450.9 274.4 L451.1 275.1 L451.4 275.8 L451.6 276.5 L451.8 277.3 L452.0 278.1 L452.3 279.0 L452.5 279.8 L452.7 280.7 L452.9 281.6 L453.2 282.5 L453.4 283.4 L453.6 284.4 L453.8 285.4 L454.1 286.3 L454.3 287.3 L454.5 288.3 L454.7 289.3 L455.0 290.3 L455.2 291.3 L455.4 292.3 L455.6 293.3 L455.9 294.3 L456.1 295.3 L456.3 296.3 L456.5 297.3 L456.8 298.2 L457.0 299.2 L457.2 300.1 L457.4 301.0 L457.7 301.9 L457.9 302.8 L458.1 303.7 L458.3 304.5 L458.5 305.3 L458.8 306.1 L459.0 306.8 L459.2 307.5 L459.4 308.2 L459.7 308.9 L459.9 309.5 L460.1 310.1 L460.5 310.9 L460.8 311.6 L461.1 312.2 L461.5 312.8 L461.9 313.3 L462.5 313.8 L463.2 314.0 L463.8 314.0 L464.5 314.0 L465.2 314.0 L465.8 314.0 L466.5 314.0 L467.1 313.6 L467.5 313.0 L467.9 312.4 L468.2 311.6 L468.4 310.9 L468.6 310.3 L468.9 309.5 L469.1 308.8 L469.3 307.9 L469.5 307.0 L469.8 306.1 L470.0 305.1 L470.2 304.0 L470.4 302.9 L470.7 301.8 L470.9 300.6 L471.0 300.1 L471.1 299.5 L471.2 298.9 L471.3 298.2 L471.5 297.6 L471.6 297.0 L471.7 296.4 L471.8 295.7 L471.9 295.1 L472.0 294.5 L472.1 293.8 L472.2 293.2 L472.4 292.5 L472.5 291.9 L472.6 291.2 L472.7 290.6 L472.8 289.9 L472.9 289.3 L473.0 288.6 L473.1 288.0 L473.3 287.3 L473.4 286.7 L473.5 286.1 L473.6 285.4 L473.7 284.8 L473.8 284.2 L473.9 283.5 L474.0 282.9 L474.1 282.3 L474.3 281.7 L474.4 281.1 L474.5 280.5 L474.7 279.4 L474.9 278.2 L475.2 277.1 L475.4 276.1 L475.6 275.1 L475.8 274.1 L476.1 273.2 L476.3 272.4 L476.5 271.6 L476.7 270.8 L477.0 270.1 L477.2 269.5 L477.5 268.7 L477.9 268.0 L478.2 267.5 L478.6 267.1 L479.3 267.0 L479.9 267.2 L480.3 267.6 L480.8 268.2 L481.1 268.8 L481.4 269.4 L481.8 270.1 L482.1 270.9 L482.3 271.5 L482.6 272.1 L482.8 272.8 L483.0 273.5 L483.2 274.2 L483.5 274.9 L483.7 275.7 L483.9 276.5 L484.1 277.3 L484.4 278.2 L484.6 279.1 L484.8 280.0 L485.0 280.9 L485.3 281.8 L485.5 282.8 L485.7 283.8 L485.9 284.7 L486.2 285.7 L486.4 286.7 L486.6 287.7 L486.8 288.7 L487.1 289.7 L487.3 290.8 L487.5 291.8 L487.7 292.8 L488.0 293.8 L488.2 294.8 L488.4 295.8 L488.6 296.7 L488.9 297.7 L489.1 298.6 L489.3 299.6 L489.5 300.5 L489.8 301.4 L490.0 302.3 L490.2 303.1 L490.4 303.9 L490.6 304.7 L490.9 305.5 L491.1 306.2 L491.3 306.9 L491.5 307.6 L491.8 308.3 L492.0 308.9 L492.2 309.4 L492.6 310.2 L492.9 310.9 L493.2 311.5 L493.6 312.1 L494.0 312.6 L494.6 313.0 L495.3 313.2 L495.9 313.2 L496.6 313.2 L497.3 313.2 L497.9 313.2 L498.6 313.2 L499.2 312.9 L499.6 312.2 L500.0 311.6 L500.3 310.7 L500.5 310.1 L500.7 309.4 L501.0 308.6 L501.2 307.7 L501.4 306.8 L501.6 305.8 L501.9 304.8 L502.1 303.7 L502.3 302.5 L502.4 301.9 L502.5 301.3 L502.7 300.7 L502.8 300.1 L502.9 299.5 L503.0 298.8 L503.1 298.2 L503.2 297.5 L503.3 296.8 L503.4 296.1 L503.6 295.5 L503.7 294.8 L503.8 294.1 L503.9 293.4 L504.0 292.7 L504.1 291.9 L504.2 291.2 L504.3 290.5 L504.5 289.8 L504.6 289.1 L504.7 288.3 L504.8 287.6 L504.9 286.9 L505.0 286.2 L505.1 285.4 L505.2 284.7 L505.4 284.0 L505.5 283.3 L505.6 282.5 L505.7 281.8 L505.8 281.1 L505.9 280.4 L506.0 279.7 L506.1 279.0 L506.2 278.3 L506.4 277.6 L506.5 276.9 L506.6 276.3 L506.7 275.6 L506.8 275.0 L506.9 274.3 L507.0 273.7 L507.1 273.0 L507.3 272.4 L507.4 271.8 L507.5 271.2 L507.7 270.1 L507.9 269.0 L508.2 268.0 L508.4 267.0 L508.6 266.0 L508.8 265.2 L509.1 264.4 L509.3 263.7 L509.5 263.0 L509.7 262.4 L510.1 261.7 L510.4 261.2 L510.9 260.7 L511.5 260.6 L512.1 260.9 L512.5 261.3 L513.0 262.0 L513.3 262.6 L513.7 263.3 L514.0 264.2 L514.2 264.8 L514.4 265.4 L514.7 266.1 L514.9 266.9 L515.1 267.6 L515.3 268.4 L515.6 269.3 L515.8 270.2 L516.0 271.1 L516.2 272.0 L516.5 273.0 L516.7 274.0 L516.9 275.0 L517.1 276.0 L517.4 277.1 L517.6 278.1 L517.8 279.2 L518.0 280.3 L518.3 281.5 L518.5 282.6 L518.7 283.7 L518.9 284.9 L519.2 286.0 L519.4 287.1 L519.6 288.3 L519.8 289.4 L520.1 290.5 L520.3 291.7 L520.5 292.8 L520.7 293.9 L521.0 294.9 L521.2 296.0 L521.4 297.0 L521.6 298.1 L521.9 299.1 L522.1 300.0 L522.3 301.0 L522.5 301.9 L522.7 302.8 L523.0 303.6 L523.2 304.4 L523.4 305.2 L523.6 305.9 L523.9 306.6 L524.1 307.3 L524.3 307.9 L524.5 308.5 L524.9 309.2 L525.2 309.9 L525.6 310.5 L526.0 311.0 L526.6 311.5 L527.2 311.6 L527.9 311.6 L528.6 311.6 L529.3 311.6 L529.9 311.6 L530.6 311.4 L531.1 310.8 L531.4 310.2 L531.7 309.4 L532.0 308.8 L532.2 308.1 L532.4 307.3 L532.6 306.4 L532.8 305.5 L533.1 304.5 L533.3 303.5 L533.5 302.4 L533.7 301.3 L533.9 300.7 L534.0 300.0 L534.1 299.4 L534.2 298.8 L534.3 298.1 L534.4 297.5 L534.5 296.8 L534.6 296.2 L534.8 295.5 L534.9 294.8 L535.0 294.1 L535.1 293.4 L535.2 292.7 L535.3 291.9 L535.4 291.2 L535.5 290.5 L535.7 289.7 L535.8 289.0 L535.9 288.3 L536.0 287.5 L536.1 286.8 L536.2 286.0 L536.3 285.3 L536.4 284.5 L536.6 283.8 L536.7 283.0 L536.8 282.2 L536.9 281.5 L537.0 280.8 L537.1 280.0 L537.2 279.3 L537.3 278.5 L537.5 277.8 L537.6 277.1 L537.7 276.3 L537.8 275.6 L537.9 274.9 L538.0 274.2 L538.1 273.5 L538.2 272.8 L538.3 272.2 L538.5 271.5 L538.6 270.8 L538.7 270.2 L538.8 269.5 L538.9 268.9 L539.0 268.3 L539.1 267.7 L539.4 266.5 L539.6 265.4 L539.8 264.4 L540.0 263.4 L540.3 262.4 L540.5 261.6 L540.7 260.8 L540.9 260.1 L541.2 259.4 L541.4 258.9 L541.7 258.2 L542.1 257.6 L542.5 257.2 L543.2 257.4 L543.6 257.8 L544.1 258.2 L544.6 258.6 L545.1 259.0 L545.5 259.3 L546.0 259.7 L546.5 260.1 L547.0 260.5 L547.4 260.9 L547.9 261.3 L548.4 261.7 L548.9 262.1 L549.3 262.4 L549.8 262.8 L550.3 263.2 L550.8 263.6 L551.2 264.0 L551.7 264.4 L552.2 264.8 L552.7 265.1 L553.2 265.5 L553.6 265.9 L554.1 266.3 L554.6 266.7 L555.1 267.1 L555.5 267.5 L556.0 267.8 L556.5 268.2 L557.0 268.6 L557.4 269.0 L557.9 269.4 L558.4 269.7 L558.9 270.1 L559.3 270.5 L560.0 271.0 L560.6 271.4 L561.2 271.9 L561.9 272.4 L562.5 272.8 L563.1 273.3 L563.8 273.7 L564.4 274.1 L565.0 274.6 L565.7 275.0 L566.3 275.5 L567.0 275.9 L567.6 276.3 L568.2 276.8 L568.9 277.2 L569.5 277.7 L570.1 278.1 L570.8 278.6 L571.4 279.1 L572.0 279.6 L572.5 279.9 L573.0 280.3 L573.5 280.7 L573.9 281.0 L574.4 281.4 L574.9 281.8 L575.4 282.2 L575.8 282.6 L576.3 282.9 L576.8 283.3 L577.3 283.7 L577.7 284.1 L578.2 284.5 L578.7 284.9 L579.2 285.2 L579.6 285.6 L580.1 286.0 L580.6 286.4 L581.1 286.8 L581.5 287.2 L582.0 287.5 L582.5 287.9 L583.0 288.3 L583.5 288.7 L583.9 289.1 L584.4 289.5 L584.9 289.9 L585.4 290.3 L585.8 290.7 L586.3 291.0 L586.8 291.4 L587.3 291.8 L587.7 292.2 L588.2 292.6 L588.7 293.0 L589.2 293.3 L589.6 293.7 L590.1 294.1 L590.6 294.5 L591.2 294.9 L591.9 295.4 L592.5 295.9 L593.1 296.4 L593.8 296.9 L594.4 297.3 L595.0 297.8 L595.7 298.3 L596.3 298.7 L596.9 299.2 L597.6 299.6 L598.2 300.1 L598.8 300.5 L599.5 300.9 L600.1 301.3 L600.7 301.7 L601.4 302.1 L602.0 302.5 L602.6 302.9 L603.3 303.3 L603.9 303.7 L604.5 304.0 L605.2 304.4 L605.8 304.8 L606.5 305.1 L607.1 305.5 L607.7 305.8 L608.4 306.1 L609.0 306.4 L609.6 306.7 L610.3 306.9 L610.9 307.1 L611.5 307.3 L612.2 307.4 L612.8 307.5 L613.4 307.7 L614.1 307.8 L614.7 307.9 L615.3 308.0 L616.0 308.1 L616.6 308.2 L617.2 308.3 L617.9 308.4 L618.5 308.5 L619.1 308.6 L619.8 308.6 L620.4 308.7 L621.0 308.7 L621.7 308.7 L622.0 308.7" stroke="#0000ff" stroke-width="2.6" stroke-dasharray="10.2 3.0 5.0 2.9"/>
</g>
<rect x="94.0" y="252.5" width="573.8" height="80.39999999999998" fill="none" stroke="#262626" stroke-width="1.9"/>
<path d="M94.00 332.9 V327.10 M94.00 252.5 V258.30 M157.76 332.9 V327.10 M157.76 252.5 V258.30 M221.51 332.9 V327.10 M221.51 252.5 V258.30 M285.27 332.9 V327.10 M285.27 252.5 V258.30 M349.02 332.9 V327.10 M349.02 252.5 V258.30 M412.78 332.9 V327.10 M412.78 252.5 V258.30 M476.53 332.9 V327.10 M476.53 252.5 V258.30 M540.29 332.9 V327.10 M540.29 252.5 V258.30 M604.04 332.9 V327.10 M604.04 252.5 V258.30 M667.80 332.9 V327.10 M667.80 252.5 V258.30 M94.0 293.30 H99.80 M667.8 293.30 H662.00" stroke="#262626" stroke-width="1.6" fill="none"/>
<text x="92.80" y="356.00" font-family="'Liberation Serif', serif" font-size="19.0" fill="#151515" text-anchor="middle">0</text>
<text x="156.82" y="356.00" font-family="'Liberation Serif', serif" font-size="19.0" fill="#151515" text-anchor="middle">2</text>
<text x="220.84" y="356.00" font-family="'Liberation Serif', serif" font-size="19.0" fill="#151515" text-anchor="middle">4</text>
<text x="284.87" y="356.00" font-family="'Liberation Serif', serif" font-size="19.0" fill="#151515" text-anchor="middle">6</text>
<text x="348.89" y="356.00" font-family="'Liberation Serif', serif" font-size="19.0" fill="#151515" text-anchor="middle">8</text>
<text x="412.91" y="356.00" font-family="'Liberation Serif', serif" font-size="19.0" fill="#151515" text-anchor="middle">10</text>
<text x="476.93" y="356.00" font-family="'Liberation Serif', serif" font-size="19.0" fill="#151515" text-anchor="middle">12</text>
<text x="540.96" y="356.00" font-family="'Liberation Serif', serif" font-size="19.0" fill="#151515" text-anchor="middle">14</text>
<text x="604.98" y="356.00" font-family="'Liberation Serif', serif" font-size="19.0" fill="#151515" text-anchor="middle">16</text>
<text x="669.00" y="356.00" font-family="'Liberation Serif', serif" font-size="19.0" fill="#151515" text-anchor="middle">18</text>
<text x="88.30" y="341.85" font-family="'Liberation Serif', serif" font-size="19.0" fill="#151515" text-anchor="end">30</text>
<text x="88.30" y="300.65" font-family="'Liberation Serif', serif" font-size="19.0" fill="#151515" text-anchor="end">40</text>
<text x="88.30" y="260.25" font-family="'Liberation Serif', serif" font-size="19.0" fill="#151515" text-anchor="end">50</text>
<clipPath id="clipd"><rect x="94.0" y="374.2" width="573.8" height="80.80000000000001"/></clipPath>
<g clip-path="url(#clipd)" fill="none" stroke-linejoin="round">
<path d="M94.0 441.6 L94.6 441.6 L95.2 441.6 L95.8 441.6 L96.4 441.6 L97.0 441.6 L97.7 441.6 L98.3 441.6 L98.9 441.6 L99.5 441.6 L100.1 441.6 L100.7 441.6 L101.3 441.6 L101.9 441.6 L102.5 441.6 L103.1 441.6 L103.8 441.6 L104.4 441.6 L105.0 441.6 L105.6 441.6 L106.2 441.6 L106.8 441.6 L107.4 441.6 L108.0 441.6 L108.6 441.6 L109.2 441.6 L109.8 441.6 L110.5 441.6 L111.1 441.6 L111.7 441.6 L112.3 441.6 L112.9 441.6 L113.5 441.6 L114.1 441.6 L114.7 441.5 L115.3 441.5 L115.9 441.5 L116.6 441.4 L117.2 441.3 L117.8 441.2 L118.4 441.1 L119.0 441.0 L119.6 440.8 L120.2 440.7 L120.8 440.6 L121.4 440.5 L122.0 440.4 L122.6 440.4 L123.3 440.4 L123.9 440.5 L124.5 440.6 L125.1 440.7 L125.7 440.8 L126.3 441.0 L126.9 441.1 L127.5 441.2 L128.1 441.3 L128.7 441.4 L129.4 441.5 L130.0 441.5 L130.6 441.5 L131.2 441.6 L131.8 441.6 L132.4 441.6 L133.0 441.6 L133.6 441.6 L134.2 441.6 L134.8 441.6 L135.4 441.6 L136.1 441.6 L136.7 441.6 L137.3 441.6 L137.9 441.6 L138.5 441.6 L139.1 441.6 L139.7 441.6 L140.3 441.6 L140.9 441.6 L141.5 441.6 L142.2 441.6 L142.8 441.6 L143.4 441.6 L144.0 441.5 L144.6 441.5 L145.2 441.4 L145.8 441.3 L146.4 441.2 L147.0 441.1 L147.6 441.0 L148.2 440.9 L148.9 440.7 L149.5 440.6 L150.1 440.5 L150.7 440.4 L151.3 440.4 L151.9 440.4 L152.5 440.5 L153.1 440.6 L153.7 440.7 L154.3 440.8 L155.0 441.0 L155.6 441.1 L156.2 441.2 L156.8 441.3 L157.4 441.4 L158.0 441.5 L158.6 441.5 L159.2 441.6 L159.8 441.6 L160.4 441.6 L161.0 441.6 L161.7 441.6 L162.3 441.6 L162.9 441.6 L163.5 441.6 L164.1 441.6 L164.7 441.6 L165.3 441.6 L165.9 441.6 L166.5 441.6 L167.1 441.6 L167.8 441.6 L168.4 441.6 L169.0 441.6 L169.6 441.6 L170.2 441.6 L170.8 441.6 L171.4 441.6 L172.0 441.6 L172.6 441.6 L173.2 441.5 L173.8 441.4 L174.5 441.3 L175.1 441.0 L175.7 440.7 L176.2 440.2 L176.6 439.8 L177.0 439.3 L177.4 438.7 L177.8 438.0 L178.1 437.5 L178.4 436.9 L178.7 436.4 L179.0 435.8 L179.3 435.3 L179.7 434.7 L180.1 434.1 L180.7 433.6 L181.2 433.3 L181.8 433.2 L182.4 433.2 L183.0 433.5 L183.5 434.0 L183.9 434.7 L184.2 435.3 L184.5 436.0 L184.8 436.8 L185.1 437.7 L185.4 438.5 L185.7 439.2 L186.0 439.9 L186.3 440.4 L186.7 440.9 L187.3 441.3 L187.9 441.5 L188.5 441.6 L189.1 441.6 L189.7 441.6 L190.3 441.6 L190.9 441.6 L191.5 441.6 L192.1 441.6 L192.7 441.6 L193.4 441.6 L194.0 441.6 L194.6 441.6 L195.2 441.6 L195.8 441.6 L196.4 441.6 L197.0 441.6 L197.6 441.6 L198.2 441.6 L198.8 441.6 L199.4 441.6 L200.1 441.6 L200.7 441.6 L201.3 441.6 L201.9 441.6 L202.5 441.5 L203.1 441.3 L203.7 441.1 L204.3 440.7 L204.8 440.3 L205.3 439.7 L205.7 439.2 L206.2 438.6 L206.6 437.9 L206.9 437.4 L207.2 436.8 L207.5 436.3 L207.8 435.7 L208.2 435.1 L208.6 434.5 L209.0 434.0 L209.5 433.5 L210.1 433.2 L210.7 433.2 L211.3 433.3 L211.8 433.6 L212.2 434.1 L212.7 434.8 L213.0 435.4 L213.3 436.2 L213.6 437.0 L213.9 437.8 L214.2 438.6 L214.5 439.4 L214.8 440.0 L215.2 440.6 L215.6 441.1 L216.1 441.4 L216.7 441.6 L217.3 441.6 L217.9 441.6 L218.5 441.6 L219.2 441.6 L219.8 441.6 L220.4 441.6 L221.0 441.6 L221.6 441.6 L222.2 441.6 L222.8 441.6 L223.4 441.6 L224.0 441.6 L224.6 441.6 L225.3 441.6 L225.9 441.6 L226.5 441.6 L227.1 441.6 L227.7 441.6 L228.3 441.6 L228.9 441.5 L229.5 441.4 L230.1 441.2 L230.7 440.9 L231.2 440.5 L231.8 440.0 L232.2 439.5 L232.6 438.9 L232.9 438.3 L233.2 437.7 L233.5 437.0 L233.8 436.3 L234.1 435.5 L234.4 434.7 L234.6 434.1 L234.8 433.5 L235.0 432.8 L235.2 432.2 L235.4 431.6 L235.6 431.0 L235.8 430.4 L236.0 429.8 L236.2 429.2 L236.4 428.6 L236.7 427.8 L237.0 427.1 L237.3 426.4 L237.6 425.9 L238.1 425.3 L238.6 424.9 L239.2 424.7 L239.8 424.7 L240.4 425.1 L240.8 425.6 L241.1 426.2 L241.4 426.9 L241.6 427.5 L241.8 428.2 L242.0 429.0 L242.2 429.8 L242.4 430.7 L242.6 431.6 L242.8 432.5 L243.0 433.5 L243.2 434.4 L243.4 435.3 L243.6 436.2 L243.8 437.0 L244.0 437.7 L244.2 438.4 L244.5 439.0 L244.8 439.8 L245.1 440.4 L245.5 440.9 L246.0 441.3 L246.6 441.6 L247.2 441.6 L247.8 441.7 L248.4 441.7 L249.0 441.7 L249.6 441.7 L250.2 441.7 L250.9 441.7 L251.5 441.7 L252.1 441.7 L252.7 441.7 L253.3 441.7 L253.9 441.7 L254.5 441.7 L255.1 441.7 L255.7 441.6 L256.3 441.6 L256.9 441.6 L257.6 441.5 L258.2 441.4 L258.8 441.2 L259.4 440.9 L259.9 440.6 L260.4 440.1 L260.8 439.6 L261.2 438.9 L261.5 438.4 L261.8 437.8 L262.1 437.1 L262.4 436.4 L262.7 435.6 L263.0 434.8 L263.2 434.2 L263.4 433.6 L263.7 433.0 L263.9 432.4 L264.1 431.7 L264.3 431.1 L264.5 430.5 L264.7 429.9 L264.9 429.3 L265.1 428.7 L265.4 427.9 L265.7 427.2 L266.0 426.5 L266.3 425.9 L266.7 425.4 L267.2 424.9 L267.8 424.7 L268.4 424.7 L269.0 425.0 L269.4 425.5 L269.7 426.1 L270.1 426.8 L270.3 427.4 L270.5 428.1 L270.7 428.8 L270.9 429.6 L271.1 430.5 L271.3 431.4 L271.5 432.3 L271.7 433.3 L271.9 434.2 L272.1 435.1 L272.3 436.0 L272.5 436.8 L272.7 437.6 L272.9 438.3 L273.1 438.9 L273.4 439.7 L273.7 440.3 L274.1 440.9 L274.6 441.3 L275.2 441.5 L275.8 441.6 L276.5 441.6 L277.1 441.6 L277.7 441.6 L278.3 441.6 L278.9 441.6 L279.5 441.6 L280.1 441.6 L280.7 441.6 L281.3 441.6 L281.9 441.6 L282.5 441.6 L283.2 441.6 L283.8 441.6 L284.4 441.6 L285.0 441.5 L285.6 441.4 L286.2 441.2 L286.8 440.9 L287.3 440.6 L287.8 440.1 L288.2 439.7 L288.6 439.1 L289.0 438.4 L289.4 437.8 L289.7 437.1 L290.0 436.3 L290.3 435.5 L290.5 434.9 L290.7 434.2 L290.9 433.5 L291.1 432.8 L291.3 432.1 L291.5 431.3 L291.7 430.5 L291.9 429.7 L292.1 428.8 L292.3 428.0 L292.5 427.1 L292.7 426.2 L292.9 425.4 L293.1 424.5 L293.3 423.6 L293.5 422.8 L293.7 421.9 L293.9 421.1 L294.1 420.4 L294.3 419.6 L294.5 418.9 L294.7 418.3 L294.9 417.6 L295.2 416.8 L295.6 416.1 L295.9 415.6 L296.3 415.0 L296.8 414.7 L297.4 414.6 L298.0 414.7 L298.5 415.2 L298.9 415.9 L299.2 416.6 L299.4 417.2 L299.6 418.0 L299.8 418.8 L300.0 419.7 L300.2 420.7 L300.4 421.8 L300.6 423.0 L300.7 423.6 L300.8 424.2 L300.9 424.8 L301.0 425.5 L301.1 426.1 L301.2 426.8 L301.3 427.4 L301.4 428.1 L301.5 428.8 L301.6 429.4 L301.7 430.1 L301.8 430.7 L302.0 431.3 L302.1 432.0 L302.2 432.6 L302.3 433.2 L302.5 434.3 L302.7 435.3 L302.9 436.3 L303.1 437.2 L303.3 438.0 L303.5 438.6 L303.7 439.2 L304.0 439.9 L304.3 440.5 L304.7 441.0 L305.2 441.3 L305.8 441.5 L306.4 441.6 L307.0 441.6 L307.6 441.6 L308.2 441.6 L308.9 441.6 L309.5 441.6 L310.1 441.6 L310.7 441.6 L311.3 441.6 L311.9 441.6 L312.5 441.5 L313.1 441.5 L313.7 441.4 L314.3 441.3 L315.0 441.1 L315.6 440.8 L316.1 440.5 L316.6 440.0 L317.0 439.5 L317.4 438.9 L317.7 438.4 L318.0 437.8 L318.3 437.1 L318.6 436.3 L318.9 435.5 L319.1 434.9 L319.3 434.2 L319.5 433.5 L319.7 432.8 L319.9 432.1 L320.1 431.3 L320.3 430.5 L320.5 429.6 L320.7 428.8 L320.9 427.9 L321.2 427.1 L321.4 426.2 L321.6 425.3 L321.8 424.4 L322.0 423.5 L322.2 422.7 L322.4 421.8 L322.6 421.0 L322.8 420.2 L323.0 419.4 L323.2 418.7 L323.4 418.0 L323.6 417.4 L323.8 416.8 L324.1 416.1 L324.4 415.4 L324.8 414.8 L325.3 414.3 L325.9 414.2 L326.5 414.3 L327.0 414.6 L327.4 415.2 L327.8 415.9 L328.1 416.7 L328.3 417.4 L328.5 418.2 L328.7 419.2 L328.9 420.2 L329.1 421.3 L329.3 422.4 L329.4 423.0 L329.5 423.7 L329.6 424.3 L329.7 424.9 L329.8 425.6 L329.9 426.3 L330.0 426.9 L330.1 427.6 L330.2 428.3 L330.3 428.9 L330.4 429.6 L330.5 430.3 L330.6 430.9 L330.7 431.5 L330.8 432.2 L330.9 432.8 L331.1 433.9 L331.3 435.0 L331.5 436.0 L331.7 436.9 L331.9 437.7 L332.1 438.4 L332.3 439.0 L332.6 439.8 L332.9 440.3 L333.3 440.9 L333.8 441.2 L334.5 441.4 L335.1 441.5 L335.7 441.5 L336.3 441.5 L336.9 441.5 L337.5 441.5 L338.1 441.5 L338.7 441.5 L339.3 441.5 L339.9 441.5 L340.6 441.5 L341.2 441.5 L341.8 441.5 L342.4 441.4 L343.0 441.3 L343.6 441.1 L344.2 440.8 L344.7 440.4 L345.2 439.9 L345.6 439.4 L346.0 438.7 L346.3 438.1 L346.6 437.4 L347.0 436.6 L347.2 435.9 L347.4 435.3 L347.6 434.5 L347.8 433.8 L348.0 432.9 L348.2 432.0 L348.4 431.1 L348.6 430.1 L348.8 429.0 L349.0 427.9 L349.2 426.7 L349.3 426.1 L349.4 425.5 L349.5 424.9 L349.6 424.3 L349.7 423.6 L349.8 423.0 L349.9 422.3 L350.0 421.6 L350.1 421.0 L350.2 420.3 L350.3 419.6 L350.4 418.9 L350.5 418.2 L350.6 417.5 L350.7 416.9 L350.8 416.2 L350.9 415.5 L351.0 414.8 L351.1 414.1 L351.2 413.4 L351.3 412.7 L351.4 412.1 L351.5 411.4 L351.6 410.7 L351.7 410.1 L351.8 409.5 L351.9 408.8 L352.0 408.2 L352.1 407.6 L352.3 406.5 L352.5 405.4 L352.7 404.4 L352.9 403.4 L353.2 402.5 L353.4 401.8 L353.6 401.1 L353.8 400.5 L354.1 399.8 L354.5 399.1 L355.0 398.8 L355.6 398.9 L356.1 399.2 L356.5 399.9 L356.8 400.7 L357.0 401.4 L357.2 402.3 L357.4 403.3 L357.6 404.5 L357.7 405.1 L357.8 405.8 L357.9 406.5 L358.0 407.3 L358.1 408.1 L358.2 408.9 L358.3 409.8 L358.4 410.7 L358.5 411.6 L358.6 412.6 L358.7 413.5 L358.8 414.5 L358.9 415.5 L359.0 416.6 L359.1 417.6 L359.2 418.6 L359.3 419.7 L359.4 420.7 L359.6 421.8 L359.7 422.8 L359.8 423.8 L359.9 424.8 L360.0 425.8 L360.1 426.8 L360.2 427.7 L360.3 428.7 L360.4 429.5 L360.5 430.4 L360.6 431.2 L360.7 432.0 L360.8 432.8 L360.9 433.5 L361.0 434.2 L361.1 434.8 L361.2 435.5 L361.4 436.6 L361.6 437.5 L361.8 438.3 L362.0 439.0 L362.2 439.6 L362.5 440.2 L362.9 440.8 L363.4 441.2 L364.0 441.4 L364.6 441.5 L365.2 441.5 L365.8 441.5 L366.5 441.5 L367.1 441.5 L367.7 441.5 L368.3 441.5 L368.9 441.5 L369.5 441.5 L370.1 441.5 L370.7 441.4 L371.3 441.4 L371.9 441.3 L372.6 441.1 L373.2 440.9 L373.8 440.5 L374.3 440.1 L374.7 439.6 L375.1 439.0 L375.4 438.4 L375.7 437.7 L376.0 437.0 L376.2 436.4 L376.4 435.8 L376.6 435.1 L376.8 434.3 L377.0 433.5 L377.2 432.7 L377.4 431.8 L377.6 430.8 L377.8 429.8 L378.0 428.7 L378.2 427.5 L378.4 426.3 L378.5 425.7 L378.6 425.1 L378.8 424.5 L378.9 423.8 L379.0 423.2 L379.1 422.5 L379.2 421.8 L379.3 421.1 L379.4 420.4 L379.5 419.8 L379.6 419.1 L379.7 418.3 L379.8 417.6 L379.9 416.9 L380.0 416.2 L380.1 415.5 L380.2 414.8 L380.3 414.1 L380.4 413.4 L380.5 412.7 L380.6 412.0 L380.7 411.3 L380.8 410.6 L380.9 410.0 L381.0 409.3 L381.1 408.6 L381.2 408.0 L381.3 407.4 L381.4 406.7 L381.5 406.1 L381.7 405.0 L381.9 403.9 L382.1 402.9 L382.3 401.9 L382.5 401.1 L382.7 400.3 L382.9 399.7 L383.1 399.1 L383.4 398.4 L383.8 397.9 L384.4 397.6 L385.0 397.7 L385.6 398.3 L385.9 398.9 L386.1 399.5 L386.3 400.2 L386.5 401.1 L386.7 402.1 L386.9 403.3 L387.0 404.0 L387.1 404.7 L387.2 405.4 L387.3 406.2 L387.4 407.0 L387.5 407.8 L387.6 408.7 L387.7 409.6 L387.8 410.6 L387.9 411.6 L388.0 412.6 L388.1 413.6 L388.2 414.6 L388.3 415.6 L388.4 416.7 L388.5 417.8 L388.6 418.8 L388.7 419.9 L388.8 421.0 L388.9 422.0 L389.0 423.1 L389.1 424.1 L389.2 425.1 L389.3 426.1 L389.4 427.1 L389.5 428.0 L389.6 428.9 L389.7 429.8 L389.8 430.7 L389.9 431.5 L390.0 432.3 L390.1 433.0 L390.2 433.7 L390.3 434.4 L390.4 435.0 L390.6 436.1 L390.8 437.1 L391.0 438.0 L391.2 438.7 L391.4 439.2 L391.8 439.9 L392.2 440.5 L392.7 440.9 L393.3 441.1 L393.9 441.1 L394.5 441.1 L395.1 441.1 L395.7 441.1 L396.3 441.1 L396.9 441.1 L397.5 441.1 L398.2 441.0 L398.8 441.0 L399.4 441.0 L400.0 440.9 L400.6 440.8 L401.2 440.6 L401.8 440.2 L402.3 439.8 L402.8 439.3 L403.2 438.7 L403.5 438.1 L403.8 437.5 L404.1 436.7 L404.4 436.1 L404.6 435.4 L404.8 434.7 L405.0 433.9 L405.2 433.1 L405.4 432.1 L405.6 431.1 L405.8 430.0 L406.0 428.9 L406.1 428.3 L406.2 427.6 L406.3 427.0 L406.4 426.3 L406.5 425.6 L406.6 424.9 L406.7 424.2 L406.8 423.4 L406.9 422.7 L407.0 421.9 L407.1 421.1 L407.2 420.3 L407.3 419.5 L407.4 418.6 L407.5 417.8 L407.6 416.9 L407.7 416.0 L407.8 415.1 L407.9 414.2 L408.0 413.3 L408.1 412.4 L408.2 411.5 L408.3 410.5 L408.4 409.6 L408.5 408.7 L408.6 407.7 L408.7 406.8 L408.8 405.8 L408.9 404.9 L409.0 404.0 L409.1 403.0 L409.2 402.1 L409.3 401.2 L409.4 400.3 L409.5 399.4 L409.6 398.5 L409.7 397.6 L409.8 396.7 L409.9 395.9 L410.0 395.1 L410.1 394.3 L410.2 393.5 L410.3 392.7 L410.4 392.0 L410.5 391.3 L410.6 390.6 L410.8 389.9 L410.9 389.2 L411.0 388.6 L411.2 387.5 L411.4 386.4 L411.6 385.5 L411.8 384.8 L412.0 384.1 L412.3 383.4 L412.7 382.8 L413.3 382.7 L413.9 383.0 L414.3 383.7 L414.6 384.6 L414.8 385.4 L415.0 386.4 L415.2 387.6 L415.3 388.3 L415.4 389.1 L415.5 389.9 L415.6 390.7 L415.7 391.6 L415.8 392.6 L415.9 393.6 L416.0 394.7 L416.1 395.8 L416.2 396.9 L416.3 398.1 L416.4 399.4 L416.5 400.6 L416.6 401.9 L416.7 403.3 L416.8 404.6 L416.9 406.0 L417.0 407.4 L417.2 408.8 L417.3 410.2 L417.4 411.7 L417.5 413.1 L417.6 414.5 L417.7 415.9 L417.8 417.3 L417.9 418.6 L418.0 419.9 L418.1 421.2 L418.2 422.5 L418.3 423.7 L418.4 424.9 L418.5 426.1 L418.6 427.2 L418.7 428.2 L418.8 429.2 L418.9 430.2 L419.0 431.1 L419.1 431.9 L419.2 432.7 L419.3 433.5 L419.4 434.2 L419.5 434.8 L419.6 435.4 L419.8 436.5 L420.0 437.4 L420.2 438.1 L420.4 438.7 L420.7 439.3 L421.1 439.9 L421.6 440.3 L422.2 440.4 L422.8 440.5 L423.4 440.5 L424.1 440.4 L424.7 440.4 L425.3 440.4 L425.9 440.4 L426.5 440.4 L427.1 440.3 L427.7 440.3 L428.3 440.2 L428.9 440.0 L429.5 439.8 L430.2 439.4 L430.7 438.9 L431.1 438.4 L431.5 437.8 L431.8 437.2 L432.1 436.5 L432.4 435.6 L432.6 435.0 L432.8 434.3 L433.0 433.6 L433.2 432.7 L433.4 431.8 L433.6 430.8 L433.8 429.8 L434.0 428.6 L434.1 428.0 L434.2 427.4 L434.3 426.8 L434.4 426.1 L434.5 425.5 L434.6 424.8 L434.7 424.1 L434.8 423.3 L434.9 422.6 L435.0 421.8 L435.1 421.0 L435.2 420.2 L435.3 419.4 L435.4 418.6 L435.5 417.7 L435.6 416.9 L435.7 416.0 L435.8 415.1 L435.9 414.2 L436.0 413.3 L436.1 412.4 L436.2 411.5 L436.4 410.5 L436.5 409.6 L436.6 408.6 L436.7 407.7 L436.8 406.8 L436.9 405.8 L437.0 404.9 L437.1 403.9 L437.2 403.0 L437.3 402.1 L437.4 401.1 L437.5 400.2 L437.6 399.3 L437.7 398.4 L437.8 397.5 L437.9 396.6 L438.0 395.8 L438.1 394.9 L438.2 394.1 L438.3 393.3 L438.4 392.5 L438.5 391.8 L438.6 391.0 L438.7 390.3 L438.8 389.6 L438.9 388.9 L439.0 388.3 L439.1 387.7 L439.3 386.6 L439.5 385.5 L439.7 384.6 L439.9 383.9 L440.1 383.2 L440.4 382.5 L440.8 382.0 L441.4 381.9 L442.0 382.2 L442.4 382.9 L442.7 383.5 L442.9 384.3 L443.1 385.2 L443.3 386.4 L443.4 387.0 L443.5 387.7 L443.6 388.5 L443.7 389.3 L443.8 390.2 L443.9 391.1 L444.0 392.1 L444.1 393.1 L444.2 394.2 L444.3 395.3 L444.4 396.5 L444.5 397.7 L444.6 398.9 L444.7 400.2 L444.8 401.5 L444.9 402.9 L445.0 404.2 L445.1 405.6 L445.2 407.0 L445.3 408.4 L445.4 409.9 L445.5 411.3 L445.6 412.7 L445.7 414.1 L445.8 415.5 L445.9 416.9 L446.0 418.2 L446.1 419.6 L446.2 420.9 L446.3 422.1 L446.4 423.4 L446.5 424.5 L446.6 425.7 L446.7 426.8 L446.8 427.8 L446.9 428.8 L447.0 429.8 L447.1 430.7 L447.2 431.5 L447.3 432.3 L447.4 433.0 L447.5 433.7 L447.6 434.4 L447.8 435.5 L448.0 436.4 L448.2 437.2 L448.4 437.9 L448.7 438.6 L449.2 439.2 L449.7 439.6 L450.3 439.8 L450.9 439.8 L451.5 439.8 L452.1 439.8 L452.7 439.8 L453.3 439.8 L453.9 439.8 L454.5 439.8 L455.1 439.8 L455.8 439.7 L456.4 439.7 L457.0 439.6 L457.6 439.5 L458.2 439.3 L458.8 439.1 L459.3 438.8 L459.8 438.3 L460.2 437.8 L460.6 437.1 L460.9 436.5 L461.2 435.8 L461.5 435.0 L461.7 434.4 L462.0 433.7 L462.2 432.9 L462.4 432.0 L462.6 431.1 L462.8 430.1 L463.0 429.1 L463.2 427.9 L463.3 427.3 L463.4 426.7 L463.5 426.0 L463.6 425.3 L463.7 424.6 L463.8 423.9 L463.9 423.2 L464.0 422.4 L464.1 421.7 L464.2 420.9 L464.3 420.1 L464.4 419.2 L464.5 418.4 L464.6 417.5 L464.7 416.7 L464.8 415.8 L464.9 414.9 L465.0 413.9 L465.1 413.0 L465.2 412.1 L465.3 411.1 L465.4 410.1 L465.5 409.2 L465.6 408.2 L465.7 407.2 L465.8 406.2 L465.9 405.2 L466.0 404.2 L466.1 403.2 L466.2 402.2 L466.3 401.2 L466.4 400.2 L466.5 399.2 L466.6 398.3 L466.7 397.3 L466.8 396.3 L466.9 395.4 L467.0 394.4 L467.1 393.5 L467.2 392.6 L467.3 391.7 L467.4 390.8 L467.5 390.0 L467.6 389.2 L467.7 388.3 L467.8 387.6 L467.9 386.8 L468.0 386.1 L468.1 385.4 L468.3 384.7 L468.4 384.0 L468.5 383.4 L468.7 382.3 L468.9 381.3 L469.1 380.4 L469.3 379.6 L469.5 379.0 L469.8 378.4 L470.2 377.9 L470.8 377.8 L471.3 378.2 L471.7 378.9 L471.9 379.5 L472.1 380.3 L472.3 381.3 L472.5 382.5 L472.6 383.2 L472.7 383.9 L472.8 384.7 L472.9 385.6 L473.0 386.5 L473.1 387.4 L473.2 388.4 L473.3 389.5 L473.4 390.7 L473.5 391.8 L473.6 393.1 L473.7 394.3 L473.8 395.6 L473.9 397.0 L474.0 398.4 L474.1 399.8 L474.2 401.2 L474.3 402.7 L474.4 404.2 L474.5 405.7 L474.7 407.2 L474.8 408.7 L474.9 410.1 L475.0 411.6 L475.1 413.1 L475.2 414.6 L475.3 416.0 L475.4 417.4 L475.5 418.7 L475.6 420.1 L475.7 421.4 L475.8 422.6 L475.9 423.8 L476.0 425.0 L476.1 426.1 L476.2 427.1 L476.3 428.1 L476.4 429.1 L476.5 430.0 L476.6 430.8 L476.7 431.6 L476.8 432.3 L476.9 433.0 L477.0 433.6 L477.2 434.7 L477.4 435.6 L477.6 436.4 L477.8 437.0 L478.1 437.6 L478.5 438.2 L479.0 438.6 L479.6 438.7 L480.2 438.7 L480.8 438.7 L481.5 438.7 L482.1 438.7 L482.7 438.7 L483.3 438.6 L483.9 438.6 L484.5 438.6 L485.1 438.6 L485.7 438.6 L486.3 438.5 L486.9 438.5 L487.6 438.4 L488.2 438.2 L488.8 437.9 L489.3 437.6 L489.8 437.0 L490.2 436.5 L490.5 436.0 L490.8 435.3 L491.1 434.6 L491.3 434.0 L491.5 433.4 L491.7 432.7 L491.9 431.9 L492.1 431.1 L492.3 430.2 L492.5 429.2 L492.7 428.1 L492.9 426.9 L493.0 426.3 L493.1 425.7 L493.2 425.0 L493.3 424.3 L493.4 423.6 L493.5 422.9 L493.6 422.2 L493.7 421.4 L493.9 420.6 L494.0 419.8 L494.1 419.0 L494.2 418.1 L494.3 417.3 L494.4 416.4 L494.5 415.5 L494.6 414.6 L494.7 413.6 L494.8 412.7 L494.9 411.7 L495.0 410.8 L495.1 409.8 L495.2 408.8 L495.3 407.8 L495.4 406.8 L495.5 405.7 L495.6 404.7 L495.7 403.7 L495.8 402.6 L495.9 401.6 L496.0 400.6 L496.1 399.5 L496.2 398.5 L496.3 397.5 L496.4 396.5 L496.5 395.4 L496.6 394.4 L496.7 393.4 L496.8 392.5 L496.9 391.5 L497.0 390.5 L497.1 389.6 L497.2 388.7 L497.3 387.8 L497.4 386.9 L497.5 386.1 L497.6 385.2 L497.7 384.4 L497.8 383.6 L497.9 382.9 L498.0 382.2 L498.1 381.5 L498.2 380.8 L498.3 380.2 L498.4 379.6 L498.6 378.5 L498.8 377.5 L499.0 376.7 L499.2 376.0 L499.5 375.3 L499.9 374.7 L500.3 374.6" stroke="#ff0000" stroke-width="2.6"/>
<path d="M500.3 374.6 L501.1 374.6 L501.9 374.7 L502.8 374.8 L503.6 375.0 L504.5 375.2 L505.3 375.4 L506.2 375.6 L507.0 375.9 L507.6 376.1 L508.2 376.4 L508.7 376.7 L509.3 377.0 L509.9 377.3 L510.4 377.6 L511.0 378.0 L511.6 378.4 L512.1 378.8 L512.7 379.2 L513.3 379.7 L513.8 380.3 L514.4 380.8 L515.0 381.4 L515.5 382.0 L516.1 382.6 L516.7 383.2 L517.2 383.9 L517.8 384.5 L518.4 385.2 L518.9 385.9 L519.5 386.7 L520.1 387.5 L520.6 388.4 L521.2 389.3 L521.7 390.2 L522.3 391.1 L522.9 392.1 L523.4 393.1 L524.0 394.1 L524.6 395.0 L525.1 396.0 L525.7 397.0 L526.3 397.9 L526.8 398.8 L527.4 399.8 L528.0 400.7 L528.5 401.7 L529.1 402.6 L529.7 403.6 L530.2 404.5 L530.8 405.4 L531.4 406.3 L531.9 407.2 L532.5 408.1 L533.1 409.0 L533.6 409.9 L534.2 410.7 L534.8 411.6 L535.3 412.4 L535.9 413.3 L536.5 414.1 L537.0 414.9 L537.6 415.8 L538.2 416.6 L538.7 417.5 L539.3 418.4 L539.9 419.2 L540.4 420.0 L541.0 420.7 L541.5 421.4 L542.1 422.0 L542.7 422.6 L543.2 423.2 L543.8 423.8 L544.4 424.3 L544.9 424.9 L545.5 425.4 L546.1 425.9 L546.6 426.4 L547.2 426.8 L547.8 427.3 L548.3 427.7 L548.9 428.0 L549.5 428.4 L550.0 428.7 L550.6 429.1 L551.2 429.4 L551.7 429.6 L552.3 429.9 L552.9 430.2 L553.4 430.4 L554.0 430.7 L554.6 430.9 L555.1 431.2 L555.7 431.4 L556.3 431.6 L557.1 431.8 L558.0 432.1 L558.8 432.4 L559.7 432.6 L560.5 432.8 L561.3 433.0 L562.2 433.2 L563.0 433.4 L563.9 433.6 L564.7 433.8 L565.6 433.9 L566.4 434.1 L567.3 434.2 L568.1 434.4 L569.0 434.5 L569.8 434.7 L570.7 434.8 L571.5 434.9 L572.4 435.0 L573.2 435.1 L574.1 435.2 L574.9 435.3 L575.8 435.4 L576.6 435.5 L577.5 435.6 L578.3 435.7 L579.2 435.8 L580.0 435.9 L580.9 436.0 L581.7 436.1 L582.6 436.3 L583.4 436.4 L584.3 436.5 L585.1 436.7 L586.0 436.8 L586.8 436.9 L587.7 437.1 L588.5 437.2 L589.4 437.3 L590.2 437.4 L591.1 437.5 L591.9 437.6 L592.7 437.6 L593.6 437.7 L594.4 437.8 L595.3 437.8 L596.1 437.9 L597.0 438.0 L597.8 438.0 L598.7 438.1 L599.5 438.1 L600.4 438.2 L601.2 438.2 L602.1 438.3 L602.9 438.3 L603.8 438.4 L604.6 438.4 L605.5 438.5 L606.3 438.5 L607.2 438.6 L608.0 438.6 L608.9 438.6 L609.7 438.6 L610.6 438.7 L611.4 438.7 L612.3 438.7 L613.1 438.7 L614.0 438.8 L614.8 438.8 L615.7 438.8 L616.5 438.8 L617.4 438.8 L618.2 438.8 L619.1 438.9 L619.9 438.9 L620.8 438.9 L621.6 438.9 L622.4 438.9 L623.3 438.9 L624.1 438.9 L625.0 439.0 L625.8 439.0 L626.7 439.0 L627.5 439.0 L628.4 439.0 L629.2 439.0 L630.1 439.0 L630.9 439.0 L631.8 439.0 L632.6 439.1 L633.5 439.1 L634.3 439.1 L635.2 439.1 L636.0 439.1 L636.9 439.1 L637.7 439.1 L638.6 439.1 L639.4 439.1 L640.3 439.1 L641.1 439.1 L641.4 439.1" stroke="#ff0000" stroke-width="1.8"/>
<path d="M94.0 441.3 L94.6 441.3 L95.2 441.3 L95.8 441.3 L96.4 441.3 L97.1 441.3 L97.7 441.3 L98.3 441.3 L98.9 441.3 L99.5 441.3 L100.1 441.3 L100.7 441.3 L101.3 441.3 L101.9 441.3 L102.5 441.3 L103.2 441.3 L103.8 441.3 L104.4 441.3 L105.0 441.3 L105.6 441.3 L106.2 441.3 L106.8 441.3 L107.4 441.3 L108.0 441.3 L108.6 441.3 L109.3 441.3 L109.9 441.2 L110.5 441.2 L111.1 441.2 L111.7 441.2 L112.3 441.2 L112.9 441.1 L113.5 441.1 L114.1 441.0 L114.8 440.9 L115.4 440.8 L116.0 440.6 L116.6 440.5 L117.2 440.3 L117.8 440.1 L118.4 439.9 L119.0 439.7 L119.6 439.4 L120.2 439.2 L120.9 439.1 L121.5 438.9 L122.1 438.9 L122.7 438.8 L123.3 438.9 L123.9 438.9 L124.5 439.1 L125.1 439.2 L125.7 439.4 L126.4 439.7 L127.0 439.9 L127.6 440.1 L128.2 440.3 L128.8 440.5 L129.4 440.6 L130.0 440.8 L130.6 440.9 L131.2 441.0 L131.8 441.1 L132.5 441.1 L133.1 441.2 L133.7 441.2 L134.3 441.2 L134.9 441.2 L135.5 441.2 L136.1 441.3 L136.7 441.3 L137.3 441.3 L137.9 441.3 L138.6 441.2 L139.2 441.2 L139.8 441.2 L140.4 441.2 L141.0 441.2 L141.6 441.1 L142.2 441.1 L142.8 441.0 L143.4 440.9 L144.1 440.8 L144.7 440.6 L145.3 440.5 L145.9 440.3 L146.5 440.1 L147.1 439.9 L147.7 439.7 L148.3 439.4 L148.9 439.2 L149.5 439.1 L150.2 438.9 L150.8 438.9 L151.4 438.8 L152.0 438.9 L152.6 438.9 L153.2 439.1 L153.8 439.2 L154.4 439.4 L155.0 439.6 L155.6 439.9 L156.3 440.1 L156.9 440.3 L157.5 440.5 L158.1 440.6 L158.7 440.8 L159.3 440.9 L159.9 441.0 L160.5 441.1 L161.1 441.1 L161.8 441.2 L162.4 441.2 L163.0 441.2 L163.6 441.2 L164.2 441.2 L164.8 441.3 L165.4 441.3 L166.0 441.3 L166.6 441.3 L167.2 441.3 L167.9 441.3 L168.5 441.3 L169.1 441.3 L169.7 441.3 L170.3 441.3 L170.9 441.3 L171.5 441.2 L172.1 441.1 L172.7 440.8 L173.4 440.5 L173.9 440.1 L174.4 439.6 L174.9 439.1 L175.3 438.6 L175.7 438.1 L176.1 437.7 L176.5 437.2 L176.9 436.6 L177.3 436.1 L177.7 435.6 L178.1 435.2 L178.5 434.7 L179.0 434.2 L179.6 433.7 L180.1 433.3 L180.6 432.9 L181.2 432.6 L181.8 432.4 L182.4 432.4 L183.0 432.5 L183.6 432.7 L184.2 433.1 L184.7 433.5 L185.3 434.0 L185.8 434.5 L186.2 435.0 L186.6 435.5 L187.0 436.1 L187.4 436.6 L187.8 437.1 L188.2 437.7 L188.6 438.2 L189.0 438.7 L189.4 439.2 L189.9 439.7 L190.4 440.2 L191.0 440.6 L191.6 440.9 L192.2 441.1 L192.8 441.2 L193.4 441.2 L194.0 441.2 L194.6 441.2 L195.2 441.2 L195.8 441.2 L196.4 441.2 L197.1 441.2 L197.7 441.2 L198.3 441.2 L198.9 441.2 L199.5 441.2 L200.1 441.2 L200.7 441.1 L201.3 440.8 L201.9 440.4 L202.4 440.0 L203.0 439.6 L203.5 439.0 L203.9 438.6 L204.3 438.1 L204.7 437.6 L205.1 437.1 L205.5 436.5 L205.9 436.0 L206.3 435.5 L206.7 435.0 L207.1 434.5 L207.5 434.0 L208.0 433.5 L208.5 433.1 L209.1 432.7 L209.7 432.3 L210.3 432.1 L210.9 432.0 L211.5 432.0 L212.1 432.2 L212.7 432.6 L213.2 432.9 L213.7 433.4 L214.2 434.0 L214.7 434.5 L215.1 435.0 L215.5 435.5 L215.9 436.1 L216.3 436.7 L216.7 437.2 L217.1 437.8 L217.5 438.3 L217.9 438.8 L218.3 439.3 L218.8 439.9 L219.3 440.3 L219.8 440.7 L220.5 441.0 L221.1 441.2 L221.7 441.2 L222.3 441.2 L222.9 441.2 L223.5 441.2 L224.1 441.2 L224.7 441.2 L225.3 441.2 L225.9 441.2 L226.6 441.2 L227.2 441.1 L227.8 440.9 L228.3 440.5 L228.8 440.0 L229.2 439.6 L229.6 439.1 L230.0 438.5 L230.4 437.8 L230.8 437.2 L231.1 436.6 L231.4 436.0 L231.7 435.5 L232.0 434.8 L232.4 434.2 L232.7 433.6 L233.0 433.0 L233.3 432.4 L233.6 431.7 L233.9 431.1 L234.2 430.5 L234.5 429.9 L234.8 429.3 L235.1 428.7 L235.4 428.1 L235.7 427.6 L236.1 426.9 L236.5 426.3 L236.9 425.8 L237.3 425.3 L237.8 424.8 L238.4 424.4 L239.0 424.0 L239.6 423.9 L240.2 423.9 L240.8 424.2 L241.3 424.6 L241.8 425.1 L242.2 425.5 L242.6 426.1 L243.0 426.7 L243.4 427.4 L243.7 427.9 L244.1 428.5 L244.4 429.1 L244.7 429.7 L245.0 430.4 L245.3 431.0 L245.6 431.7 L245.9 432.3 L246.2 433.0 L246.5 433.6 L246.8 434.2 L247.1 434.9 L247.4 435.5 L247.7 436.1 L248.0 436.6 L248.3 437.1 L248.7 437.8 L249.1 438.4 L249.5 438.9 L250.0 439.4 L250.5 439.8 L251.0 440.2 L251.6 440.4 L252.2 440.4 L252.8 440.4 L253.4 440.4 L254.0 440.4 L254.6 440.4 L255.2 440.4 L255.9 440.3 L256.5 440.0 L257.0 439.7 L257.5 439.2 L257.9 438.8 L258.3 438.3 L258.7 437.7 L259.1 437.0 L259.5 436.3 L259.8 435.8 L260.1 435.2 L260.4 434.6 L260.7 434.0 L261.0 433.4 L261.3 432.8 L261.7 432.2 L262.0 431.5 L262.3 430.9 L262.6 430.3 L262.9 429.7 L263.2 429.1 L263.5 428.5 L263.8 427.9 L264.1 427.3 L264.4 426.8 L264.8 426.1 L265.2 425.5 L265.6 425.0 L266.0 424.5 L266.5 424.0 L267.0 423.6 L267.7 423.2 L268.3 423.1 L268.9 423.1 L269.5 423.4 L270.0 423.7 L270.5 424.2 L270.9 424.7 L271.3 425.2 L271.7 425.8 L272.1 426.5 L272.4 427.1 L272.7 427.6 L273.0 428.2 L273.4 428.8 L273.7 429.4 L274.0 430.1 L274.3 430.7 L274.6 431.3 L274.9 432.0 L275.2 432.6 L275.5 433.2 L275.8 433.8 L276.1 434.4 L276.4 435.0 L276.7 435.6 L277.0 436.1 L277.4 436.7 L277.8 437.3 L278.2 437.8 L278.6 438.3 L279.2 438.7 L279.8 439.1 L280.4 439.2 L281.0 439.2 L281.6 439.2 L282.2 439.2 L282.8 439.2 L283.4 439.2 L284.0 439.0 L284.5 438.6 L285.1 438.1 L285.5 437.6 L285.9 437.0 L286.3 436.3 L286.6 435.7 L286.9 435.1 L287.2 434.5 L287.5 433.8 L287.8 433.1 L288.1 432.4 L288.4 431.6 L288.7 430.9 L289.0 430.0 L289.3 429.2 L289.6 428.4 L289.9 427.6 L290.2 426.7 L290.4 426.1 L290.7 425.3 L291.1 424.5 L291.4 423.6 L291.7 422.8 L292.0 422.0 L292.3 421.2 L292.6 420.4 L292.9 419.7 L293.2 419.0 L293.5 418.3 L293.8 417.7 L294.1 417.0 L294.4 416.5 L294.7 415.9 L295.1 415.3 L295.5 414.8 L295.9 414.3 L296.4 413.9 L297.1 413.5 L297.7 413.4 L298.3 413.5 L298.9 413.8 L299.4 414.3 L299.8 414.8 L300.2 415.4 L300.6 416.0 L300.9 416.6 L301.2 417.2 L301.5 417.8 L301.8 418.5 L302.1 419.2 L302.4 419.9 L302.8 420.7 L303.1 421.5 L303.4 422.3 L303.7 423.2 L304.0 424.0 L304.2 424.6 L304.4 425.1 L304.6 425.7 L304.8 426.3 L305.0 426.9 L305.2 427.4 L305.5 428.3 L305.8 429.1 L306.1 429.9 L306.4 430.7 L306.7 431.5 L307.0 432.2 L307.3 432.9 L307.6 433.6 L307.9 434.3 L308.2 434.8 L308.6 435.4 L309.0 436.1 L309.4 436.6 L309.8 437.1 L310.3 437.6 L310.9 437.9 L311.5 438.0 L312.1 438.0 L312.7 437.9 L313.3 437.5 L313.8 437.0 L314.2 436.5 L314.7 436.0 L315.1 435.3 L315.4 434.7 L315.7 434.1 L316.0 433.5 L316.3 432.8 L316.6 432.1 L316.9 431.3 L317.2 430.6 L317.5 429.8 L317.8 429.0 L318.1 428.1 L318.3 427.6 L318.5 427.0 L318.7 426.4 L318.9 425.8 L319.1 425.2 L319.3 424.7 L319.5 424.1 L319.7 423.5 L319.9 422.9 L320.1 422.4 L320.4 421.8 L320.7 421.0 L321.0 420.1 L321.3 419.3 L321.6 418.6 L321.9 417.8 L322.2 417.1 L322.5 416.4 L322.8 415.8 L323.1 415.2 L323.4 414.7 L323.8 414.0 L324.2 413.4 L324.6 412.9 L325.1 412.5 L325.7 412.1 L326.4 412.0 L327.0 412.1 L327.6 412.4 L328.1 412.9 L328.5 413.4 L328.9 414.0 L329.3 414.6 L329.6 415.2 L329.9 415.8 L330.2 416.4 L330.5 417.1 L330.8 417.8 L331.1 418.6 L331.4 419.4 L331.7 420.2 L332.1 421.0 L332.4 421.8 L332.6 422.4 L332.8 423.0 L333.0 423.5 L333.2 424.1 L333.4 424.7 L333.6 425.3 L333.8 425.8 L334.0 426.4 L334.2 427.0 L334.5 427.8 L334.8 428.6 L335.1 429.4 L335.4 430.2 L335.7 431.0 L336.0 431.7 L336.3 432.4 L336.6 433.0 L336.9 433.6 L337.2 434.2 L337.6 434.8 L338.1 435.4 L338.5 435.9 L339.0 436.4 L339.6 436.7 L340.2 436.8 L340.8 436.8 L341.4 436.8 L342.0 436.4 L342.5 435.9 L342.9 435.3 L343.3 434.7 L343.6 434.1 L344.0 433.4 L344.3 432.7 L344.6 431.9 L344.9 431.1 L345.1 430.5 L345.3 429.9 L345.5 429.3 L345.7 428.6 L345.9 428.0 L346.1 427.3 L346.3 426.6 L346.5 425.9 L346.7 425.2 L346.9 424.4 L347.1 423.7 L347.3 422.9 L347.5 422.2 L347.7 421.4 L347.9 420.6 L348.1 419.9 L348.3 419.1 L348.5 418.3 L348.7 417.5 L348.9 416.8 L349.1 416.0 L349.3 415.2 L349.5 414.5 L349.8 413.7 L350.0 413.0 L350.2 412.3 L350.4 411.6 L350.6 410.9 L350.8 410.2 L351.0 409.5 L351.2 408.9 L351.4 408.2 L351.6 407.6 L351.8 407.0 L352.1 406.2 L352.4 405.4 L352.7 404.7 L353.0 404.1 L353.3 403.5 L353.6 402.9 L354.0 402.3 L354.4 401.9 L354.9 401.5 L355.6 401.3 L356.2 401.4 L356.7 401.7 L357.1 402.2 L357.5 402.8 L357.8 403.3 L358.1 403.9 L358.4 404.6 L358.7 405.3 L359.0 406.1 L359.2 406.7 L359.4 407.3 L359.6 407.9 L359.8 408.6 L360.0 409.2 L360.2 409.9 L360.4 410.6 L360.6 411.3 L360.8 412.1 L361.0 412.8 L361.2 413.6 L361.5 414.4 L361.7 415.2 L361.9 416.0 L362.1 416.8 L362.3 417.6 L362.5 418.4 L362.7 419.2 L362.9 420.0 L363.1 420.8 L363.3 421.6 L363.5 422.4 L363.7 423.2 L363.9 423.9 L364.1 424.7 L364.3 425.4 L364.5 426.2 L364.7 426.9 L364.9 427.6 L365.1 428.3 L365.3 428.9 L365.5 429.6 L365.7 430.2 L365.9 430.8 L366.2 431.6 L366.5 432.4 L366.8 433.1 L367.1 433.7 L367.5 434.3 L367.9 434.9 L368.3 435.4 L368.8 435.8 L369.4 436.0 L370.0 436.0 L370.6 436.0 L371.2 435.7 L371.7 435.2 L372.1 434.6 L372.5 433.9 L372.8 433.4 L373.2 432.7 L373.5 432.0 L373.8 431.2 L374.1 430.4 L374.3 429.8 L374.5 429.2 L374.7 428.6 L374.9 427.9 L375.1 427.3 L375.3 426.6 L375.5 425.9 L375.7 425.2 L375.9 424.5 L376.1 423.7 L376.3 423.0 L376.5 422.2 L376.7 421.4 L376.9 420.7 L377.1 419.9 L377.3 419.1 L377.5 418.3 L377.7 417.5 L377.9 416.8 L378.1 416.0 L378.3 415.2 L378.5 414.4 L378.7 413.7 L378.9 412.9 L379.2 412.2 L379.4 411.4 L379.6 410.7 L379.8 410.0 L380.0 409.3 L380.2 408.6 L380.4 407.9 L380.6 407.3 L380.8 406.7 L381.0 406.1 L381.2 405.5 L381.5 404.7 L381.8 403.9 L382.1 403.2 L382.4 402.6 L382.7 402.0 L383.1 401.4 L383.5 400.8 L384.0 400.4 L384.6 400.1 L385.3 400.1 L385.9 400.5 L386.4 401.0 L386.8 401.6 L387.1 402.2 L387.4 402.8 L387.7 403.5 L388.0 404.2 L388.3 405.1 L388.5 405.6 L388.7 406.3 L388.9 406.9 L389.1 407.5 L389.3 408.2 L389.5 408.9 L389.7 409.6 L389.9 410.4 L390.1 411.1 L390.3 411.9 L390.5 412.7 L390.8 413.5 L391.0 414.3 L391.2 415.1 L391.4 415.9 L391.6 416.7 L391.8 417.5 L392.0 418.3 L392.2 419.1 L392.4 419.9 L392.6 420.7 L392.8 421.5 L393.0 422.3 L393.2 423.1 L393.4 423.9 L393.6 424.6 L393.8 425.4 L394.0 426.1 L394.2 426.8 L394.4 427.5 L394.6 428.2 L394.8 428.8 L395.0 429.4 L395.2 430.0 L395.4 430.6 L395.7 431.4 L396.0 432.1 L396.3 432.8 L396.7 433.3 L397.1 434.0 L397.5 434.5 L398.0 435.0 L398.6 435.2 L399.2 435.2 L399.8 435.0 L400.3 434.6 L400.7 434.0 L401.0 433.5 L401.3 432.9 L401.6 432.2 L401.9 431.4 L402.1 430.8 L402.3 430.2 L402.6 429.5 L402.8 428.8 L403.0 428.1 L403.2 427.4 L403.4 426.6 L403.6 425.8 L403.8 424.9 L404.0 424.1 L404.2 423.2 L404.4 422.3 L404.6 421.4 L404.8 420.4 L405.0 419.5 L405.2 418.5 L405.4 417.5 L405.6 416.5 L405.8 415.5 L406.0 414.5 L406.2 413.5 L406.4 412.5 L406.6 411.4 L406.8 410.4 L407.0 409.4 L407.2 408.4 L407.4 407.4 L407.6 406.4 L407.8 405.5 L408.0 404.5 L408.2 403.5 L408.5 402.6 L408.7 401.7 L408.9 400.8 L409.1 400.0 L409.3 399.1 L409.5 398.3 L409.7 397.5 L409.9 396.8 L410.1 396.0 L410.3 395.3 L410.5 394.7 L410.7 394.1 L410.9 393.5 L411.2 392.7 L411.5 391.9 L411.8 391.3 L412.1 390.8 L412.5 390.2 L413.0 389.7 L413.6 389.6 L414.3 389.8 L414.8 390.3 L415.2 391.0 L415.5 391.6 L415.8 392.2 L416.1 393.0 L416.3 393.6 L416.5 394.2 L416.7 394.9 L416.9 395.6 L417.1 396.3 L417.3 397.1 L417.5 397.9 L417.7 398.7 L417.9 399.5 L418.1 400.4 L418.3 401.3 L418.5 402.3 L418.7 403.2 L418.9 404.2 L419.1 405.2 L419.3 406.2 L419.5 407.2 L419.7 408.2 L419.9 409.2 L420.2 410.3 L420.4 411.3 L420.6 412.4 L420.8 413.4 L421.0 414.4 L421.2 415.5 L421.4 416.5 L421.6 417.5 L421.8 418.5 L422.0 419.5 L422.2 420.5 L422.4 421.4 L422.6 422.4 L422.8 423.3 L423.0 424.2 L423.2 425.0 L423.4 425.9 L423.6 426.7 L423.8 427.5 L424.0 428.2 L424.2 428.9 L424.4 429.6 L424.6 430.2 L424.8 430.8 L425.1 431.6 L425.4 432.3 L425.7 432.9 L426.1 433.5 L426.5 434.0 L427.0 434.4 L427.6 434.5 L428.2 434.3 L428.7 433.9 L429.1 433.3 L429.4 432.7 L429.7 432.1 L430.0 431.3 L430.3 430.5 L430.5 429.9 L430.7 429.2 L430.9 428.5 L431.1 427.8 L431.3 427.1 L431.5 426.3 L431.7 425.4 L432.0 424.6 L432.2 423.7 L432.4 422.8 L432.6 421.9 L432.8 420.9 L433.0 420.0 L433.2 419.0 L433.4 418.0 L433.6 416.9 L433.8 415.9 L434.0 414.9 L434.2 413.8 L434.4 412.8 L434.6 411.7 L434.8 410.7 L435.0 409.6 L435.2 408.5 L435.4 407.5 L435.6 406.5 L435.8 405.4 L436.0 404.4 L436.2 403.4 L436.4 402.4 L436.6 401.4 L436.8 400.5 L437.0 399.6 L437.2 398.7 L437.4 397.8 L437.6 396.9 L437.9 396.1 L438.1 395.3 L438.3 394.6 L438.5 393.8 L438.7 393.2 L438.9 392.5 L439.1 391.9 L439.3 391.3 L439.6 390.5 L439.9 389.9 L440.2 389.3 L440.6 388.7 L441.1 388.2 L441.7 387.9 L442.3 388.1 L442.8 388.7 L443.2 389.3 L443.5 389.9 L443.9 390.5 L444.2 391.3 L444.4 391.9 L444.6 392.5 L444.8 393.1 L445.0 393.8 L445.2 394.5 L445.4 395.3 L445.6 396.1 L445.8 396.9 L446.0 397.8 L446.2 398.6 L446.4 399.5 L446.6 400.4 L446.8 401.4 L447.0 402.4 L447.2 403.3 L447.4 404.3 L447.6 405.3 L447.8 406.4 L448.0 407.4 L448.2 408.4 L448.4 409.5 L448.6 410.5 L448.8 411.5 L449.0 412.6 L449.2 413.6 L449.4 414.6 L449.7 415.7 L449.9 416.7 L450.1 417.6 L450.3 418.6 L450.5 419.6 L450.7 420.5 L450.9 421.4 L451.1 422.3 L451.3 423.2 L451.5 424.0 L451.7 424.8 L451.9 425.6 L452.1 426.4 L452.3 427.1 L452.5 427.8 L452.7 428.4 L452.9 429.0 L453.2 429.8 L453.5 430.5 L453.8 431.2 L454.1 431.7 L454.5 432.2 L455.0 432.7 L455.7 432.8 L456.3 432.8 L456.9 432.6 L457.4 432.1 L457.8 431.5 L458.1 430.9 L458.4 430.2 L458.7 429.3 L458.9 428.7 L459.1 428.1 L459.3 427.4 L459.5 426.7 L459.7 425.9 L459.9 425.1 L460.1 424.2 L460.3 423.3 L460.5 422.4 L460.7 421.5 L460.9 420.5 L461.1 419.5 L461.4 418.4 L461.6 417.4 L461.8 416.3 L462.0 415.2 L462.2 414.0 L462.4 412.9 L462.6 411.7 L462.8 410.5 L463.0 409.4 L463.1 408.8 L463.2 408.2 L463.3 407.6 L463.4 407.0 L463.5 406.4 L463.6 405.8 L463.7 405.2 L463.8 404.6 L463.9 404.0 L464.0 403.4 L464.1 402.8 L464.2 402.2 L464.3 401.6 L464.4 401.0 L464.5 400.4 L464.7 399.2 L464.9 398.1 L465.1 396.9 L465.3 395.8 L465.5 394.7 L465.7 393.6 L465.9 392.5 L466.1 391.4 L466.3 390.4 L466.5 389.4 L466.7 388.5 L466.9 387.5 L467.2 386.6 L467.4 385.8 L467.6 384.9 L467.8 384.2 L468.0 383.4 L468.2 382.7 L468.4 382.1 L468.6 381.4 L468.8 380.9 L469.1 380.1 L469.4 379.4 L469.7 378.9 L470.1 378.3 L470.6 377.9 L471.2 377.9 L471.7 378.2 L472.1 378.7 L472.4 379.3 L472.7 379.9 L473.1 380.7 L473.3 381.3 L473.5 381.9 L473.7 382.6 L473.9 383.4 L474.1 384.1 L474.3 385.0 L474.5 385.8 L474.7 386.7 L474.9 387.7 L475.1 388.6 L475.3 389.6 L475.5 390.7 L475.7 391.7 L475.9 392.8 L476.1 394.0 L476.3 395.1 L476.5 396.3 L476.7 397.5 L476.8 398.1 L476.9 398.7 L477.0 399.3 L477.1 399.9 L477.2 400.5 L477.3 401.1 L477.4 401.7 L477.5 402.3 L477.6 402.9 L477.7 403.5 L477.8 404.2 L477.9 404.8 L478.0 405.4 L478.1 406.0 L478.2 406.6 L478.3 407.2 L478.4 407.8 L478.5 408.5 L478.6 409.1 L478.7 409.7 L478.9 410.3 L479.0 410.9 L479.1 411.5 L479.2 412.1 L479.4 413.2 L479.6 414.4 L479.8 415.5 L480.0 416.6 L480.2 417.7 L480.4 418.8 L480.6 419.8 L480.8 420.8 L481.0 421.7 L481.2 422.6 L481.4 423.5 L481.6 424.4 L481.8 425.1 L482.0 425.9 L482.2 426.6 L482.4 427.2 L482.6 427.8 L482.9 428.7 L483.2 429.4 L483.5 429.9 L483.9 430.5 L484.4 430.9 L485.1 431.0 L485.7 431.0 L486.3 430.9 L486.8 430.5 L487.2 429.9 L487.5 429.4 L487.8 428.7 L488.1 427.9 L488.3 427.4 L488.5 426.8 L488.7 426.1 L488.9 425.4 L489.1 424.6 L489.3 423.9 L489.5 423.0 L489.7 422.2 L489.9 421.3 L490.1 420.3 L490.3 419.4 L490.5 418.3 L490.8 417.3 L491.0 416.3 L491.2 415.2 L491.4 414.1 L491.6 412.9 L491.8 411.8 L492.0 410.6 L492.2 409.5 L492.3 408.9 L492.4 408.3 L492.5 407.7 L492.6 407.1 L492.7 406.5 L492.8 405.8 L492.9 405.2 L493.0 404.6 L493.1 404.0 L493.2 403.4 L493.3 402.8 L493.4 402.2 L493.5 401.6 L493.6 401.0 L493.7 400.3 L493.8 399.7 L493.9 399.1 L494.0 398.5 L494.1 397.9 L494.2 397.3 L494.3 396.7 L494.4 396.1 L494.5 395.5 L494.6 394.9 L494.8 393.7 L495.0 392.6 L495.2 391.4 L495.4 390.3 L495.6 389.2 L495.8 388.1 L496.0 387.1 L496.2 386.1 L496.4 385.1 L496.7 384.1 L496.9 383.2 L497.1 382.3 L497.3 381.5 L497.5 380.6 L497.7 379.9 L497.9 379.1 L498.1 378.4 L498.3 377.8 L498.5 377.2 L498.8 376.4 L499.1 375.7 L499.4 375.1 L499.8 374.4 L500.3 374.0 L501.1 373.9 L502.0 374.1 L502.8 374.3 L503.6 374.5 L504.5 374.8 L505.3 375.0 L506.2 375.3 L507.0 375.5 L507.9 375.8 L508.7 376.0 L509.6 376.3 L510.4 376.6 L511.2 376.9 L512.1 377.2 L512.7 377.4 L513.2 377.6 L513.8 377.8 L514.3 378.1 L514.9 378.3 L515.5 378.5 L516.0 378.7 L516.6 379.0 L517.2 379.2 L517.7 379.5 L518.3 379.7 L518.9 379.9 L519.4 380.2 L520.0 380.4 L520.5 380.7 L521.1 381.0 L521.7 381.2 L522.2 381.5 L522.8 381.7 L523.4 382.0 L523.9 382.3 L524.5 382.5 L525.1 382.8 L525.6 383.1 L526.2 383.3 L526.7 383.6 L527.3 383.9 L527.9 384.1 L528.4 384.4 L529.0 384.7 L529.6 384.9 L530.1 385.2 L530.7 385.5 L531.2 385.7 L531.8 386.0 L532.4 386.3 L532.9 386.5 L533.5 386.8 L534.1 387.1 L534.6 387.4 L535.2 387.6 L535.8 387.9 L536.3 388.2 L536.9 388.5 L537.4 388.8 L538.0 389.0 L538.6 389.3 L539.1 389.6 L539.7 389.9 L540.3 390.2 L540.8 390.5 L541.4 390.8 L542.0 391.1 L542.5 391.4 L543.1 391.6 L543.6 391.9 L544.2 392.2 L544.8 392.5 L545.3 392.8 L545.9 393.1 L546.5 393.4 L547.0 393.7 L547.6 394.0 L548.2 394.3 L548.7 394.6 L549.3 394.9 L549.8 395.2 L550.4 395.5 L551.0 395.8 L551.5 396.1 L552.1 396.4 L552.7 396.7 L553.2 397.0 L553.8 397.3 L554.4 397.7 L554.9 398.0 L555.5 398.3 L556.0 398.6 L556.6 398.9 L557.2 399.2 L557.7 399.6 L558.3 399.9 L558.9 400.2 L559.4 400.5 L560.0 400.9 L560.5 401.2 L561.1 401.5 L561.7 401.8 L562.2 402.1 L562.8 402.5 L563.4 402.8 L563.9 403.1 L564.5 403.4 L565.1 403.7 L565.6 404.0 L566.2 404.3 L566.7 404.6 L567.3 404.9 L567.9 405.2 L568.4 405.5 L569.0 405.8 L569.6 406.1 L570.1 406.4 L570.7 406.7 L571.3 407.0 L571.8 407.3 L572.4 407.5 L572.9 407.8 L573.5 408.1 L574.1 408.4 L574.6 408.6 L575.2 408.9 L575.8 409.2 L576.3 409.4 L576.9 409.7 L577.5 410.0 L578.0 410.2 L578.6 410.5 L579.1 410.7 L579.7 411.0 L580.3 411.3 L580.8 411.5 L581.4 411.8 L582.0 412.0 L582.5 412.3 L583.1 412.5 L583.6 412.8 L584.2 413.0 L584.8 413.3 L585.3 413.5 L585.9 413.7 L586.5 414.0 L587.0 414.2 L587.6 414.5 L588.2 414.7 L588.7 414.9 L589.3 415.2 L589.8 415.4 L590.4 415.6 L591.0 415.9 L591.5 416.1 L592.1 416.3 L592.7 416.6 L593.2 416.8 L593.8 417.0 L594.4 417.2 L594.9 417.5 L595.5 417.7 L596.0 417.9 L596.6 418.2 L597.2 418.4 L597.7 418.6 L598.3 418.8 L598.9 419.1 L599.4 419.3 L600.0 419.5 L600.6 419.7 L601.1 419.9 L601.7 420.1 L602.2 420.4 L602.8 420.6 L603.4 420.8 L604.2 421.1 L605.1 421.4 L605.9 421.7 L606.7 422.0 L607.6 422.3 L608.4 422.5 L609.3 422.8 L610.1 423.0 L611.0 423.3 L611.8 423.5 L612.7 423.8 L613.5 424.0 L614.4 424.2 L615.2 424.5 L616.0 424.7 L616.9 424.9 L617.7 425.1 L618.6 425.4 L619.4 425.6 L620.3 425.8 L621.1 426.0 L622.0 426.2 L622.8 426.3 L623.7 426.5 L624.5 426.7 L625.3 426.8 L626.2 426.9 L627.0 427.1 L627.9 427.2 L628.7 427.3 L629.6 427.4 L630.4 427.5 L631.3 427.5 L632.1 427.6 L632.9 427.7 L633.8 427.8 L634.6 427.9 L635.5 427.9 L636.3 428.0 L637.2 428.0 L638.0 428.1 L638.9 428.1 L639.7 428.2 L640.6 428.2 L641.4 428.2" stroke="#0000ff" stroke-width="2.6" stroke-dasharray="10.2 3.0 5.0 2.9"/>
</g>
<rect x="94.0" y="374.2" width="573.8" height="80.80000000000001" fill="none" stroke="#262626" stroke-width="1.9"/>
<path d="M94.00 455.0 V449.00 M94.00 374.2 V380.20 M151.38 455.0 V449.00 M151.38 374.2 V380.20 M208.76 455.0 V449.00 M208.76 374.2 V380.20 M266.14 455.0 V449.00 M266.14 374.2 V380.20 M323.52 455.0 V449.00 M323.52 374.2 V380.20 M380.90 455.0 V449.00 M380.90 374.2 V380.20 M438.28 455.0 V449.00 M438.28 374.2 V380.20 M495.66 455.0 V449.00 M495.66 374.2 V380.20 M553.04 455.0 V449.00 M553.04 374.2 V380.20 M610.42 455.0 V449.00 M610.42 374.2 V380.20 M667.80 455.0 V449.00 M667.80 374.2 V380.20 M94.0 415.25 H99.80 M667.8 415.25 H662.00" stroke="#262626" stroke-width="1.6" fill="none"/>
<text x="92.80" y="478.60" font-family="'Liberation Serif', serif" font-size="19.0" fill="#151515" text-anchor="middle">0</text>
<text x="150.42" y="478.60" font-family="'Liberation Serif', serif" font-size="19.0" fill="#151515" text-anchor="middle">1</text>
<text x="208.04" y="478.60" font-family="'Liberation Serif', serif" font-size="19.0" fill="#151515" text-anchor="middle">2</text>
<text x="265.66" y="478.60" font-family="'Liberation Serif', serif" font-size="19.0" fill="#151515" text-anchor="middle">3</text>
<text x="323.28" y="478.60" font-family="'Liberation Serif', serif" font-size="19.0" fill="#151515" text-anchor="middle">4</text>
<text x="380.90" y="478.60" font-family="'Liberation Serif', serif" font-size="19.0" fill="#151515" text-anchor="middle">5</text>
<text x="438.52" y="478.60" font-family="'Liberation Serif', serif" font-size="19.0" fill="#151515" text-anchor="middle">6</text>
<text x="496.14" y="478.60" font-family="'Liberation Serif', serif" font-size="19.0" fill="#151515" text-anchor="middle">7</text>
<text x="553.76" y="478.60" font-family="'Liberation Serif', serif" font-size="19.0" fill="#151515" text-anchor="middle">8</text>
<text x="611.38" y="478.60" font-family="'Liberation Serif', serif" font-size="19.0" fill="#151515" text-anchor="middle">9</text>
<text x="669.00" y="478.60" font-family="'Liberation Serif', serif" font-size="19.0" fill="#151515" text-anchor="middle">10</text>
<text x="88.30" y="463.85" font-family="'Liberation Serif', serif" font-size="19.0" fill="#151515" text-anchor="end">30</text>
<text x="88.30" y="422.65" font-family="'Liberation Serif', serif" font-size="19.0" fill="#151515" text-anchor="end">40</text>
<text x="88.30" y="381.75" font-family="'Liberation Serif', serif" font-size="19.0" fill="#151515" text-anchor="end">50</text>
<text x="377.2" y="114.1" font-family="'Liberation Serif', serif" font-size="20.3" font-weight="bold" fill="#151515" text-anchor="middle">(a)</text>
<text x="381.4" y="239.15" font-family="'Liberation Serif', serif" font-size="20.3" font-weight="bold" fill="#151515" text-anchor="middle">(b)</text>
<text x="381.4" y="360.1" font-family="'Liberation Serif', serif" font-size="20.3" font-weight="bold" fill="#151515" text-anchor="middle">(c)</text>
<text x="381.2" y="491.6" font-family="'Liberation Serif', serif" font-size="20.3" font-weight="bold" fill="#151515" text-anchor="middle">(d)</text>
<text x="387.8" y="517.4" font-family="'Liberation Serif', serif" font-size="21.4" fill="#151515" text-anchor="middle">Time(s)</text>
<text class="yl" transform="translate(21.2 231.9) rotate(-90)" font-family="'Liberation Serif', serif" font-size="27.3" fill="#262626" text-anchor="middle">Temperature(°C)</text>
</g>
</svg>
</body></html>
